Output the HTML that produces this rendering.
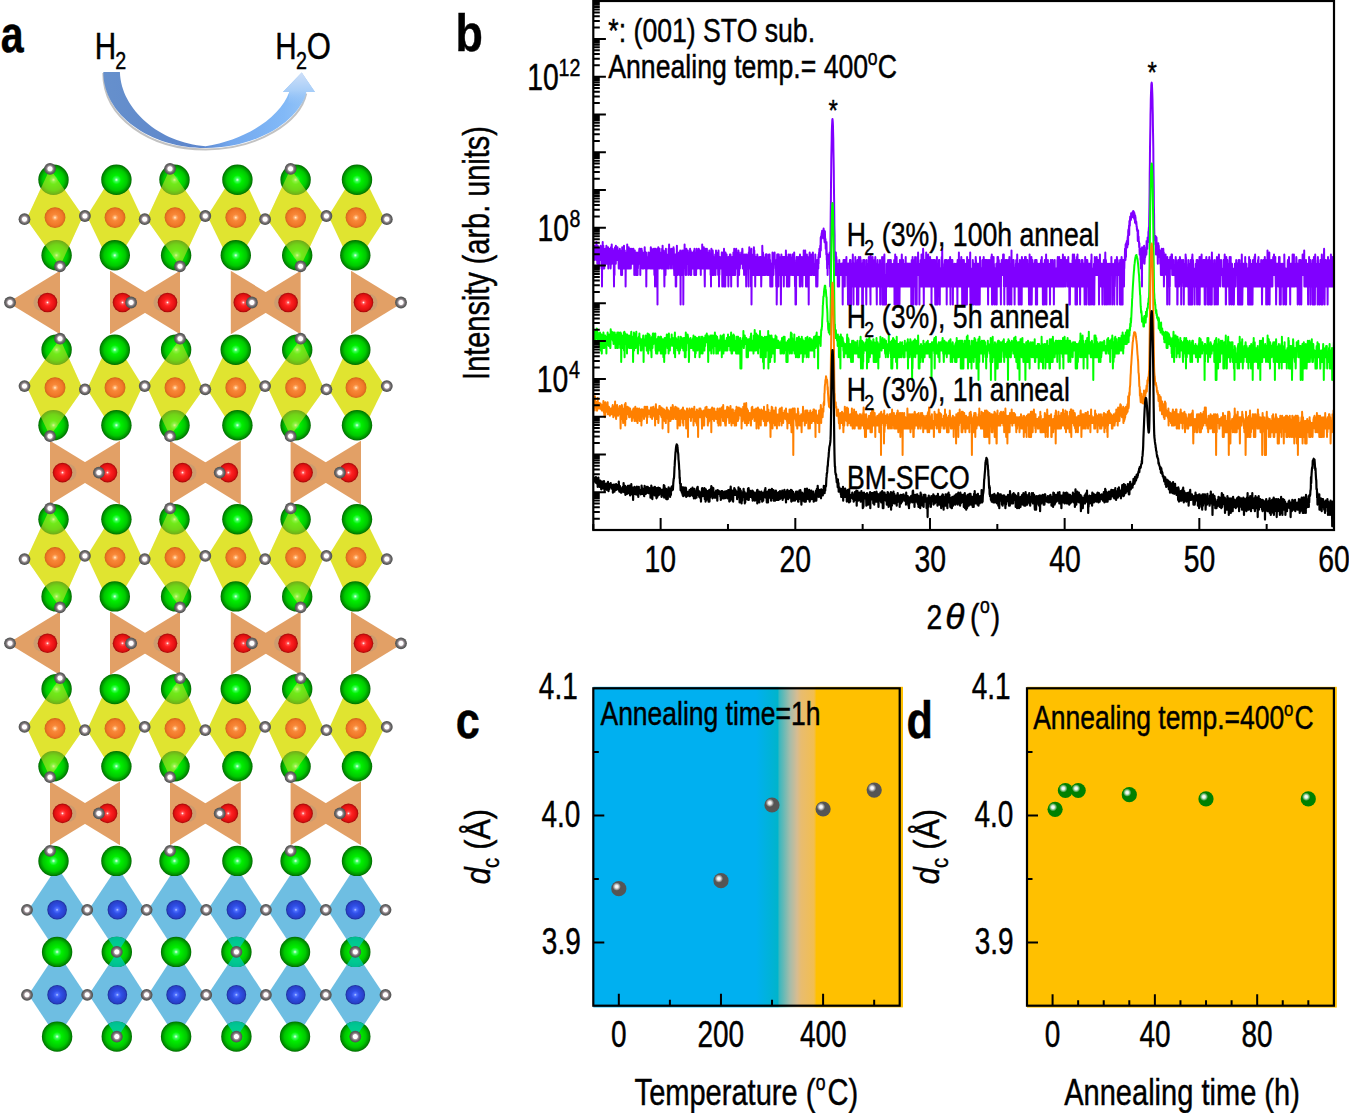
<!DOCTYPE html>
<html><head><meta charset="utf-8"><style>
html,body{margin:0;padding:0;background:#fff;}
svg{display:block;}
text{font-family:"Liberation Sans",sans-serif;stroke:#000;stroke-width:0.45px;}
</style></head><body>
<svg width="1349" height="1113" viewBox="0 0 1349 1113">
<defs>
<clipPath id="clipb"><rect x="593.3" y="1.0" width="740.7" height="529.0"/></clipPath>
<radialGradient id="hl"><stop offset="0" stop-color="#fff" stop-opacity="1"/><stop offset="0.35" stop-color="#fff" stop-opacity="0.9"/><stop offset="1" stop-color="#fff" stop-opacity="0"/></radialGradient>
<linearGradient id="cbg" gradientUnits="userSpaceOnUse" x1="593" y1="0" x2="903" y2="0">
<stop offset="0.5258" stop-color="#00b0f0"/><stop offset="0.5952" stop-color="#00b4cc"/><stop offset="0.6016" stop-color="#3cb8be"/>
<stop offset="0.6355" stop-color="#a6bcaa"/><stop offset="0.6581" stop-color="#d6bc92"/><stop offset="0.6710" stop-color="#e8bc70"/><stop offset="0.7129" stop-color="#f2be50"/><stop offset="0.7210" stop-color="#ffc000"/>
</linearGradient>
<radialGradient id="gG" cx="0.5" cy="0.5" r="0.5"><stop offset="0" stop-color="#e8fff0"/><stop offset="0.12" stop-color="#40ff60"/><stop offset="0.3" stop-color="#00f000"/><stop offset="0.7" stop-color="#00c800"/><stop offset="0.9" stop-color="#009000"/><stop offset="1" stop-color="#006a00"/></radialGradient>
<radialGradient id="gO" cx="0.5" cy="0.5" r="0.5"><stop offset="0" stop-color="#fff4d8"/><stop offset="0.14" stop-color="#ffb070"/><stop offset="0.32" stop-color="#f88838"/><stop offset="0.75" stop-color="#f07828"/><stop offset="0.92" stop-color="#e06a20"/><stop offset="1" stop-color="#c85a18"/></radialGradient>
<radialGradient id="gR" cx="0.5" cy="0.5" r="0.5"><stop offset="0" stop-color="#ffffff"/><stop offset="0.15" stop-color="#ff5050"/><stop offset="0.35" stop-color="#ff2020"/><stop offset="0.8" stop-color="#e01010"/><stop offset="1" stop-color="#a00808"/></radialGradient>
<radialGradient id="gB" cx="0.5" cy="0.5" r="0.5"><stop offset="0" stop-color="#c0d0ff"/><stop offset="0.15" stop-color="#5070ff"/><stop offset="0.4" stop-color="#3050e8"/><stop offset="0.85" stop-color="#2840c8"/><stop offset="1" stop-color="#1a2890"/></radialGradient>
<radialGradient id="gW" cx="0.5" cy="0.5" r="0.5"><stop offset="0" stop-color="#ffffff"/><stop offset="0.36" stop-color="#ffffff"/><stop offset="0.5" stop-color="#a898a0"/><stop offset="0.7" stop-color="#6c6c6c"/><stop offset="1" stop-color="#4c4c4c"/></radialGradient>
<clipPath id="tealclip"><circle cx="116.8" cy="951.9" r="15.2"/><circle cx="236.4" cy="951.9" r="15.2"/><circle cx="355.3" cy="951.9" r="15.2"/><circle cx="116.8" cy="1036.6" r="15.2"/><circle cx="236.4" cy="1036.6" r="15.2"/><circle cx="355.3" cy="1036.6" r="15.2"/></clipPath>
<linearGradient id="arr" gradientUnits="userSpaceOnUse" x1="103" y1="0" x2="316" y2="0"><stop offset="0" stop-color="#6690cc"/><stop offset="0.45" stop-color="#5d86cc"/><stop offset="0.6" stop-color="#73a8ee"/><stop offset="0.85" stop-color="#82b9f7"/><stop offset="1" stop-color="#9cc8f6"/></linearGradient>
<linearGradient id="arrh" gradientUnits="userSpaceOnUse" x1="0" y1="72" x2="0" y2="106"><stop offset="0" stop-color="#d0e0f8"/><stop offset="0.55" stop-color="#a8cef8"/><stop offset="1" stop-color="#8fc0f7" stop-opacity="0"/></linearGradient>
</defs>
<rect width="1349" height="1113" fill="#fff"/>
<g clip-path="url(#clipb)">
<polyline points="593.3,257.1 593.5,245.7 593.6,247.2 593.8,252.4 593.9,254.6 594.1,252.4 594.3,260.1 594.4,254.6 594.6,257.1 594.8,250.5 594.9,245.7 595.1,252.4 595.2,257.1 595.4,257.1 595.6,254.6 595.7,250.5 595.9,247.2 596.0,247.2 596.2,260.1 596.4,242.1 596.5,247.2 596.7,252.4 596.9,260.1 597.0,257.1 597.2,245.7 597.3,263.8 597.5,260.1 597.7,247.2 597.8,245.7 598.0,248.7 598.1,260.1 598.3,247.2 598.5,254.6 598.6,260.1 598.8,268.5 599.0,263.8 599.1,260.1 599.3,252.4 599.4,250.5 599.6,252.4 599.8,254.6 599.9,260.1 600.1,257.1 600.2,248.7 600.4,250.5 600.6,245.7 600.7,250.5 600.9,248.7 601.1,247.2 601.2,252.4 601.4,248.7 601.5,268.5 601.7,250.5 601.9,254.6 602.0,286.5 602.2,247.2 602.4,250.5 602.5,257.1 602.7,242.1 602.8,257.1 603.0,254.6 603.2,257.1 603.3,245.7 603.5,268.5 603.6,248.7 603.8,263.8 604.0,260.1 604.1,257.1 604.3,268.5 604.5,257.1 604.6,257.1 604.8,263.8 604.9,254.6 605.1,248.7 605.3,260.1 605.4,252.4 605.6,254.6 605.7,252.4 605.9,250.5 606.1,260.1 606.2,263.8 606.4,245.7 606.6,248.7 606.7,263.8 606.9,250.5 607.0,263.8 607.2,257.1 607.4,263.8 607.5,257.1 607.7,260.1 607.8,254.6 608.0,247.2 608.2,257.1 608.3,268.5 608.5,260.1 608.7,252.4 608.8,260.1 609.0,257.1 609.1,254.6 609.3,263.8 609.5,254.6 609.6,263.8 609.8,254.6 609.9,248.7 610.1,250.5 610.3,263.8 610.4,248.7 610.6,268.5 610.8,263.8 610.9,247.2 611.1,257.1 611.2,254.6 611.4,254.6 611.6,252.4 611.7,244.4 611.9,250.5 612.0,263.8 612.2,250.5 612.4,257.1 612.5,257.1 612.7,248.7 612.9,252.4 613.0,257.1 613.2,257.1 613.3,252.4 613.5,260.1 613.7,250.5 613.8,260.1 614.0,286.5 614.1,263.8 614.3,257.1 614.5,275.1 614.6,257.1 614.8,254.6 615.0,247.2 615.1,248.7 615.3,260.1 615.4,252.4 615.6,250.5 615.8,263.8 615.9,245.7 616.1,260.1 616.2,248.7 616.4,254.6 616.6,260.1 616.7,260.1 616.9,254.6 617.1,257.1 617.2,250.5 617.4,247.2 617.5,247.2 617.7,257.1 617.9,250.5 618.0,260.1 618.2,260.1 618.3,254.6 618.5,254.6 618.7,268.5 618.8,257.1 619.0,254.6 619.2,260.1 619.3,260.1 619.5,268.5 619.6,260.1 619.8,248.7 620.0,252.4 620.1,257.1 620.3,250.5 620.5,252.4 620.6,268.5 620.8,252.4 620.9,254.6 621.1,275.1 621.3,260.1 621.4,260.1 621.6,260.1 621.7,263.8 621.9,268.5 622.1,275.1 622.2,247.2 622.4,260.1 622.6,248.7 622.7,257.1 622.9,260.1 623.0,252.4 623.2,250.5 623.4,268.5 623.5,254.6 623.7,254.6 623.8,263.8 624.0,245.7 624.2,268.5 624.3,252.4 624.5,263.8 624.7,252.4 624.8,250.5 625.0,260.1 625.1,263.8 625.3,260.1 625.5,254.6 625.6,286.5 625.8,263.8 625.9,268.5 626.1,254.6 626.3,254.6 626.4,268.5 626.6,260.1 626.8,252.4 626.9,268.5 627.1,252.4 627.2,244.4 627.4,263.8 627.6,263.8 627.7,263.8 627.9,257.1 628.0,268.5 628.2,260.1 628.4,252.4 628.5,263.8 628.7,247.2 628.9,254.6 629.0,268.5 629.2,268.5 629.3,257.1 629.5,263.8 629.7,257.1 629.8,254.6 630.0,257.1 630.1,248.7 630.3,268.5 630.5,260.1 630.6,254.6 630.8,268.5 631.0,257.1 631.1,263.8 631.3,252.4 631.4,252.4 631.6,257.1 631.8,248.7 631.9,263.8 632.1,260.1 632.2,254.6 632.4,257.1 632.6,260.1 632.7,260.1 632.9,263.8 633.1,252.4 633.2,263.8 633.4,248.7 633.5,263.8 633.7,260.1 633.9,260.1 634.0,257.1 634.2,257.1 634.3,275.1 634.5,260.1 634.7,260.1 634.8,250.5 635.0,268.5 635.2,257.1 635.3,252.4 635.5,268.5 635.6,260.1 635.8,275.1 636.0,260.1 636.1,268.5 636.3,275.1 636.4,260.1 636.6,257.1 636.8,275.1 636.9,252.4 637.1,257.1 637.3,260.1 637.4,257.1 637.6,275.1 637.7,260.1 637.9,268.5 638.1,260.1 638.2,263.8 638.4,257.1 638.6,252.4 638.7,257.1 638.9,260.1 639.0,260.1 639.2,250.5 639.4,248.7 639.5,257.1 639.7,263.8 639.8,260.1 640.0,248.7 640.2,252.4 640.3,275.1 640.5,254.6 640.7,252.4 640.8,260.1 641.0,250.5 641.1,250.5 641.3,250.5 641.5,252.4 641.6,248.7 641.8,257.1 641.9,250.5 642.1,263.8 642.3,268.5 642.4,254.6 642.6,257.1 642.8,260.1 642.9,252.4 643.1,268.5 643.2,263.8 643.4,254.6 643.6,268.5 643.7,257.1 643.9,260.1 644.0,260.1 644.2,254.6 644.4,260.1 644.5,260.1 644.7,247.2 644.9,257.1 645.0,252.4 645.2,263.8 645.3,268.5 645.5,268.5 645.7,260.1 645.8,252.4 646.0,252.4 646.1,254.6 646.3,286.5 646.5,257.1 646.6,257.1 646.8,260.1 647.0,268.5 647.1,268.5 647.3,268.5 647.4,260.1 647.6,257.1 647.8,268.5 647.9,263.8 648.1,268.5 648.2,260.1 648.4,252.4 648.6,263.8 648.7,260.1 648.9,263.8 649.1,263.8 649.2,260.1 649.4,254.6 649.5,254.6 649.7,257.1 649.9,268.5 650.0,252.4 650.2,263.8 650.3,257.1 650.5,263.8 650.7,263.8 650.8,247.2 651.0,268.5 651.2,268.5 651.3,260.1 651.5,263.8 651.6,254.6 651.8,248.7 652.0,268.5 652.1,257.1 652.3,257.1 652.4,260.1 652.6,263.8 652.8,268.5 652.9,260.1 653.1,268.5 653.3,263.8 653.4,257.1 653.6,250.5 653.7,250.5 653.9,248.7 654.1,268.5 654.2,263.8 654.4,275.1 654.5,263.8 654.7,257.1 654.9,248.7 655.0,286.5 655.2,252.4 655.4,263.8 655.5,268.5 655.7,260.1 655.8,248.7 656.0,254.6 656.2,263.8 656.3,252.4 656.5,286.5 656.7,275.1 656.8,260.1 657.0,257.1 657.1,257.1 657.3,263.8 657.5,304.5 657.6,257.1 657.8,248.7 657.9,263.8 658.1,252.4 658.3,247.2 658.4,260.1 658.6,260.1 658.8,263.8 658.9,257.1 659.1,252.4 659.2,257.1 659.4,268.5 659.6,248.7 659.7,263.8 659.9,263.8 660.0,263.8 660.2,254.6 660.4,254.6 660.5,263.8 660.7,263.8 660.9,260.1 661.0,257.1 661.2,252.4 661.3,268.5 661.5,260.1 661.7,263.8 661.8,260.1 662.0,268.5 662.1,248.7 662.3,260.1 662.5,254.6 662.6,245.7 662.8,260.1 663.0,260.1 663.1,268.5 663.3,250.5 663.4,257.1 663.6,263.8 663.8,254.6 663.9,252.4 664.1,263.8 664.2,268.5 664.4,286.5 664.6,263.8 664.7,260.1 664.9,268.5 665.1,260.1 665.2,263.8 665.4,250.5 665.5,275.1 665.7,260.1 665.9,248.7 666.0,254.6 666.2,263.8 666.3,268.5 666.5,260.1 666.7,263.8 666.8,254.6 667.0,263.8 667.2,260.1 667.3,257.1 667.5,257.1 667.6,263.8 667.8,268.5 668.0,254.6 668.1,257.1 668.3,260.1 668.4,268.5 668.6,248.7 668.8,260.1 668.9,268.5 669.1,244.4 669.3,257.1 669.4,252.4 669.6,263.8 669.7,257.1 669.9,250.5 670.1,263.8 670.2,257.1 670.4,250.5 670.5,263.8 670.7,263.8 670.9,260.1 671.0,268.5 671.2,248.7 671.4,257.1 671.5,260.1 671.7,263.8 671.8,263.8 672.0,260.1 672.2,263.8 672.3,260.1 672.5,260.1 672.6,248.7 672.8,250.5 673.0,260.1 673.1,268.5 673.3,250.5 673.5,247.2 673.6,257.1 673.8,248.7 673.9,254.6 674.1,268.5 674.3,275.1 674.4,260.1 674.6,254.6 674.8,260.1 674.9,260.1 675.1,263.8 675.2,268.5 675.4,254.6 675.6,254.6 675.7,286.5 675.9,260.1 676.0,263.8 676.2,286.5 676.4,260.1 676.5,260.1 676.7,257.1 676.9,245.7 677.0,263.8 677.2,257.1 677.3,257.1 677.5,268.5 677.7,275.1 677.8,260.1 678.0,260.1 678.1,254.6 678.3,257.1 678.5,257.1 678.6,263.8 678.8,257.1 679.0,252.4 679.1,254.6 679.3,252.4 679.4,257.1 679.6,275.1 679.8,263.8 679.9,260.1 680.1,268.5 680.2,250.5 680.4,252.4 680.6,304.5 680.7,254.6 680.9,263.8 681.1,254.6 681.2,268.5 681.4,268.5 681.5,268.5 681.7,260.1 681.9,263.8 682.0,254.6 682.2,250.5 682.3,275.1 682.5,260.1 682.7,254.6 682.8,268.5 683.0,275.1 683.2,257.1 683.3,304.5 683.5,250.5 683.6,250.5 683.8,260.1 684.0,260.1 684.1,263.8 684.3,260.1 684.4,263.8 684.6,244.4 684.8,263.8 684.9,252.4 685.1,263.8 685.3,268.5 685.4,263.8 685.6,275.1 685.7,250.5 685.9,260.1 686.1,275.1 686.2,254.6 686.4,248.7 686.5,252.4 686.7,252.4 686.9,250.5 687.0,260.1 687.2,257.1 687.4,263.8 687.5,257.1 687.7,257.1 687.8,250.5 688.0,254.6 688.2,254.6 688.3,275.1 688.5,257.1 688.6,260.1 688.8,268.5 689.0,257.1 689.1,257.1 689.3,252.4 689.5,260.1 689.6,254.6 689.8,254.6 689.9,254.6 690.1,248.7 690.3,275.1 690.4,252.4 690.6,250.5 690.7,257.1 690.9,260.1 691.1,260.1 691.2,275.1 691.4,263.8 691.6,257.1 691.7,263.8 691.9,252.4 692.0,263.8 692.2,263.8 692.4,257.1 692.5,257.1 692.7,263.8 692.9,268.5 693.0,252.4 693.2,257.1 693.3,260.1 693.5,260.1 693.7,268.5 693.8,263.8 694.0,252.4 694.1,250.5 694.3,275.1 694.5,248.7 694.6,254.6 694.8,257.1 695.0,254.6 695.1,252.4 695.3,275.1 695.4,254.6 695.6,260.1 695.8,254.6 695.9,257.1 696.1,275.1 696.2,263.8 696.4,257.1 696.6,254.6 696.7,248.7 696.9,268.5 697.1,263.8 697.2,263.8 697.4,268.5 697.5,268.5 697.7,263.8 697.9,263.8 698.0,252.4 698.2,260.1 698.3,260.1 698.5,250.5 698.7,254.6 698.8,248.7 699.0,257.1 699.2,268.5 699.3,260.1 699.5,254.6 699.6,268.5 699.8,263.8 700.0,250.5 700.1,263.8 700.3,268.5 700.4,268.5 700.6,260.1 700.8,275.1 700.9,260.1 701.1,260.1 701.3,260.1 701.4,257.1 701.6,250.5 701.7,268.5 701.9,268.5 702.1,257.1 702.2,244.4 702.4,257.1 702.5,257.1 702.7,252.4 702.9,268.5 703.0,263.8 703.2,263.8 703.4,263.8 703.5,263.8 703.7,254.6 703.8,247.2 704.0,260.1 704.2,263.8 704.3,254.6 704.5,250.5 704.6,275.1 704.8,286.5 705.0,260.1 705.1,263.8 705.3,268.5 705.5,263.8 705.6,248.7 705.8,257.1 705.9,257.1 706.1,268.5 706.3,254.6 706.4,254.6 706.6,260.1 706.7,257.1 706.9,248.7 707.1,268.5 707.2,260.1 707.4,260.1 707.6,263.8 707.7,268.5 707.9,252.4 708.0,263.8 708.2,268.5 708.4,257.1 708.5,252.4 708.7,268.5 708.8,257.1 709.0,260.1 709.2,254.6 709.3,250.5 709.5,260.1 709.7,257.1 709.8,263.8 710.0,268.5 710.1,257.1 710.3,254.6 710.5,257.1 710.6,275.1 710.8,254.6 711.0,286.5 711.1,263.8 711.3,263.8 711.4,248.7 711.6,263.8 711.8,254.6 711.9,252.4 712.1,254.6 712.2,263.8 712.4,260.1 712.6,275.1 712.7,250.5 712.9,254.6 713.1,260.1 713.2,257.1 713.4,260.1 713.5,257.1 713.7,268.5 713.9,275.1 714.0,268.5 714.2,263.8 714.3,268.5 714.5,257.1 714.7,260.1 714.8,268.5 715.0,268.5 715.2,254.6 715.3,260.1 715.5,275.1 715.6,268.5 715.8,263.8 716.0,250.5 716.1,257.1 716.3,268.5 716.4,257.1 716.6,263.8 716.8,257.1 716.9,260.1 717.1,257.1 717.3,257.1 717.4,257.1 717.6,254.6 717.7,257.1 717.9,252.4 718.1,268.5 718.2,275.1 718.4,257.1 718.5,250.5 718.7,260.1 718.9,263.8 719.0,286.5 719.2,263.8 719.4,275.1 719.5,268.5 719.7,263.8 719.8,257.1 720.0,260.1 720.2,263.8 720.3,268.5 720.5,260.1 720.6,260.1 720.8,268.5 721.0,257.1 721.1,268.5 721.3,260.1 721.5,260.1 721.6,263.8 721.8,252.4 721.9,254.6 722.1,252.4 722.3,286.5 722.4,260.1 722.6,263.8 722.7,275.1 722.9,254.6 723.1,268.5 723.2,260.1 723.4,254.6 723.6,260.1 723.7,260.1 723.9,286.5 724.0,248.7 724.2,254.6 724.4,260.1 724.5,260.1 724.7,268.5 724.8,260.1 725.0,263.8 725.2,257.1 725.3,286.5 725.5,252.4 725.7,268.5 725.8,260.1 726.0,254.6 726.1,263.8 726.3,275.1 726.5,263.8 726.6,254.6 726.8,275.1 726.9,260.1 727.1,275.1 727.3,263.8 727.4,275.1 727.6,257.1 727.8,260.1 727.9,268.5 728.1,260.1 728.2,260.1 728.4,286.5 728.6,257.1 728.7,263.8 728.9,260.1 729.1,260.1 729.2,268.5 729.4,268.5 729.5,275.1 729.7,263.8 729.9,254.6 730.0,268.5 730.2,268.5 730.3,263.8 730.5,254.6 730.7,263.8 730.8,263.8 731.0,263.8 731.2,286.5 731.3,260.1 731.5,263.8 731.6,263.8 731.8,268.5 732.0,275.1 732.1,257.1 732.3,275.1 732.4,260.1 732.6,268.5 732.8,263.8 732.9,263.8 733.1,268.5 733.3,275.1 733.4,252.4 733.6,263.8 733.7,252.4 733.9,275.1 734.1,260.1 734.2,248.7 734.4,252.4 734.5,257.1 734.7,252.4 734.9,254.6 735.0,275.1 735.2,275.1 735.4,257.1 735.5,257.1 735.7,254.6 735.8,268.5 736.0,268.5 736.2,248.7 736.3,268.5 736.5,263.8 736.6,252.4 736.8,268.5 737.0,263.8 737.1,257.1 737.3,257.1 737.5,260.1 737.6,263.8 737.8,286.5 737.9,268.5 738.1,252.4 738.3,268.5 738.4,250.5 738.6,257.1 738.7,252.4 738.9,252.4 739.1,275.1 739.2,263.8 739.4,254.6 739.6,268.5 739.7,257.1 739.9,268.5 740.0,263.8 740.2,260.1 740.4,260.1 740.5,260.1 740.7,263.8 740.8,263.8 741.0,260.1 741.2,252.4 741.3,260.1 741.5,263.8 741.7,252.4 741.8,257.1 742.0,252.4 742.1,252.4 742.3,248.7 742.5,250.5 742.6,257.1 742.8,268.5 742.9,263.8 743.1,263.8 743.3,268.5 743.4,254.6 743.6,263.8 743.8,268.5 743.9,263.8 744.1,275.1 744.2,263.8 744.4,254.6 744.6,268.5 744.7,263.8 744.9,260.1 745.0,268.5 745.2,268.5 745.4,263.8 745.5,268.5 745.7,263.8 745.9,254.6 746.0,268.5 746.2,286.5 746.3,268.5 746.5,257.1 746.7,260.1 746.8,254.6 747.0,268.5 747.2,260.1 747.3,260.1 747.5,257.1 747.6,268.5 747.8,268.5 748.0,263.8 748.1,257.1 748.3,263.8 748.4,275.1 748.6,286.5 748.8,252.4 748.9,252.4 749.1,260.1 749.3,247.2 749.4,257.1 749.6,257.1 749.7,260.1 749.9,254.6 750.1,257.1 750.2,268.5 750.4,260.1 750.5,257.1 750.7,254.6 750.9,260.1 751.0,286.5 751.2,254.6 751.4,248.7 751.5,304.5 751.7,263.8 751.8,263.8 752.0,268.5 752.2,275.1 752.3,254.6 752.5,275.1 752.6,268.5 752.8,257.1 753.0,268.5 753.1,263.8 753.3,254.6 753.5,260.1 753.6,263.8 753.8,275.1 753.9,247.2 754.1,263.8 754.3,250.5 754.4,275.1 754.6,260.1 754.7,254.6 754.9,275.1 755.1,257.1 755.2,286.5 755.4,257.1 755.6,275.1 755.7,268.5 755.9,268.5 756.0,268.5 756.2,257.1 756.4,257.1 756.5,263.8 756.7,268.5 756.8,275.1 757.0,263.8 757.2,268.5 757.3,254.6 757.5,260.1 757.7,268.5 757.8,260.1 758.0,257.1 758.1,268.5 758.3,275.1 758.5,268.5 758.6,263.8 758.8,268.5 758.9,263.8 759.1,260.1 759.3,260.1 759.4,275.1 759.6,275.1 759.8,257.1 759.9,257.1 760.1,260.1 760.2,263.8 760.4,260.1 760.6,257.1 760.7,275.1 760.9,275.1 761.0,263.8 761.2,286.5 761.4,275.1 761.5,257.1 761.7,268.5 761.9,260.1 762.0,260.1 762.2,268.5 762.3,245.7 762.5,260.1 762.7,268.5 762.8,275.1 763.0,252.4 763.1,275.1 763.3,263.8 763.5,257.1 763.6,263.8 763.8,275.1 764.0,260.1 764.1,268.5 764.3,260.1 764.4,268.5 764.6,275.1 764.8,260.1 764.9,260.1 765.1,275.1 765.3,275.1 765.4,260.1 765.6,254.6 765.7,263.8 765.9,263.8 766.1,263.8 766.2,254.6 766.4,263.8 766.5,254.6 766.7,257.1 766.9,254.6 767.0,275.1 767.2,275.1 767.4,268.5 767.5,260.1 767.7,275.1 767.8,263.8 768.0,275.1 768.2,268.5 768.3,263.8 768.5,263.8 768.6,275.1 768.8,275.1 769.0,254.6 769.1,260.1 769.3,268.5 769.5,263.8 769.6,254.6 769.8,268.5 769.9,275.1 770.1,260.1 770.3,286.5 770.4,286.5 770.6,275.1 770.7,275.1 770.9,275.1 771.1,286.5 771.2,263.8 771.4,268.5 771.6,268.5 771.7,263.8 771.9,263.8 772.0,263.8 772.2,263.8 772.4,286.5 772.5,252.4 772.7,254.6 772.8,263.8 773.0,260.1 773.2,257.1 773.3,268.5 773.5,275.1 773.7,263.8 773.8,268.5 774.0,260.1 774.1,257.1 774.3,260.1 774.5,257.1 774.6,252.4 774.8,263.8 774.9,260.1 775.1,260.1 775.3,260.1 775.4,260.1 775.6,263.8 775.8,263.8 775.9,263.8 776.1,275.1 776.2,286.5 776.4,275.1 776.6,260.1 776.7,304.5 776.9,286.5 777.0,263.8 777.2,254.6 777.4,260.1 777.5,275.1 777.7,254.6 777.9,257.1 778.0,263.8 778.2,286.5 778.3,254.6 778.5,286.5 778.7,257.1 778.8,254.6 779.0,275.1 779.1,275.1 779.3,275.1 779.5,263.8 779.6,275.1 779.8,257.1 780.0,268.5 780.1,268.5 780.3,268.5 780.4,257.1 780.6,268.5 780.8,260.1 780.9,304.5 781.1,275.1 781.2,260.1 781.4,254.6 781.6,275.1 781.7,257.1 781.9,268.5 782.1,260.1 782.2,263.8 782.4,263.8 782.5,275.1 782.7,263.8 782.9,257.1 783.0,275.1 783.2,275.1 783.4,257.1 783.5,275.1 783.7,268.5 783.8,286.5 784.0,260.1 784.2,260.1 784.3,260.1 784.5,257.1 784.6,263.8 784.8,260.1 785.0,268.5 785.1,263.8 785.3,257.1 785.5,275.1 785.6,260.1 785.8,263.8 785.9,250.5 786.1,260.1 786.3,257.1 786.4,260.1 786.6,268.5 786.7,260.1 786.9,286.5 787.1,263.8 787.2,268.5 787.4,268.5 787.6,263.8 787.7,268.5 787.9,260.1 788.0,257.1 788.2,286.5 788.4,275.1 788.5,254.6 788.7,260.1 788.8,260.1 789.0,263.8 789.2,268.5 789.3,286.5 789.5,260.1 789.7,275.1 789.8,268.5 790.0,263.8 790.1,254.6 790.3,275.1 790.5,260.1 790.6,263.8 790.8,268.5 790.9,263.8 791.1,260.1 791.3,260.1 791.4,268.5 791.6,260.1 791.8,275.1 791.9,268.5 792.1,257.1 792.2,275.1 792.4,254.6 792.6,268.5 792.7,254.6 792.9,268.5 793.0,268.5 793.2,275.1 793.4,257.1 793.5,263.8 793.7,275.1 793.9,260.1 794.0,257.1 794.2,252.4 794.3,268.5 794.5,268.5 794.7,275.1 794.8,268.5 795.0,286.5 795.1,275.1 795.3,263.8 795.5,304.5 795.6,286.5 795.8,268.5 796.0,304.5 796.1,286.5 796.3,260.1 796.4,268.5 796.6,257.1 796.8,268.5 796.9,257.1 797.1,268.5 797.2,260.1 797.4,268.5 797.6,260.1 797.7,275.1 797.9,268.5 798.1,268.5 798.2,257.1 798.4,268.5 798.5,260.1 798.7,268.5 798.9,275.1 799.0,260.1 799.2,260.1 799.3,263.8 799.5,260.1 799.7,275.1 799.8,286.5 800.0,254.6 800.2,263.8 800.3,286.5 800.5,263.8 800.6,268.5 800.8,263.8 801.0,268.5 801.1,268.5 801.3,263.8 801.5,260.1 801.6,260.1 801.8,257.1 801.9,263.8 802.1,263.8 802.3,275.1 802.4,286.5 802.6,268.5 802.7,263.8 802.9,275.1 803.1,260.1 803.2,263.8 803.4,275.1 803.6,263.8 803.7,250.5 803.9,268.5 804.0,268.5 804.2,268.5 804.4,275.1 804.5,268.5 804.7,263.8 804.8,268.5 805.0,275.1 805.2,250.5 805.3,268.5 805.5,257.1 805.7,257.1 805.8,257.1 806.0,286.5 806.1,268.5 806.3,275.1 806.5,260.1 806.6,263.8 806.8,268.5 806.9,254.6 807.1,286.5 807.3,286.5 807.4,257.1 807.6,260.1 807.8,268.5 807.9,286.5 808.1,268.5 808.2,275.1 808.4,268.5 808.6,260.1 808.7,304.5 808.9,257.1 809.0,257.1 809.2,263.8 809.4,263.8 809.5,254.6 809.7,252.4 809.9,268.5 810.0,275.1 810.2,268.5 810.3,275.1 810.5,263.8 810.7,275.1 810.8,263.8 811.0,268.5 811.1,263.8 811.3,254.6 811.5,268.5 811.6,268.5 811.8,275.1 812.0,263.8 812.1,254.6 812.3,268.5 812.4,260.1 812.6,260.1 812.8,263.8 812.9,252.4 813.1,263.8 813.2,263.8 813.4,275.1 813.6,268.5 813.7,263.8 813.9,268.5 814.1,275.1 814.2,275.1 814.4,268.5 814.5,268.5 814.7,275.1 814.9,263.8 815.0,275.1 815.2,263.8 815.3,254.6 815.5,268.5 815.7,268.5 815.8,268.5 816.0,268.5 816.2,286.5 816.3,260.1 816.5,275.1 816.6,275.1 816.8,275.1 817.0,275.1 817.1,260.1 817.3,275.1 817.4,286.5 817.6,275.1 817.8,260.1 817.9,268.5 818.1,263.8 818.3,268.5 818.4,257.1 818.6,263.8 818.7,254.6 818.9,257.1 819.1,252.4 819.2,254.6 819.4,248.7 819.6,248.7 819.7,252.4 819.9,254.6 820.0,257.1 820.2,245.7 820.4,248.7 820.5,248.7 820.7,237.4 820.8,250.5 821.0,236.6 821.2,236.6 821.3,239.1 821.5,235.1 821.7,233.0 821.8,237.4 822.0,234.4 822.1,230.7 822.3,235.1 822.5,231.3 822.6,230.7 822.8,230.7 822.9,231.8 823.1,231.8 823.3,230.7 823.4,238.2 823.6,228.6 823.8,230.7 823.9,235.1 824.1,237.4 824.2,235.1 824.4,240.0 824.6,242.1 824.7,242.1 824.9,231.3 825.0,235.1 825.2,242.1 825.4,243.2 825.5,239.1 825.7,248.7 825.9,243.2 826.0,243.2 826.2,243.2 826.3,254.6 826.5,242.1 826.7,254.6 826.8,260.1 827.0,260.1 827.1,268.5 827.3,260.1 827.5,260.1 827.6,275.1 827.8,254.6 828.0,260.1 828.1,263.8 828.3,263.8 828.4,257.1 828.6,257.1 828.8,257.1 828.9,263.8 829.1,257.1 829.2,254.6 829.4,263.8 829.6,252.4 829.7,260.1 829.9,268.5 830.1,254.6 830.2,286.5 830.4,245.7 830.5,234.4 830.7,214.0 830.9,199.3 831.0,184.1 831.2,170.7 831.3,158.4 831.5,148.6 831.7,139.3 831.8,132.0 832.0,126.2 832.2,122.3 832.3,119.9 832.5,119.0 832.6,119.8 832.8,122.2 833.0,126.3 833.1,132.0 833.3,138.9 833.4,147.9 833.6,158.4 833.8,170.6 833.9,183.2 834.1,198.5 834.3,214.4 834.4,226.0 834.6,235.1 834.7,260.1 834.9,254.6 835.1,254.6 835.2,257.1 835.4,254.6 835.5,275.1 835.7,275.1 835.9,252.4 836.0,263.8 836.2,263.8 836.4,257.1 836.5,268.5 836.7,260.1 836.8,275.1 837.0,268.5 837.2,275.1 837.3,263.8 837.5,275.1 837.7,268.5 837.8,286.5 838.0,275.1 838.1,275.1 838.3,268.5 838.5,263.8 838.6,286.5 838.8,275.1 838.9,263.8 839.1,286.5 839.3,260.1 839.4,268.5 839.6,268.5 839.8,275.1 839.9,268.5 840.1,263.8 840.2,263.8 840.4,268.5 840.6,268.5 840.7,275.1 840.9,268.5 841.0,263.8 841.2,275.1 841.4,268.5 841.5,268.5 841.7,263.8 841.9,275.1 842.0,275.1 842.2,263.8 842.3,268.5 842.5,263.8 842.7,304.5 842.8,275.1 843.0,275.1 843.1,268.5 843.3,286.5 843.5,260.1 843.6,268.5 843.8,263.8 844.0,263.8 844.1,260.1 844.3,260.1 844.4,263.8 844.6,286.5 844.8,286.5 844.9,260.1 845.1,275.1 845.2,260.1 845.4,263.8 845.6,275.1 845.7,268.5 845.9,260.1 846.1,275.1 846.2,275.1 846.4,257.1 846.5,275.1 846.7,268.5 846.9,268.5 847.0,275.1 847.2,268.5 847.3,268.5 847.5,286.5 847.7,263.8 847.8,263.8 848.0,304.5 848.2,263.8 848.3,275.1 848.5,275.1 848.6,263.8 848.8,275.1 849.0,275.1 849.1,268.5 849.3,304.5 849.4,275.1 849.6,275.1 849.8,275.1 849.9,260.1 850.1,260.1 850.3,260.1 850.4,260.1 850.6,260.1 850.7,263.8 850.9,268.5 851.1,304.5 851.2,275.1 851.4,268.5 851.5,263.8 851.7,286.5 851.9,268.5 852.0,286.5 852.2,286.5 852.4,286.5 852.5,286.5 852.7,286.5 852.8,254.6 853.0,263.8 853.2,268.5 853.3,275.1 853.5,304.5 853.6,268.5 853.8,275.1 854.0,263.8 854.1,263.8 854.3,275.1 854.5,275.1 854.6,286.5 854.8,268.5 854.9,268.5 855.1,286.5 855.3,257.1 855.4,275.1 855.6,268.5 855.8,286.5 855.9,268.5 856.1,275.1 856.2,268.5 856.4,268.5 856.6,275.1 856.7,268.5 856.9,275.1 857.0,304.5 857.2,268.5 857.4,260.1 857.5,275.1 857.7,275.1 857.9,260.1 858.0,268.5 858.2,275.1 858.3,304.5 858.5,263.8 858.7,268.5 858.8,257.1 859.0,275.1 859.1,275.1 859.3,286.5 859.5,263.8 859.6,263.8 859.8,275.1 860.0,275.1 860.1,286.5 860.3,257.1 860.4,275.1 860.6,263.8 860.8,260.1 860.9,275.1 861.1,263.8 861.2,268.5 861.4,286.5 861.6,275.1 861.7,286.5 861.9,286.5 862.1,263.8 862.2,304.5 862.4,268.5 862.5,304.5 862.7,275.1 862.9,304.5 863.0,275.1 863.2,260.1 863.3,268.5 863.5,260.1 863.7,268.5 863.8,286.5 864.0,268.5 864.2,286.5 864.3,268.5 864.5,260.1 864.6,275.1 864.8,275.1 865.0,286.5 865.1,275.1 865.3,275.1 865.4,286.5 865.6,275.1 865.8,268.5 865.9,275.1 866.1,286.5 866.3,304.5 866.4,286.5 866.6,260.1 866.7,286.5 866.9,286.5 867.1,286.5 867.2,275.1 867.4,286.5 867.5,263.8 867.7,275.1 867.9,286.5 868.0,275.1 868.2,286.5 868.4,268.5 868.5,268.5 868.7,275.1 868.8,257.1 869.0,257.1 869.2,286.5 869.3,286.5 869.5,260.1 869.6,263.8 869.8,275.1 870.0,286.5 870.1,268.5 870.3,286.5 870.5,304.5 870.6,254.6 870.8,286.5 870.9,260.1 871.1,275.1 871.3,263.8 871.4,275.1 871.6,268.5 871.7,275.1 871.9,286.5 872.1,286.5 872.2,275.1 872.4,275.1 872.6,257.1 872.7,286.5 872.9,275.1 873.0,263.8 873.2,286.5 873.4,268.5 873.5,268.5 873.7,275.1 873.9,286.5 874.0,275.1 874.2,275.1 874.3,260.1 874.5,263.8 874.7,268.5 874.8,268.5 875.0,268.5 875.1,275.1 875.3,257.1 875.5,275.1 875.6,275.1 875.8,286.5 876.0,263.8 876.1,275.1 876.3,275.1 876.4,268.5 876.6,286.5 876.8,304.5 876.9,268.5 877.1,286.5 877.2,263.8 877.4,263.8 877.6,260.1 877.7,268.5 877.9,263.8 878.1,268.5 878.2,268.5 878.4,286.5 878.5,286.5 878.7,275.1 878.9,286.5 879.0,268.5 879.2,268.5 879.3,275.1 879.5,286.5 879.7,275.1 879.8,268.5 880.0,260.1 880.2,304.5 880.3,268.5 880.5,263.8 880.6,275.1 880.8,263.8 881.0,268.5 881.1,275.1 881.3,286.5 881.4,286.5 881.6,263.8 881.8,275.1 881.9,275.1 882.1,257.1 882.3,286.5 882.4,304.5 882.6,268.5 882.7,263.8 882.9,286.5 883.1,268.5 883.2,275.1 883.4,304.5 883.5,268.5 883.7,260.1 883.9,257.1 884.0,304.5 884.2,257.1 884.4,254.6 884.5,286.5 884.7,275.1 884.8,275.1 885.0,304.5 885.2,286.5 885.3,286.5 885.5,275.1 885.6,286.5 885.8,304.5 886.0,304.5 886.1,275.1 886.3,275.1 886.5,286.5 886.6,263.8 886.8,263.8 886.9,263.8 887.1,263.8 887.3,286.5 887.4,286.5 887.6,275.1 887.7,263.8 887.9,268.5 888.1,260.1 888.2,260.1 888.4,263.8 888.6,275.1 888.7,268.5 888.9,275.1 889.0,268.5 889.2,286.5 889.4,263.8 889.5,260.1 889.7,268.5 889.8,275.1 890.0,275.1 890.2,263.8 890.3,286.5 890.5,260.1 890.7,268.5 890.8,260.1 891.0,268.5 891.1,263.8 891.3,286.5 891.5,268.5 891.6,263.8 891.8,275.1 892.0,268.5 892.1,286.5 892.3,275.1 892.4,275.1 892.6,268.5 892.8,286.5 892.9,286.5 893.1,268.5 893.2,268.5 893.4,263.8 893.6,275.1 893.7,286.5 893.9,268.5 894.1,275.1 894.2,260.1 894.4,275.1 894.5,304.5 894.7,268.5 894.9,275.1 895.0,286.5 895.2,254.6 895.3,263.8 895.5,275.1 895.7,275.1 895.8,263.8 896.0,304.5 896.2,304.5 896.3,275.1 896.5,260.1 896.6,257.1 896.8,268.5 897.0,286.5 897.1,263.8 897.3,286.5 897.4,268.5 897.6,268.5 897.8,275.1 897.9,304.5 898.1,268.5 898.3,275.1 898.4,275.1 898.6,286.5 898.7,275.1 898.9,263.8 899.1,268.5 899.2,263.8 899.4,268.5 899.5,304.5 899.7,275.1 899.9,260.1 900.0,286.5 900.2,275.1 900.4,268.5 900.5,275.1 900.7,268.5 900.8,275.1 901.0,275.1 901.2,268.5 901.3,286.5 901.5,286.5 901.6,263.8 901.8,254.6 902.0,268.5 902.1,286.5 902.3,263.8 902.5,286.5 902.6,286.5 902.8,263.8 902.9,275.1 903.1,260.1 903.3,286.5 903.4,268.5 903.6,268.5 903.7,263.8 903.9,286.5 904.1,263.8 904.2,275.1 904.4,268.5 904.6,263.8 904.7,275.1 904.9,286.5 905.0,268.5 905.2,268.5 905.4,268.5 905.5,263.8 905.7,257.1 905.8,286.5 906.0,268.5 906.2,286.5 906.3,268.5 906.5,275.1 906.7,286.5 906.8,268.5 907.0,263.8 907.1,275.1 907.3,275.1 907.5,263.8 907.6,268.5 907.8,268.5 907.9,286.5 908.1,263.8 908.3,286.5 908.4,275.1 908.6,286.5 908.8,263.8 908.9,268.5 909.1,275.1 909.2,268.5 909.4,286.5 909.6,263.8 909.7,268.5 909.9,268.5 910.1,263.8 910.2,286.5 910.4,275.1 910.5,286.5 910.7,286.5 910.9,263.8 911.0,268.5 911.2,268.5 911.3,304.5 911.5,286.5 911.7,260.1 911.8,260.1 912.0,263.8 912.2,263.8 912.3,304.5 912.5,286.5 912.6,257.1 912.8,268.5 913.0,275.1 913.1,275.1 913.3,263.8 913.4,260.1 913.6,304.5 913.8,268.5 913.9,286.5 914.1,286.5 914.3,263.8 914.4,275.1 914.6,260.1 914.7,268.5 914.9,286.5 915.1,257.1 915.2,286.5 915.4,275.1 915.5,263.8 915.7,268.5 915.9,286.5 916.0,304.5 916.2,275.1 916.4,304.5 916.5,268.5 916.7,304.5 916.8,275.1 917.0,275.1 917.2,257.1 917.3,275.1 917.5,275.1 917.6,268.5 917.8,260.1 918.0,268.5 918.1,252.4 918.3,268.5 918.5,263.8 918.6,263.8 918.8,263.8 918.9,275.1 919.1,263.8 919.3,268.5 919.4,304.5 919.6,268.5 919.7,286.5 919.9,263.8 920.1,275.1 920.2,275.1 920.4,286.5 920.6,260.1 920.7,263.8 920.9,275.1 921.0,286.5 921.2,275.1 921.4,275.1 921.5,254.6 921.7,268.5 921.8,257.1 922.0,263.8 922.2,275.1 922.3,286.5 922.5,268.5 922.7,275.1 922.8,286.5 923.0,286.5 923.1,248.7 923.3,254.6 923.5,260.1 923.6,275.1 923.8,304.5 923.9,275.1 924.1,268.5 924.3,275.1 924.4,286.5 924.6,260.1 924.8,286.5 924.9,275.1 925.1,275.1 925.2,275.1 925.4,275.1 925.6,286.5 925.7,286.5 925.9,263.8 926.0,268.5 926.2,252.4 926.4,286.5 926.5,286.5 926.7,286.5 926.9,263.8 927.0,286.5 927.2,260.1 927.3,275.1 927.5,286.5 927.7,286.5 927.8,268.5 928.0,275.1 928.2,254.6 928.3,275.1 928.5,268.5 928.6,268.5 928.8,268.5 929.0,268.5 929.1,286.5 929.3,263.8 929.4,260.1 929.6,286.5 929.8,275.1 929.9,275.1 930.1,257.1 930.3,286.5 930.4,268.5 930.6,268.5 930.7,268.5 930.9,275.1 931.1,263.8 931.2,263.8 931.4,260.1 931.5,304.5 931.7,263.8 931.9,268.5 932.0,268.5 932.2,268.5 932.4,286.5 932.5,268.5 932.7,268.5 932.8,260.1 933.0,268.5 933.2,286.5 933.3,275.1 933.5,260.1 933.6,275.1 933.8,275.1 934.0,286.5 934.1,286.5 934.3,260.1 934.5,268.5 934.6,286.5 934.8,263.8 934.9,260.1 935.1,286.5 935.3,304.5 935.4,263.8 935.6,275.1 935.7,304.5 935.9,275.1 936.1,268.5 936.2,263.8 936.4,286.5 936.6,268.5 936.7,304.5 936.9,257.1 937.0,275.1 937.2,275.1 937.4,286.5 937.5,304.5 937.7,275.1 937.8,286.5 938.0,275.1 938.2,263.8 938.3,275.1 938.5,286.5 938.7,268.5 938.8,275.1 939.0,260.1 939.1,286.5 939.3,260.1 939.5,275.1 939.6,304.5 939.8,304.5 939.9,268.5 940.1,268.5 940.3,268.5 940.4,268.5 940.6,286.5 940.8,275.1 940.9,268.5 941.1,268.5 941.2,286.5 941.4,275.1 941.6,275.1 941.7,257.1 941.9,286.5 942.0,286.5 942.2,248.7 942.4,275.1 942.5,260.1 942.7,286.5 942.9,268.5 943.0,286.5 943.2,286.5 943.3,286.5 943.5,286.5 943.7,286.5 943.8,268.5 944.0,275.1 944.1,286.5 944.3,275.1 944.5,275.1 944.6,263.8 944.8,263.8 945.0,260.1 945.1,275.1 945.3,275.1 945.4,268.5 945.6,286.5 945.8,260.1 945.9,286.5 946.1,275.1 946.3,260.1 946.4,286.5 946.6,260.1 946.7,304.5 946.9,260.1 947.1,263.8 947.2,268.5 947.4,275.1 947.5,268.5 947.7,268.5 947.9,275.1 948.0,268.5 948.2,268.5 948.4,286.5 948.5,286.5 948.7,263.8 948.8,260.1 949.0,286.5 949.2,286.5 949.3,275.1 949.5,260.1 949.6,275.1 949.8,275.1 950.0,263.8 950.1,257.1 950.3,275.1 950.5,304.5 950.6,263.8 950.8,275.1 950.9,260.1 951.1,268.5 951.3,275.1 951.4,286.5 951.6,286.5 951.7,260.1 951.9,275.1 952.1,286.5 952.2,275.1 952.4,260.1 952.6,275.1 952.7,263.8 952.9,304.5 953.0,275.1 953.2,268.5 953.4,268.5 953.5,286.5 953.7,275.1 953.8,275.1 954.0,268.5 954.2,275.1 954.3,275.1 954.5,263.8 954.7,263.8 954.8,286.5 955.0,275.1 955.1,268.5 955.3,268.5 955.5,286.5 955.6,268.5 955.8,286.5 955.9,268.5 956.1,275.1 956.3,263.8 956.4,268.5 956.6,286.5 956.8,263.8 956.9,275.1 957.1,286.5 957.2,275.1 957.4,304.5 957.6,260.1 957.7,286.5 957.9,286.5 958.0,286.5 958.2,268.5 958.4,286.5 958.5,268.5 958.7,286.5 958.9,252.4 959.0,286.5 959.2,286.5 959.3,268.5 959.5,268.5 959.7,286.5 959.8,275.1 960.0,275.1 960.1,275.1 960.3,268.5 960.5,268.5 960.6,260.1 960.8,286.5 961.0,275.1 961.1,275.1 961.3,257.1 961.4,286.5 961.6,286.5 961.8,275.1 961.9,268.5 962.1,286.5 962.2,304.5 962.4,268.5 962.6,275.1 962.7,304.5 962.9,260.1 963.1,263.8 963.2,268.5 963.4,286.5 963.5,275.1 963.7,263.8 963.9,260.1 964.0,275.1 964.2,304.5 964.4,275.1 964.5,268.5 964.7,275.1 964.8,286.5 965.0,275.1 965.2,286.5 965.3,304.5 965.5,263.8 965.6,268.5 965.8,275.1 966.0,268.5 966.1,275.1 966.3,304.5 966.5,286.5 966.6,286.5 966.8,268.5 966.9,304.5 967.1,257.1 967.3,268.5 967.4,275.1 967.6,260.1 967.7,286.5 967.9,268.5 968.1,275.1 968.2,268.5 968.4,275.1 968.6,260.1 968.7,268.5 968.9,275.1 969.0,286.5 969.2,268.5 969.4,275.1 969.5,286.5 969.7,263.8 969.8,260.1 970.0,268.5 970.2,252.4 970.3,286.5 970.5,304.5 970.7,275.1 970.8,304.5 971.0,275.1 971.1,275.1 971.3,286.5 971.5,275.1 971.6,304.5 971.8,268.5 971.9,286.5 972.1,268.5 972.3,268.5 972.4,275.1 972.6,286.5 972.8,260.1 972.9,275.1 973.1,304.5 973.2,275.1 973.4,304.5 973.6,304.5 973.7,304.5 973.9,263.8 974.0,268.5 974.2,275.1 974.4,268.5 974.5,286.5 974.7,275.1 974.9,268.5 975.0,275.1 975.2,286.5 975.3,304.5 975.5,268.5 975.7,257.1 975.8,260.1 976.0,260.1 976.1,263.8 976.3,304.5 976.5,263.8 976.6,268.5 976.8,286.5 977.0,275.1 977.1,286.5 977.3,304.5 977.4,268.5 977.6,275.1 977.8,263.8 977.9,275.1 978.1,268.5 978.2,263.8 978.4,275.1 978.6,286.5 978.7,304.5 978.9,268.5 979.1,275.1 979.2,263.8 979.4,268.5 979.5,275.1 979.7,304.5 979.9,275.1 980.0,257.1 980.2,286.5 980.3,260.1 980.5,286.5 980.7,286.5 980.8,286.5 981.0,268.5 981.2,268.5 981.3,286.5 981.5,268.5 981.6,268.5 981.8,268.5 982.0,286.5 982.1,286.5 982.3,275.1 982.5,275.1 982.6,260.1 982.8,263.8 982.9,275.1 983.1,268.5 983.3,286.5 983.4,275.1 983.6,275.1 983.7,257.1 983.9,286.5 984.1,286.5 984.2,268.5 984.4,286.5 984.6,268.5 984.7,286.5 984.9,260.1 985.0,286.5 985.2,286.5 985.4,263.8 985.5,268.5 985.7,260.1 985.8,286.5 986.0,260.1 986.2,286.5 986.3,268.5 986.5,260.1 986.7,275.1 986.8,275.1 987.0,275.1 987.1,260.1 987.3,268.5 987.5,268.5 987.6,286.5 987.8,275.1 987.9,275.1 988.1,304.5 988.3,260.1 988.4,275.1 988.6,268.5 988.8,268.5 988.9,268.5 989.1,286.5 989.2,275.1 989.4,275.1 989.6,268.5 989.7,260.1 989.9,275.1 990.0,263.8 990.2,286.5 990.4,286.5 990.5,275.1 990.7,275.1 990.9,286.5 991.0,260.1 991.2,286.5 991.3,257.1 991.5,286.5 991.7,260.1 991.8,254.6 992.0,304.5 992.1,257.1 992.3,286.5 992.5,275.1 992.6,304.5 992.8,268.5 993.0,263.8 993.1,286.5 993.3,268.5 993.4,275.1 993.6,257.1 993.8,286.5 993.9,263.8 994.1,275.1 994.2,286.5 994.4,268.5 994.6,304.5 994.7,286.5 994.9,275.1 995.1,268.5 995.2,286.5 995.4,275.1 995.5,286.5 995.7,268.5 995.9,275.1 996.0,286.5 996.2,304.5 996.3,263.8 996.5,286.5 996.7,304.5 996.8,263.8 997.0,268.5 997.2,268.5 997.3,275.1 997.5,257.1 997.6,263.8 997.8,286.5 998.0,275.1 998.1,257.1 998.3,268.5 998.4,286.5 998.6,275.1 998.8,260.1 998.9,268.5 999.1,268.5 999.3,263.8 999.4,275.1 999.6,275.1 999.7,263.8 999.9,286.5 1000.1,268.5 1000.2,286.5 1000.4,268.5 1000.6,263.8 1000.7,286.5 1000.9,304.5 1001.0,275.1 1001.2,268.5 1001.4,275.1 1001.5,268.5 1001.7,260.1 1001.8,263.8 1002.0,268.5 1002.2,268.5 1002.3,268.5 1002.5,263.8 1002.7,275.1 1002.8,268.5 1003.0,268.5 1003.1,254.6 1003.3,275.1 1003.5,263.8 1003.6,268.5 1003.8,254.6 1003.9,286.5 1004.1,275.1 1004.3,304.5 1004.4,263.8 1004.6,268.5 1004.8,263.8 1004.9,275.1 1005.1,275.1 1005.2,286.5 1005.4,275.1 1005.6,268.5 1005.7,260.1 1005.9,263.8 1006.0,263.8 1006.2,268.5 1006.4,260.1 1006.5,268.5 1006.7,260.1 1006.9,286.5 1007.0,268.5 1007.2,268.5 1007.3,275.1 1007.5,304.5 1007.7,304.5 1007.8,286.5 1008.0,263.8 1008.1,260.1 1008.3,268.5 1008.5,268.5 1008.6,268.5 1008.8,275.1 1009.0,286.5 1009.1,268.5 1009.3,260.1 1009.4,257.1 1009.6,304.5 1009.8,286.5 1009.9,275.1 1010.1,286.5 1010.2,286.5 1010.4,275.1 1010.6,275.1 1010.7,275.1 1010.9,263.8 1011.1,263.8 1011.2,286.5 1011.4,304.5 1011.5,250.5 1011.7,286.5 1011.9,286.5 1012.0,268.5 1012.2,268.5 1012.3,286.5 1012.5,286.5 1012.7,268.5 1012.8,286.5 1013.0,268.5 1013.2,275.1 1013.3,260.1 1013.5,275.1 1013.6,260.1 1013.8,268.5 1014.0,275.1 1014.1,286.5 1014.3,268.5 1014.4,275.1 1014.6,304.5 1014.8,268.5 1014.9,286.5 1015.1,286.5 1015.3,268.5 1015.4,275.1 1015.6,286.5 1015.7,275.1 1015.9,263.8 1016.1,275.1 1016.2,260.1 1016.4,268.5 1016.5,268.5 1016.7,286.5 1016.9,275.1 1017.0,286.5 1017.2,254.6 1017.4,275.1 1017.5,263.8 1017.7,275.1 1017.8,275.1 1018.0,275.1 1018.2,263.8 1018.3,263.8 1018.5,268.5 1018.7,304.5 1018.8,268.5 1019.0,286.5 1019.1,268.5 1019.3,304.5 1019.5,286.5 1019.6,286.5 1019.8,260.1 1019.9,263.8 1020.1,286.5 1020.3,263.8 1020.4,275.1 1020.6,286.5 1020.8,263.8 1020.9,304.5 1021.1,304.5 1021.2,275.1 1021.4,260.1 1021.6,286.5 1021.7,304.5 1021.9,257.1 1022.0,275.1 1022.2,268.5 1022.4,275.1 1022.5,268.5 1022.7,275.1 1022.9,263.8 1023.0,275.1 1023.2,286.5 1023.3,260.1 1023.5,263.8 1023.7,263.8 1023.8,286.5 1024.0,275.1 1024.1,263.8 1024.3,260.1 1024.5,286.5 1024.6,268.5 1024.8,286.5 1025.0,257.1 1025.1,275.1 1025.3,263.8 1025.4,268.5 1025.6,286.5 1025.8,257.1 1025.9,286.5 1026.1,286.5 1026.2,286.5 1026.4,275.1 1026.6,268.5 1026.7,286.5 1026.9,260.1 1027.1,260.1 1027.2,263.8 1027.4,260.1 1027.5,268.5 1027.7,286.5 1027.9,263.8 1028.0,275.1 1028.2,275.1 1028.3,275.1 1028.5,286.5 1028.7,275.1 1028.8,275.1 1029.0,304.5 1029.2,286.5 1029.3,268.5 1029.5,268.5 1029.6,254.6 1029.8,286.5 1030.0,268.5 1030.1,263.8 1030.3,268.5 1030.4,304.5 1030.6,286.5 1030.8,286.5 1030.9,286.5 1031.1,268.5 1031.3,275.1 1031.4,257.1 1031.6,275.1 1031.7,304.5 1031.9,286.5 1032.1,275.1 1032.2,263.8 1032.4,260.1 1032.5,263.8 1032.7,286.5 1032.9,263.8 1033.0,286.5 1033.2,268.5 1033.4,286.5 1033.5,268.5 1033.7,275.1 1033.8,263.8 1034.0,286.5 1034.2,286.5 1034.3,268.5 1034.5,263.8 1034.6,275.1 1034.8,286.5 1035.0,263.8 1035.1,260.1 1035.3,268.5 1035.5,268.5 1035.6,263.8 1035.8,260.1 1035.9,304.5 1036.1,304.5 1036.3,275.1 1036.4,263.8 1036.6,260.1 1036.8,268.5 1036.9,263.8 1037.1,304.5 1037.2,268.5 1037.4,275.1 1037.6,275.1 1037.7,286.5 1037.9,263.8 1038.0,268.5 1038.2,275.1 1038.4,275.1 1038.5,286.5 1038.7,286.5 1038.9,286.5 1039.0,286.5 1039.2,268.5 1039.3,268.5 1039.5,263.8 1039.7,275.1 1039.8,286.5 1040.0,275.1 1040.1,268.5 1040.3,275.1 1040.5,286.5 1040.6,263.8 1040.8,268.5 1041.0,260.1 1041.1,263.8 1041.3,286.5 1041.4,268.5 1041.6,275.1 1041.8,257.1 1041.9,275.1 1042.1,275.1 1042.2,286.5 1042.4,268.5 1042.6,275.1 1042.7,275.1 1042.9,304.5 1043.1,275.1 1043.2,286.5 1043.4,275.1 1043.5,263.8 1043.7,286.5 1043.9,286.5 1044.0,263.8 1044.2,304.5 1044.3,275.1 1044.5,263.8 1044.7,275.1 1044.8,260.1 1045.0,275.1 1045.2,263.8 1045.3,268.5 1045.5,260.1 1045.6,286.5 1045.8,286.5 1046.0,304.5 1046.1,254.6 1046.3,286.5 1046.4,304.5 1046.6,263.8 1046.8,268.5 1046.9,268.5 1047.1,275.1 1047.3,286.5 1047.4,268.5 1047.6,268.5 1047.7,286.5 1047.9,260.1 1048.1,286.5 1048.2,275.1 1048.4,268.5 1048.5,263.8 1048.7,268.5 1048.9,275.1 1049.0,268.5 1049.2,268.5 1049.4,275.1 1049.5,275.1 1049.7,268.5 1049.8,263.8 1050.0,304.5 1050.2,275.1 1050.3,275.1 1050.5,275.1 1050.6,268.5 1050.8,260.1 1051.0,268.5 1051.1,286.5 1051.3,263.8 1051.5,268.5 1051.6,275.1 1051.8,286.5 1051.9,263.8 1052.1,260.1 1052.3,263.8 1052.4,260.1 1052.6,260.1 1052.7,286.5 1052.9,286.5 1053.1,263.8 1053.2,275.1 1053.4,286.5 1053.6,268.5 1053.7,268.5 1053.9,304.5 1054.0,268.5 1054.2,268.5 1054.4,268.5 1054.5,268.5 1054.7,260.1 1054.9,286.5 1055.0,268.5 1055.2,268.5 1055.3,275.1 1055.5,286.5 1055.7,286.5 1055.8,286.5 1056.0,275.1 1056.1,268.5 1056.3,286.5 1056.5,268.5 1056.6,275.1 1056.8,286.5 1057.0,275.1 1057.1,286.5 1057.3,286.5 1057.4,260.1 1057.6,263.8 1057.8,257.1 1057.9,263.8 1058.1,275.1 1058.2,275.1 1058.4,275.1 1058.6,268.5 1058.7,286.5 1058.9,263.8 1059.1,268.5 1059.2,257.1 1059.4,275.1 1059.5,275.1 1059.7,275.1 1059.9,286.5 1060.0,275.1 1060.2,268.5 1060.3,268.5 1060.5,268.5 1060.7,260.1 1060.8,286.5 1061.0,286.5 1061.2,263.8 1061.3,275.1 1061.5,260.1 1061.6,263.8 1061.8,275.1 1062.0,268.5 1062.1,286.5 1062.3,286.5 1062.4,268.5 1062.6,286.5 1062.8,268.5 1062.9,254.6 1063.1,275.1 1063.3,263.8 1063.4,263.8 1063.6,275.1 1063.7,275.1 1063.9,286.5 1064.1,263.8 1064.2,286.5 1064.4,275.1 1064.5,275.1 1064.7,268.5 1064.9,257.1 1065.0,263.8 1065.2,275.1 1065.4,275.1 1065.5,263.8 1065.7,286.5 1065.8,268.5 1066.0,260.1 1066.2,268.5 1066.3,275.1 1066.5,275.1 1066.6,268.5 1066.8,268.5 1067.0,275.1 1067.1,260.1 1067.3,260.1 1067.5,275.1 1067.6,268.5 1067.8,286.5 1067.9,286.5 1068.1,263.8 1068.3,257.1 1068.4,268.5 1068.6,268.5 1068.7,263.8 1068.9,268.5 1069.1,275.1 1069.2,263.8 1069.4,304.5 1069.6,263.8 1069.7,286.5 1069.9,304.5 1070.0,286.5 1070.2,263.8 1070.4,286.5 1070.5,286.5 1070.7,286.5 1070.8,286.5 1071.0,275.1 1071.2,275.1 1071.3,275.1 1071.5,263.8 1071.7,263.8 1071.8,268.5 1072.0,275.1 1072.1,268.5 1072.3,286.5 1072.5,260.1 1072.6,268.5 1072.8,254.6 1073.0,275.1 1073.1,263.8 1073.3,268.5 1073.4,268.5 1073.6,286.5 1073.8,263.8 1073.9,275.1 1074.1,254.6 1074.2,268.5 1074.4,263.8 1074.6,268.5 1074.7,286.5 1074.9,275.1 1075.1,268.5 1075.2,268.5 1075.4,275.1 1075.5,304.5 1075.7,260.1 1075.9,268.5 1076.0,275.1 1076.2,304.5 1076.3,268.5 1076.5,286.5 1076.7,257.1 1076.8,286.5 1077.0,304.5 1077.2,268.5 1077.3,275.1 1077.5,254.6 1077.6,275.1 1077.8,275.1 1078.0,268.5 1078.1,268.5 1078.3,286.5 1078.4,286.5 1078.6,260.1 1078.8,268.5 1078.9,275.1 1079.1,260.1 1079.3,286.5 1079.4,260.1 1079.6,286.5 1079.7,263.8 1079.9,275.1 1080.1,304.5 1080.2,286.5 1080.4,263.8 1080.5,268.5 1080.7,268.5 1080.9,275.1 1081.0,275.1 1081.2,263.8 1081.4,275.1 1081.5,286.5 1081.7,260.1 1081.8,268.5 1082.0,275.1 1082.2,263.8 1082.3,263.8 1082.5,260.1 1082.6,286.5 1082.8,268.5 1083.0,275.1 1083.1,275.1 1083.3,286.5 1083.5,268.5 1083.6,263.8 1083.8,268.5 1083.9,275.1 1084.1,286.5 1084.3,263.8 1084.4,275.1 1084.6,304.5 1084.7,304.5 1084.9,263.8 1085.1,263.8 1085.2,257.1 1085.4,286.5 1085.6,268.5 1085.7,268.5 1085.9,275.1 1086.0,260.1 1086.2,304.5 1086.4,304.5 1086.5,268.5 1086.7,260.1 1086.8,268.5 1087.0,268.5 1087.2,286.5 1087.3,260.1 1087.5,263.8 1087.7,263.8 1087.8,263.8 1088.0,275.1 1088.1,268.5 1088.3,286.5 1088.5,268.5 1088.6,286.5 1088.8,304.5 1088.9,263.8 1089.1,275.1 1089.3,275.1 1089.4,268.5 1089.6,263.8 1089.8,268.5 1089.9,286.5 1090.1,275.1 1090.2,304.5 1090.4,286.5 1090.6,275.1 1090.7,263.8 1090.9,268.5 1091.1,268.5 1091.2,260.1 1091.4,275.1 1091.5,254.6 1091.7,268.5 1091.9,304.5 1092.0,286.5 1092.2,275.1 1092.3,275.1 1092.5,268.5 1092.7,286.5 1092.8,275.1 1093.0,275.1 1093.2,275.1 1093.3,286.5 1093.5,275.1 1093.6,304.5 1093.8,275.1 1094.0,263.8 1094.1,275.1 1094.3,304.5 1094.4,286.5 1094.6,268.5 1094.8,257.1 1094.9,275.1 1095.1,268.5 1095.3,268.5 1095.4,275.1 1095.6,263.8 1095.7,275.1 1095.9,260.1 1096.1,263.8 1096.2,263.8 1096.4,268.5 1096.5,263.8 1096.7,257.1 1096.9,263.8 1097.0,275.1 1097.2,275.1 1097.4,263.8 1097.5,275.1 1097.7,268.5 1097.8,268.5 1098.0,268.5 1098.2,263.8 1098.3,260.1 1098.5,263.8 1098.6,263.8 1098.8,263.8 1099.0,304.5 1099.1,268.5 1099.3,286.5 1099.5,268.5 1099.6,275.1 1099.8,268.5 1099.9,254.6 1100.1,268.5 1100.3,275.1 1100.4,275.1 1100.6,263.8 1100.7,275.1 1100.9,286.5 1101.1,275.1 1101.2,268.5 1101.4,275.1 1101.6,263.8 1101.7,275.1 1101.9,275.1 1102.0,263.8 1102.2,275.1 1102.4,304.5 1102.5,268.5 1102.7,268.5 1102.8,275.1 1103.0,268.5 1103.2,268.5 1103.3,263.8 1103.5,286.5 1103.7,263.8 1103.8,260.1 1104.0,275.1 1104.1,268.5 1104.3,275.1 1104.5,275.1 1104.6,304.5 1104.8,275.1 1104.9,268.5 1105.1,263.8 1105.3,252.4 1105.4,275.1 1105.6,275.1 1105.8,268.5 1105.9,260.1 1106.1,263.8 1106.2,304.5 1106.4,268.5 1106.6,268.5 1106.7,275.1 1106.9,275.1 1107.0,286.5 1107.2,268.5 1107.4,268.5 1107.5,275.1 1107.7,275.1 1107.9,263.8 1108.0,304.5 1108.2,268.5 1108.3,268.5 1108.5,286.5 1108.7,286.5 1108.8,275.1 1109.0,275.1 1109.2,263.8 1109.3,275.1 1109.5,268.5 1109.6,268.5 1109.8,268.5 1110.0,304.5 1110.1,275.1 1110.3,275.1 1110.4,275.1 1110.6,275.1 1110.8,263.8 1110.9,268.5 1111.1,275.1 1111.3,275.1 1111.4,257.1 1111.6,268.5 1111.7,275.1 1111.9,263.8 1112.1,263.8 1112.2,304.5 1112.4,268.5 1112.5,268.5 1112.7,268.5 1112.9,286.5 1113.0,268.5 1113.2,275.1 1113.4,268.5 1113.5,286.5 1113.7,275.1 1113.8,275.1 1114.0,263.8 1114.2,275.1 1114.3,304.5 1114.5,268.5 1114.6,286.5 1114.8,286.5 1115.0,275.1 1115.1,260.1 1115.3,275.1 1115.5,268.5 1115.6,275.1 1115.8,268.5 1115.9,275.1 1116.1,263.8 1116.3,275.1 1116.4,263.8 1116.6,275.1 1116.7,275.1 1116.9,257.1 1117.1,263.8 1117.2,304.5 1117.4,275.1 1117.6,275.1 1117.7,260.1 1117.9,268.5 1118.0,263.8 1118.2,275.1 1118.4,268.5 1118.5,275.1 1118.7,263.8 1118.8,275.1 1119.0,263.8 1119.2,268.5 1119.3,275.1 1119.5,275.1 1119.7,268.5 1119.8,268.5 1120.0,304.5 1120.1,260.1 1120.3,268.5 1120.5,263.8 1120.6,268.5 1120.8,263.8 1120.9,260.1 1121.1,304.5 1121.3,268.5 1121.4,263.8 1121.6,257.1 1121.8,268.5 1121.9,260.1 1122.1,304.5 1122.2,268.5 1122.4,275.1 1122.6,304.5 1122.7,260.1 1122.9,286.5 1123.0,286.5 1123.2,286.5 1123.4,263.8 1123.5,275.1 1123.7,260.1 1123.9,268.5 1124.0,286.5 1124.2,260.1 1124.3,268.5 1124.5,260.1 1124.7,260.1 1124.8,260.1 1125.0,248.7 1125.1,260.1 1125.3,260.1 1125.5,260.1 1125.6,244.4 1125.8,247.2 1126.0,257.1 1126.1,243.2 1126.3,248.7 1126.4,247.2 1126.6,247.2 1126.8,241.0 1126.9,242.1 1127.1,242.1 1127.3,247.2 1127.4,244.4 1127.6,239.1 1127.7,237.4 1127.9,235.8 1128.1,244.4 1128.2,231.3 1128.4,229.6 1128.5,234.4 1128.7,231.8 1128.9,228.6 1129.0,225.6 1129.2,235.1 1129.4,221.1 1129.5,222.3 1129.7,224.4 1129.8,225.6 1130.0,219.9 1130.2,216.6 1130.3,220.2 1130.5,217.8 1130.6,217.3 1130.8,220.2 1131.0,218.8 1131.1,213.2 1131.3,216.6 1131.5,214.8 1131.6,215.0 1131.8,215.5 1131.9,217.0 1132.1,215.9 1132.3,215.2 1132.4,212.9 1132.6,212.1 1132.7,212.7 1132.9,212.7 1133.1,214.2 1133.2,211.1 1133.4,216.3 1133.6,217.8 1133.7,211.4 1133.9,213.8 1134.0,215.0 1134.2,217.3 1134.4,213.0 1134.5,219.6 1134.7,217.8 1134.8,215.0 1135.0,222.7 1135.2,215.5 1135.3,217.8 1135.5,217.3 1135.7,221.4 1135.8,220.5 1136.0,224.0 1136.1,222.3 1136.3,221.7 1136.5,224.4 1136.6,226.8 1136.8,226.4 1136.9,229.6 1137.1,228.2 1137.3,231.3 1137.4,231.3 1137.6,230.7 1137.8,241.0 1137.9,238.2 1138.1,230.2 1138.2,235.8 1138.4,237.4 1138.6,236.6 1138.7,241.0 1138.9,241.0 1139.0,242.1 1139.2,247.2 1139.4,243.2 1139.5,248.7 1139.7,254.6 1139.9,252.4 1140.0,248.7 1140.2,252.4 1140.3,248.7 1140.5,260.1 1140.7,248.7 1140.8,263.8 1141.0,268.5 1141.1,250.5 1141.3,260.1 1141.5,248.7 1141.6,268.5 1141.8,268.5 1142.0,286.5 1142.1,247.2 1142.3,260.1 1142.4,263.8 1142.6,257.1 1142.8,254.6 1142.9,252.4 1143.1,248.7 1143.2,250.5 1143.4,260.1 1143.6,250.5 1143.7,248.7 1143.9,248.7 1144.1,245.7 1144.2,257.1 1144.4,254.6 1144.5,263.8 1144.7,260.1 1144.9,254.6 1145.0,257.1 1145.2,257.1 1145.4,254.6 1145.5,254.6 1145.7,250.5 1145.8,252.4 1146.0,254.6 1146.2,247.2 1146.3,254.6 1146.5,252.4 1146.6,241.0 1146.8,247.2 1147.0,247.2 1147.1,247.2 1147.3,248.7 1147.5,243.2 1147.6,237.4 1147.8,241.0 1147.9,239.1 1148.1,242.1 1148.3,240.0 1148.4,231.8 1148.6,234.4 1148.7,230.7 1148.9,227.3 1149.1,227.7 1149.2,218.3 1149.4,206.9 1149.6,191.5 1149.7,175.2 1149.9,161.9 1150.0,148.0 1150.2,135.6 1150.4,124.6 1150.5,114.6 1150.7,106.0 1150.8,99.0 1151.0,93.1 1151.2,88.5 1151.3,85.2 1151.5,83.2 1151.7,82.6 1151.8,83.2 1152.0,85.2 1152.1,88.4 1152.3,93.1 1152.5,99.0 1152.6,106.2 1152.8,114.8 1152.9,124.4 1153.1,135.5 1153.3,147.8 1153.4,161.5 1153.6,176.1 1153.8,191.1 1153.9,205.4 1154.1,215.2 1154.2,227.7 1154.4,234.4 1154.6,236.6 1154.7,240.0 1154.9,236.6 1155.0,237.4 1155.2,235.8 1155.4,244.4 1155.5,239.1 1155.7,244.4 1155.9,236.6 1156.0,254.6 1156.2,244.4 1156.3,245.7 1156.5,237.4 1156.7,247.2 1156.8,244.4 1157.0,247.2 1157.1,250.5 1157.3,250.5 1157.5,252.4 1157.6,248.7 1157.8,263.8 1158.0,250.5 1158.1,248.7 1158.3,243.2 1158.4,257.1 1158.6,248.7 1158.8,245.7 1158.9,254.6 1159.1,257.1 1159.2,254.6 1159.4,257.1 1159.6,257.1 1159.7,254.6 1159.9,250.5 1160.1,250.5 1160.2,263.8 1160.4,254.6 1160.5,257.1 1160.7,260.1 1160.9,275.1 1161.0,263.8 1161.2,252.4 1161.3,252.4 1161.5,257.1 1161.7,248.7 1161.8,263.8 1162.0,268.5 1162.2,250.5 1162.3,275.1 1162.5,268.5 1162.6,268.5 1162.8,275.1 1163.0,263.8 1163.1,275.1 1163.3,248.7 1163.5,257.1 1163.6,260.1 1163.8,252.4 1163.9,286.5 1164.1,275.1 1164.3,268.5 1164.4,260.1 1164.6,275.1 1164.7,268.5 1164.9,263.8 1165.1,263.8 1165.2,263.8 1165.4,268.5 1165.6,254.6 1165.7,268.5 1165.9,263.8 1166.0,263.8 1166.2,268.5 1166.4,257.1 1166.5,275.1 1166.7,275.1 1166.8,275.1 1167.0,268.5 1167.2,304.5 1167.3,257.1 1167.5,268.5 1167.7,263.8 1167.8,286.5 1168.0,268.5 1168.1,286.5 1168.3,268.5 1168.5,260.1 1168.6,263.8 1168.8,268.5 1168.9,263.8 1169.1,260.1 1169.3,275.1 1169.4,304.5 1169.6,275.1 1169.8,286.5 1169.9,260.1 1170.1,263.8 1170.2,257.1 1170.4,268.5 1170.6,268.5 1170.7,260.1 1170.9,263.8 1171.0,268.5 1171.2,268.5 1171.4,268.5 1171.5,254.6 1171.7,263.8 1171.9,263.8 1172.0,254.6 1172.2,275.1 1172.3,260.1 1172.5,268.5 1172.7,275.1 1172.8,275.1 1173.0,275.1 1173.1,263.8 1173.3,268.5 1173.5,275.1 1173.6,260.1 1173.8,275.1 1174.0,275.1 1174.1,275.1 1174.3,275.1 1174.4,268.5 1174.6,275.1 1174.8,275.1 1174.9,268.5 1175.1,268.5 1175.2,275.1 1175.4,275.1 1175.6,286.5 1175.7,257.1 1175.9,275.1 1176.1,275.1 1176.2,260.1 1176.4,275.1 1176.5,286.5 1176.7,286.5 1176.9,275.1 1177.0,286.5 1177.2,275.1 1177.3,304.5 1177.5,304.5 1177.7,275.1 1177.8,263.8 1178.0,286.5 1178.2,263.8 1178.3,260.1 1178.5,263.8 1178.6,260.1 1178.8,286.5 1179.0,263.8 1179.1,286.5 1179.3,275.1 1179.4,268.5 1179.6,263.8 1179.8,268.5 1179.9,257.1 1180.1,260.1 1180.3,263.8 1180.4,268.5 1180.6,275.1 1180.7,268.5 1180.9,260.1 1181.1,268.5 1181.2,304.5 1181.4,275.1 1181.6,286.5 1181.7,275.1 1181.9,268.5 1182.0,260.1 1182.2,263.8 1182.4,263.8 1182.5,275.1 1182.7,275.1 1182.8,263.8 1183.0,275.1 1183.2,263.8 1183.3,260.1 1183.5,268.5 1183.7,286.5 1183.8,304.5 1184.0,268.5 1184.1,268.5 1184.3,275.1 1184.5,268.5 1184.6,286.5 1184.8,275.1 1184.9,263.8 1185.1,286.5 1185.3,275.1 1185.4,286.5 1185.6,254.6 1185.8,275.1 1185.9,257.1 1186.1,263.8 1186.2,263.8 1186.4,275.1 1186.6,275.1 1186.7,275.1 1186.9,268.5 1187.0,275.1 1187.2,286.5 1187.4,286.5 1187.5,286.5 1187.7,268.5 1187.9,286.5 1188.0,275.1 1188.2,286.5 1188.3,260.1 1188.5,268.5 1188.7,304.5 1188.8,268.5 1189.0,268.5 1189.1,275.1 1189.3,275.1 1189.5,304.5 1189.6,263.8 1189.8,263.8 1190.0,286.5 1190.1,268.5 1190.3,268.5 1190.4,304.5 1190.6,260.1 1190.8,275.1 1190.9,263.8 1191.1,260.1 1191.2,260.1 1191.4,304.5 1191.6,268.5 1191.7,268.5 1191.9,304.5 1192.1,257.1 1192.2,304.5 1192.4,254.6 1192.5,263.8 1192.7,268.5 1192.9,286.5 1193.0,260.1 1193.2,263.8 1193.3,275.1 1193.5,275.1 1193.7,275.1 1193.8,275.1 1194.0,286.5 1194.2,286.5 1194.3,286.5 1194.5,286.5 1194.6,304.5 1194.8,268.5 1195.0,275.1 1195.1,286.5 1195.3,275.1 1195.4,286.5 1195.6,275.1 1195.8,263.8 1195.9,286.5 1196.1,268.5 1196.3,275.1 1196.4,275.1 1196.6,260.1 1196.7,268.5 1196.9,268.5 1197.1,304.5 1197.2,286.5 1197.4,268.5 1197.5,260.1 1197.7,286.5 1197.9,263.8 1198.0,275.1 1198.2,268.5 1198.4,268.5 1198.5,275.1 1198.7,263.8 1198.8,268.5 1199.0,304.5 1199.2,268.5 1199.3,304.5 1199.5,257.1 1199.7,304.5 1199.8,286.5 1200.0,257.1 1200.1,260.1 1200.3,268.5 1200.5,263.8 1200.6,275.1 1200.8,260.1 1200.9,275.1 1201.1,263.8 1201.3,275.1 1201.4,286.5 1201.6,254.6 1201.8,275.1 1201.9,286.5 1202.1,275.1 1202.2,275.1 1202.4,275.1 1202.6,268.5 1202.7,263.8 1202.9,275.1 1203.0,286.5 1203.2,286.5 1203.4,260.1 1203.5,286.5 1203.7,268.5 1203.9,286.5 1204.0,260.1 1204.2,275.1 1204.3,275.1 1204.5,275.1 1204.7,304.5 1204.8,260.1 1205.0,268.5 1205.1,275.1 1205.3,304.5 1205.5,268.5 1205.6,304.5 1205.8,263.8 1206.0,286.5 1206.1,263.8 1206.3,257.1 1206.4,263.8 1206.6,286.5 1206.8,275.1 1206.9,268.5 1207.1,286.5 1207.2,263.8 1207.4,268.5 1207.6,275.1 1207.7,268.5 1207.9,304.5 1208.1,286.5 1208.2,260.1 1208.4,286.5 1208.5,263.8 1208.7,263.8 1208.9,286.5 1209.0,304.5 1209.2,275.1 1209.3,257.1 1209.5,275.1 1209.7,275.1 1209.8,268.5 1210.0,263.8 1210.2,286.5 1210.3,286.5 1210.5,304.5 1210.6,268.5 1210.8,286.5 1211.0,286.5 1211.1,268.5 1211.3,260.1 1211.4,260.1 1211.6,275.1 1211.8,304.5 1211.9,252.4 1212.1,263.8 1212.3,268.5 1212.4,275.1 1212.6,263.8 1212.7,260.1 1212.9,275.1 1213.1,275.1 1213.2,263.8 1213.4,286.5 1213.5,286.5 1213.7,286.5 1213.9,275.1 1214.0,268.5 1214.2,263.8 1214.4,275.1 1214.5,304.5 1214.7,275.1 1214.8,260.1 1215.0,268.5 1215.2,268.5 1215.3,275.1 1215.5,275.1 1215.6,275.1 1215.8,286.5 1216.0,263.8 1216.1,304.5 1216.3,268.5 1216.5,286.5 1216.6,263.8 1216.8,286.5 1216.9,257.1 1217.1,268.5 1217.3,286.5 1217.4,275.1 1217.6,286.5 1217.8,286.5 1217.9,304.5 1218.1,268.5 1218.2,286.5 1218.4,263.8 1218.6,260.1 1218.7,268.5 1218.9,254.6 1219.0,263.8 1219.2,263.8 1219.4,268.5 1219.5,263.8 1219.7,275.1 1219.9,260.1 1220.0,263.8 1220.2,286.5 1220.3,286.5 1220.5,275.1 1220.7,268.5 1220.8,275.1 1221.0,275.1 1221.1,260.1 1221.3,275.1 1221.5,275.1 1221.6,268.5 1221.8,275.1 1222.0,275.1 1222.1,275.1 1222.3,275.1 1222.4,275.1 1222.6,275.1 1222.8,275.1 1222.9,286.5 1223.1,275.1 1223.2,275.1 1223.4,275.1 1223.6,260.1 1223.7,275.1 1223.9,268.5 1224.1,268.5 1224.2,286.5 1224.4,275.1 1224.5,275.1 1224.7,254.6 1224.9,286.5 1225.0,275.1 1225.2,263.8 1225.3,263.8 1225.5,268.5 1225.7,263.8 1225.8,304.5 1226.0,304.5 1226.2,268.5 1226.3,257.1 1226.5,268.5 1226.6,268.5 1226.8,286.5 1227.0,275.1 1227.1,275.1 1227.3,263.8 1227.4,260.1 1227.6,286.5 1227.8,268.5 1227.9,268.5 1228.1,275.1 1228.3,263.8 1228.4,268.5 1228.6,275.1 1228.7,275.1 1228.9,268.5 1229.1,263.8 1229.2,286.5 1229.4,304.5 1229.5,268.5 1229.7,257.1 1229.9,268.5 1230.0,268.5 1230.2,275.1 1230.4,268.5 1230.5,268.5 1230.7,257.1 1230.8,275.1 1231.0,263.8 1231.2,286.5 1231.3,304.5 1231.5,286.5 1231.6,268.5 1231.8,268.5 1232.0,263.8 1232.1,275.1 1232.3,268.5 1232.5,286.5 1232.6,275.1 1232.8,268.5 1232.9,268.5 1233.1,304.5 1233.3,286.5 1233.4,286.5 1233.6,275.1 1233.7,275.1 1233.9,304.5 1234.1,286.5 1234.2,268.5 1234.4,268.5 1234.6,268.5 1234.7,275.1 1234.9,263.8 1235.0,275.1 1235.2,268.5 1235.4,275.1 1235.5,263.8 1235.7,286.5 1235.9,268.5 1236.0,275.1 1236.2,260.1 1236.3,268.5 1236.5,268.5 1236.7,275.1 1236.8,275.1 1237.0,275.1 1237.1,268.5 1237.3,263.8 1237.5,263.8 1237.6,275.1 1237.8,263.8 1238.0,304.5 1238.1,275.1 1238.3,275.1 1238.4,286.5 1238.6,260.1 1238.8,263.8 1238.9,268.5 1239.1,275.1 1239.2,268.5 1239.4,304.5 1239.6,260.1 1239.7,286.5 1239.9,304.5 1240.1,263.8 1240.2,263.8 1240.4,263.8 1240.5,263.8 1240.7,275.1 1240.9,275.1 1241.0,286.5 1241.2,268.5 1241.3,304.5 1241.5,263.8 1241.7,286.5 1241.8,254.6 1242.0,275.1 1242.2,268.5 1242.3,304.5 1242.5,286.5 1242.6,286.5 1242.8,286.5 1243.0,275.1 1243.1,275.1 1243.3,263.8 1243.4,263.8 1243.6,263.8 1243.8,275.1 1243.9,286.5 1244.1,286.5 1244.3,263.8 1244.4,268.5 1244.6,275.1 1244.7,263.8 1244.9,268.5 1245.1,275.1 1245.2,257.1 1245.4,275.1 1245.5,263.8 1245.7,286.5 1245.9,286.5 1246.0,268.5 1246.2,268.5 1246.4,268.5 1246.5,263.8 1246.7,286.5 1246.8,275.1 1247.0,275.1 1247.2,286.5 1247.3,275.1 1247.5,268.5 1247.6,275.1 1247.8,268.5 1248.0,275.1 1248.1,304.5 1248.3,275.1 1248.5,304.5 1248.6,304.5 1248.8,286.5 1248.9,304.5 1249.1,257.1 1249.3,275.1 1249.4,263.8 1249.6,268.5 1249.7,286.5 1249.9,304.5 1250.1,275.1 1250.2,260.1 1250.4,286.5 1250.6,268.5 1250.7,275.1 1250.9,286.5 1251.0,268.5 1251.2,304.5 1251.4,286.5 1251.5,268.5 1251.7,275.1 1251.8,275.1 1252.0,263.8 1252.2,275.1 1252.3,275.1 1252.5,304.5 1252.7,275.1 1252.8,268.5 1253.0,260.1 1253.1,275.1 1253.3,286.5 1253.5,268.5 1253.6,263.8 1253.8,286.5 1254.0,263.8 1254.1,268.5 1254.3,268.5 1254.4,257.1 1254.6,268.5 1254.8,286.5 1254.9,268.5 1255.1,254.6 1255.2,263.8 1255.4,286.5 1255.6,268.5 1255.7,263.8 1255.9,268.5 1256.1,268.5 1256.2,263.8 1256.4,263.8 1256.5,286.5 1256.7,275.1 1256.9,275.1 1257.0,286.5 1257.2,268.5 1257.3,263.8 1257.5,286.5 1257.7,263.8 1257.8,268.5 1258.0,260.1 1258.2,286.5 1258.3,263.8 1258.5,257.1 1258.6,275.1 1258.8,268.5 1259.0,286.5 1259.1,268.5 1259.3,275.1 1259.4,275.1 1259.6,275.1 1259.8,286.5 1259.9,268.5 1260.1,275.1 1260.3,286.5 1260.4,263.8 1260.6,268.5 1260.7,275.1 1260.9,275.1 1261.1,263.8 1261.2,260.1 1261.4,275.1 1261.5,275.1 1261.7,268.5 1261.9,286.5 1262.0,304.5 1262.2,286.5 1262.4,275.1 1262.5,275.1 1262.7,286.5 1262.8,268.5 1263.0,263.8 1263.2,260.1 1263.3,275.1 1263.5,286.5 1263.6,263.8 1263.8,286.5 1264.0,268.5 1264.1,286.5 1264.3,275.1 1264.5,268.5 1264.6,263.8 1264.8,257.1 1264.9,286.5 1265.1,275.1 1265.3,268.5 1265.4,268.5 1265.6,268.5 1265.7,275.1 1265.9,260.1 1266.1,268.5 1266.2,304.5 1266.4,263.8 1266.6,263.8 1266.7,263.8 1266.9,275.1 1267.0,275.1 1267.2,268.5 1267.4,275.1 1267.5,250.5 1267.7,275.1 1267.8,304.5 1268.0,275.1 1268.2,286.5 1268.3,268.5 1268.5,275.1 1268.7,263.8 1268.8,275.1 1269.0,286.5 1269.1,286.5 1269.3,252.4 1269.5,275.1 1269.6,304.5 1269.8,268.5 1269.9,286.5 1270.1,268.5 1270.3,286.5 1270.4,268.5 1270.6,286.5 1270.8,275.1 1270.9,268.5 1271.1,275.1 1271.2,260.1 1271.4,275.1 1271.6,286.5 1271.7,263.8 1271.9,268.5 1272.1,286.5 1272.2,286.5 1272.4,286.5 1272.5,260.1 1272.7,275.1 1272.9,263.8 1273.0,275.1 1273.2,257.1 1273.3,260.1 1273.5,275.1 1273.7,275.1 1273.8,268.5 1274.0,254.6 1274.2,275.1 1274.3,263.8 1274.5,275.1 1274.6,275.1 1274.8,275.1 1275.0,275.1 1275.1,263.8 1275.3,257.1 1275.4,268.5 1275.6,275.1 1275.8,286.5 1275.9,268.5 1276.1,304.5 1276.3,286.5 1276.4,286.5 1276.6,275.1 1276.7,263.8 1276.9,263.8 1277.1,268.5 1277.2,268.5 1277.4,275.1 1277.5,263.8 1277.7,263.8 1277.9,268.5 1278.0,263.8 1278.2,286.5 1278.4,275.1 1278.5,275.1 1278.7,275.1 1278.8,286.5 1279.0,257.1 1279.2,275.1 1279.3,268.5 1279.5,275.1 1279.6,257.1 1279.8,304.5 1280.0,263.8 1280.1,286.5 1280.3,286.5 1280.5,275.1 1280.6,275.1 1280.8,304.5 1280.9,275.1 1281.1,263.8 1281.3,286.5 1281.4,275.1 1281.6,268.5 1281.7,275.1 1281.9,268.5 1282.1,275.1 1282.2,275.1 1282.4,286.5 1282.6,263.8 1282.7,275.1 1282.9,268.5 1283.0,268.5 1283.2,275.1 1283.4,304.5 1283.5,268.5 1283.7,286.5 1283.8,275.1 1284.0,263.8 1284.2,275.1 1284.3,254.6 1284.5,263.8 1284.7,286.5 1284.8,286.5 1285.0,275.1 1285.1,275.1 1285.3,304.5 1285.5,275.1 1285.6,286.5 1285.8,268.5 1285.9,268.5 1286.1,304.5 1286.3,275.1 1286.4,286.5 1286.6,275.1 1286.8,286.5 1286.9,286.5 1287.1,275.1 1287.2,286.5 1287.4,286.5 1287.6,286.5 1287.7,263.8 1287.9,260.1 1288.0,275.1 1288.2,268.5 1288.4,268.5 1288.5,260.1 1288.7,263.8 1288.9,275.1 1289.0,257.1 1289.2,275.1 1289.3,286.5 1289.5,263.8 1289.7,275.1 1289.8,286.5 1290.0,275.1 1290.2,304.5 1290.3,275.1 1290.5,275.1 1290.6,275.1 1290.8,263.8 1291.0,275.1 1291.1,263.8 1291.3,268.5 1291.4,286.5 1291.6,263.8 1291.8,286.5 1291.9,286.5 1292.1,268.5 1292.3,286.5 1292.4,268.5 1292.6,254.6 1292.7,260.1 1292.9,263.8 1293.1,268.5 1293.2,268.5 1293.4,286.5 1293.5,268.5 1293.7,275.1 1293.9,254.6 1294.0,275.1 1294.2,286.5 1294.4,286.5 1294.5,286.5 1294.7,275.1 1294.8,286.5 1295.0,286.5 1295.2,275.1 1295.3,263.8 1295.5,263.8 1295.6,275.1 1295.8,263.8 1296.0,268.5 1296.1,268.5 1296.3,257.1 1296.5,260.1 1296.6,286.5 1296.8,275.1 1296.9,286.5 1297.1,275.1 1297.3,268.5 1297.4,286.5 1297.6,263.8 1297.7,304.5 1297.9,268.5 1298.1,268.5 1298.2,263.8 1298.4,275.1 1298.6,268.5 1298.7,275.1 1298.9,286.5 1299.0,268.5 1299.2,260.1 1299.4,260.1 1299.5,286.5 1299.7,304.5 1299.8,286.5 1300.0,286.5 1300.2,263.8 1300.3,286.5 1300.5,260.1 1300.7,275.1 1300.8,275.1 1301.0,268.5 1301.1,275.1 1301.3,304.5 1301.5,268.5 1301.6,263.8 1301.8,268.5 1301.9,275.1 1302.1,268.5 1302.3,260.1 1302.4,275.1 1302.6,254.6 1302.8,268.5 1302.9,263.8 1303.1,268.5 1303.2,263.8 1303.4,268.5 1303.6,275.1 1303.7,268.5 1303.9,268.5 1304.0,268.5 1304.2,250.5 1304.4,286.5 1304.5,286.5 1304.7,268.5 1304.9,263.8 1305.0,275.1 1305.2,268.5 1305.3,268.5 1305.5,286.5 1305.7,286.5 1305.8,268.5 1306.0,260.1 1306.1,275.1 1306.3,263.8 1306.5,275.1 1306.6,275.1 1306.8,275.1 1307.0,286.5 1307.1,275.1 1307.3,275.1 1307.4,263.8 1307.6,286.5 1307.8,268.5 1307.9,275.1 1308.1,304.5 1308.3,263.8 1308.4,263.8 1308.6,286.5 1308.7,275.1 1308.9,275.1 1309.1,257.1 1309.2,275.1 1309.4,275.1 1309.5,260.1 1309.7,286.5 1309.9,275.1 1310.0,260.1 1310.2,268.5 1310.4,304.5 1310.5,260.1 1310.7,263.8 1310.8,275.1 1311.0,268.5 1311.2,286.5 1311.3,286.5 1311.5,286.5 1311.6,275.1 1311.8,268.5 1312.0,275.1 1312.1,275.1 1312.3,263.8 1312.5,286.5 1312.6,304.5 1312.8,260.1 1312.9,260.1 1313.1,304.5 1313.3,260.1 1313.4,263.8 1313.6,286.5 1313.7,304.5 1313.9,257.1 1314.1,304.5 1314.2,268.5 1314.4,268.5 1314.6,275.1 1314.7,263.8 1314.9,304.5 1315.0,275.1 1315.2,254.6 1315.4,263.8 1315.5,260.1 1315.7,268.5 1315.8,286.5 1316.0,263.8 1316.2,275.1 1316.3,286.5 1316.5,268.5 1316.7,286.5 1316.8,268.5 1317.0,286.5 1317.1,275.1 1317.3,286.5 1317.5,268.5 1317.6,304.5 1317.8,286.5 1317.9,257.1 1318.1,268.5 1318.3,263.8 1318.4,286.5 1318.6,268.5 1318.8,275.1 1318.9,275.1 1319.1,286.5 1319.2,304.5 1319.4,263.8 1319.6,286.5 1319.7,304.5 1319.9,286.5 1320.0,275.1 1320.2,286.5 1320.4,260.1 1320.5,268.5 1320.7,286.5 1320.9,268.5 1321.0,263.8 1321.2,275.1 1321.3,275.1 1321.5,304.5 1321.7,268.5 1321.8,254.6 1322.0,275.1 1322.1,286.5 1322.3,286.5 1322.5,304.5 1322.6,268.5 1322.8,275.1 1323.0,286.5 1323.1,263.8 1323.3,286.5 1323.4,268.5 1323.6,260.1 1323.8,275.1 1323.9,257.1 1324.1,248.7 1324.2,260.1 1324.4,286.5 1324.6,304.5 1324.7,286.5 1324.9,260.1 1325.1,275.1 1325.2,275.1 1325.4,286.5 1325.5,260.1 1325.7,286.5 1325.9,275.1 1326.0,275.1 1326.2,275.1 1326.4,263.8 1326.5,268.5 1326.7,286.5 1326.8,275.1 1327.0,275.1 1327.2,263.8 1327.3,260.1 1327.5,286.5 1327.6,304.5 1327.8,268.5 1328.0,257.1 1328.1,263.8 1328.3,260.1 1328.5,286.5 1328.6,275.1 1328.8,263.8 1328.9,263.8 1329.1,286.5 1329.3,275.1 1329.4,275.1 1329.6,286.5 1329.7,263.8 1329.9,275.1 1330.1,260.1 1330.2,268.5 1330.4,260.1 1330.6,263.8 1330.7,263.8 1330.9,254.6 1331.0,286.5 1331.2,263.8 1331.4,260.1 1331.5,263.8 1331.7,286.5 1331.8,268.5 1332.0,260.1 1332.2,275.1 1332.3,275.1 1332.5,268.5 1332.7,257.1 1332.8,286.5 1333.0,275.1 1333.1,275.1 1333.3,268.5 1333.5,286.5 1333.6,275.1 1333.8,275.1 1333.9,275.1" fill="none" stroke="#8000ff" stroke-width="2.0" stroke-linejoin="round"/>
<polyline points="593.3,340.7 593.5,336.7 593.7,333.5 593.9,344.0 594.1,336.7 594.3,335.6 594.5,339.2 594.7,336.7 594.9,331.7 595.1,332.6 595.3,342.2 595.5,342.2 595.7,336.7 595.9,330.1 596.1,334.5 596.3,335.6 596.5,330.9 596.7,329.3 596.9,328.6 597.1,330.9 597.3,336.7 597.5,335.6 597.7,339.2 597.9,332.6 598.1,337.9 598.4,340.7 598.6,334.5 598.8,342.2 599.0,340.7 599.2,335.6 599.4,344.0 599.6,345.9 599.8,337.9 600.0,332.6 600.2,333.5 600.4,344.0 600.6,350.6 600.8,334.5 601.0,337.9 601.2,335.6 601.4,334.5 601.6,348.1 601.8,353.6 602.0,335.6 602.2,337.9 602.4,337.9 602.6,342.2 602.8,339.2 603.0,342.2 603.2,348.1 603.4,332.6 603.6,334.5 603.8,339.2 604.0,340.7 604.2,337.9 604.4,348.1 604.6,337.9 604.8,339.2 605.0,339.2 605.2,335.6 605.4,342.2 605.6,337.9 605.8,345.9 606.0,336.7 606.2,339.2 606.4,353.6 606.6,336.7 606.8,345.9 607.0,344.0 607.2,340.7 607.4,339.2 607.6,332.6 607.8,336.7 608.0,336.7 608.2,340.7 608.5,342.2 608.7,336.7 608.9,345.9 609.1,334.5 609.3,339.2 609.5,335.6 609.7,340.7 609.9,342.2 610.1,345.9 610.3,348.1 610.5,345.9 610.7,329.3 610.9,337.9 611.1,335.6 611.3,339.2 611.5,334.5 611.7,339.2 611.9,331.7 612.1,334.5 612.3,335.6 612.5,339.2 612.7,339.2 612.9,340.7 613.1,336.7 613.3,332.6 613.5,344.0 613.7,337.9 613.9,333.5 614.1,340.7 614.3,340.7 614.5,339.2 614.7,332.6 614.9,340.7 615.1,342.2 615.3,342.2 615.5,348.1 615.7,334.5 615.9,342.2 616.1,348.1 616.3,339.2 616.5,339.2 616.7,344.0 616.9,334.5 617.1,336.7 617.3,332.6 617.5,336.7 617.7,340.7 617.9,348.1 618.1,335.6 618.3,337.9 618.6,344.0 618.8,332.6 619.0,337.9 619.2,335.6 619.4,342.2 619.6,344.0 619.8,334.5 620.0,337.9 620.2,348.1 620.4,337.9 620.6,332.6 620.8,336.7 621.0,333.5 621.2,362.0 621.4,348.1 621.6,348.1 621.8,342.2 622.0,344.0 622.2,344.0 622.4,337.9 622.6,337.9 622.8,335.6 623.0,344.0 623.2,348.1 623.4,336.7 623.6,344.0 623.8,332.6 624.0,350.6 624.2,342.2 624.4,331.7 624.6,357.3 624.8,340.7 625.0,340.7 625.2,344.0 625.4,333.5 625.6,344.0 625.8,339.2 626.0,336.7 626.2,335.6 626.4,336.7 626.6,342.2 626.8,342.2 627.0,353.6 627.2,334.5 627.4,340.7 627.6,348.1 627.8,337.9 628.0,345.9 628.2,340.7 628.4,340.7 628.7,340.7 628.9,340.7 629.1,335.6 629.3,339.2 629.5,348.1 629.7,339.2 629.9,348.1 630.1,348.1 630.3,348.1 630.5,348.1 630.7,340.7 630.9,345.9 631.1,333.5 631.3,331.7 631.5,348.1 631.7,344.0 631.9,342.2 632.1,340.7 632.3,336.7 632.5,342.2 632.7,348.1 632.9,344.0 633.1,362.0 633.3,340.7 633.5,340.7 633.7,344.0 633.9,332.6 634.1,350.6 634.3,333.5 634.5,335.6 634.7,339.2 634.9,336.7 635.1,339.2 635.3,337.9 635.5,337.9 635.7,348.1 635.9,345.9 636.1,337.9 636.3,331.7 636.5,344.0 636.7,344.0 636.9,337.9 637.1,337.9 637.3,342.2 637.5,342.2 637.7,340.7 637.9,353.6 638.1,348.1 638.3,337.9 638.6,340.7 638.8,336.7 639.0,340.7 639.2,337.9 639.4,333.5 639.6,342.2 639.8,337.9 640.0,344.0 640.2,344.0 640.4,345.9 640.6,342.2 640.8,350.6 641.0,340.7 641.2,339.2 641.4,350.6 641.6,340.7 641.8,340.7 642.0,342.2 642.2,339.2 642.4,348.1 642.6,340.7 642.8,339.2 643.0,339.2 643.2,335.6 643.4,340.7 643.6,362.0 643.8,344.0 644.0,342.2 644.2,344.0 644.4,345.9 644.6,344.0 644.8,339.2 645.0,342.2 645.2,339.2 645.4,344.0 645.6,335.6 645.8,339.2 646.0,345.9 646.2,336.7 646.4,337.9 646.6,345.9 646.8,350.6 647.0,340.7 647.2,337.9 647.4,340.7 647.6,333.5 647.8,348.1 648.0,342.2 648.2,353.6 648.4,345.9 648.7,334.5 648.9,339.2 649.1,334.5 649.3,348.1 649.5,340.7 649.7,335.6 649.9,337.9 650.1,342.2 650.3,337.9 650.5,350.6 650.7,344.0 650.9,342.2 651.1,345.9 651.3,350.6 651.5,357.3 651.7,342.2 651.9,340.7 652.1,336.7 652.3,344.0 652.5,348.1 652.7,335.6 652.9,333.5 653.1,342.2 653.3,337.9 653.5,344.0 653.7,333.5 653.9,339.2 654.1,335.6 654.3,335.6 654.5,337.9 654.7,342.2 654.9,342.2 655.1,340.7 655.3,333.5 655.5,345.9 655.7,350.6 655.9,342.2 656.1,353.6 656.3,350.6 656.5,339.2 656.7,340.7 656.9,344.0 657.1,342.2 657.3,353.6 657.5,350.6 657.7,345.9 657.9,339.2 658.1,337.9 658.3,336.7 658.5,339.2 658.8,345.9 659.0,342.2 659.2,350.6 659.4,344.0 659.6,345.9 659.8,340.7 660.0,337.9 660.2,337.9 660.4,336.7 660.6,336.7 660.8,353.6 661.0,336.7 661.2,337.9 661.4,339.2 661.6,345.9 661.8,345.9 662.0,339.2 662.2,353.6 662.4,345.9 662.6,345.9 662.8,339.2 663.0,340.7 663.2,342.2 663.4,357.3 663.6,342.2 663.8,342.2 664.0,350.6 664.2,362.0 664.4,345.9 664.6,337.9 664.8,344.0 665.0,345.9 665.2,339.2 665.4,353.6 665.6,337.9 665.8,344.0 666.0,337.9 666.2,345.9 666.4,337.9 666.6,337.9 666.8,334.5 667.0,335.6 667.2,344.0 667.4,344.0 667.6,348.1 667.8,342.2 668.0,348.1 668.2,337.9 668.4,334.5 668.6,353.6 668.9,333.5 669.1,344.0 669.3,342.2 669.5,340.7 669.7,345.9 669.9,350.6 670.1,340.7 670.3,340.7 670.5,339.2 670.7,340.7 670.9,342.2 671.1,342.2 671.3,342.2 671.5,339.2 671.7,334.5 671.9,344.0 672.1,345.9 672.3,344.0 672.5,339.2 672.7,337.9 672.9,340.7 673.1,339.2 673.3,340.7 673.5,344.0 673.7,340.7 673.9,340.7 674.1,353.6 674.3,337.9 674.5,345.9 674.7,336.7 674.9,332.6 675.1,357.3 675.3,340.7 675.5,350.6 675.7,337.9 675.9,337.9 676.1,340.7 676.3,340.7 676.5,339.2 676.7,344.0 676.9,348.1 677.1,340.7 677.3,344.0 677.5,342.2 677.7,344.0 677.9,340.7 678.1,350.6 678.3,337.9 678.5,336.7 678.7,342.2 679.0,345.9 679.2,353.6 679.4,344.0 679.6,342.2 679.8,350.6 680.0,350.6 680.2,340.7 680.4,342.2 680.6,340.7 680.8,336.7 681.0,342.2 681.2,337.9 681.4,344.0 681.6,342.2 681.8,337.9 682.0,344.0 682.2,348.1 682.4,342.2 682.6,345.9 682.8,348.1 683.0,342.2 683.2,339.2 683.4,350.6 683.6,340.7 683.8,337.9 684.0,339.2 684.2,339.2 684.4,348.1 684.6,337.9 684.8,357.3 685.0,348.1 685.2,345.9 685.4,344.0 685.6,357.3 685.8,332.6 686.0,339.2 686.2,350.6 686.4,340.7 686.6,344.0 686.8,337.9 687.0,342.2 687.2,342.2 687.4,340.7 687.6,334.5 687.8,335.6 688.0,336.7 688.2,340.7 688.4,339.2 688.6,339.2 688.9,362.0 689.1,357.3 689.3,340.7 689.5,339.2 689.7,345.9 689.9,345.9 690.1,348.1 690.3,348.1 690.5,337.9 690.7,342.2 690.9,342.2 691.1,340.7 691.3,340.7 691.5,340.7 691.7,348.1 691.9,340.7 692.1,348.1 692.3,345.9 692.5,340.7 692.7,339.2 692.9,348.1 693.1,337.9 693.3,350.6 693.5,335.6 693.7,342.2 693.9,344.0 694.1,339.2 694.3,344.0 694.5,344.0 694.7,339.2 694.9,337.9 695.1,357.3 695.3,336.7 695.5,348.1 695.7,353.6 695.9,342.2 696.1,345.9 696.3,344.0 696.5,342.2 696.7,344.0 696.9,337.9 697.1,342.2 697.3,339.2 697.5,350.6 697.7,340.7 697.9,348.1 698.1,337.9 698.3,342.2 698.5,342.2 698.7,340.7 699.0,336.7 699.2,344.0 699.4,339.2 699.6,357.3 699.8,339.2 700.0,339.2 700.2,342.2 700.4,342.2 700.6,350.6 700.8,339.2 701.0,353.6 701.2,336.7 701.4,339.2 701.6,345.9 701.8,342.2 702.0,344.0 702.2,340.7 702.4,336.7 702.6,353.6 702.8,342.2 703.0,344.0 703.2,342.2 703.4,344.0 703.6,350.6 703.8,342.2 704.0,348.1 704.2,337.9 704.4,350.6 704.6,344.0 704.8,342.2 705.0,345.9 705.2,345.9 705.4,335.6 705.6,335.6 705.8,337.9 706.0,336.7 706.2,342.2 706.4,342.2 706.6,340.7 706.8,333.5 707.0,340.7 707.2,337.9 707.4,336.7 707.6,335.6 707.8,335.6 708.0,345.9 708.2,362.0 708.4,344.0 708.6,342.2 708.8,337.9 709.1,340.7 709.3,345.9 709.5,350.6 709.7,336.7 709.9,342.2 710.1,344.0 710.3,335.6 710.5,345.9 710.7,345.9 710.9,344.0 711.1,336.7 711.3,353.6 711.5,335.6 711.7,342.2 711.9,340.7 712.1,344.0 712.3,336.7 712.5,340.7 712.7,335.6 712.9,339.2 713.1,344.0 713.3,348.1 713.5,345.9 713.7,353.6 713.9,336.7 714.1,335.6 714.3,337.9 714.5,345.9 714.7,337.9 714.9,332.6 715.1,342.2 715.3,339.2 715.5,336.7 715.7,344.0 715.9,335.6 716.1,345.9 716.3,353.6 716.5,345.9 716.7,339.2 716.9,350.6 717.1,336.7 717.3,342.2 717.5,345.9 717.7,339.2 717.9,353.6 718.1,345.9 718.3,350.6 718.5,350.6 718.7,350.6 718.9,342.2 719.2,340.7 719.4,345.9 719.6,350.6 719.8,345.9 720.0,348.1 720.2,339.2 720.4,342.2 720.6,335.6 720.8,345.9 721.0,339.2 721.2,336.7 721.4,342.2 721.6,340.7 721.8,357.3 722.0,337.9 722.2,340.7 722.4,344.0 722.6,344.0 722.8,335.6 723.0,336.7 723.2,345.9 723.4,353.6 723.6,348.1 723.8,334.5 724.0,344.0 724.2,340.7 724.4,350.6 724.6,344.0 724.8,342.2 725.0,344.0 725.2,344.0 725.4,340.7 725.6,342.2 725.8,345.9 726.0,345.9 726.2,350.6 726.4,340.7 726.6,342.2 726.8,337.9 727.0,342.2 727.2,348.1 727.4,350.6 727.6,340.7 727.8,342.2 728.0,334.5 728.2,342.2 728.4,342.2 728.6,337.9 728.8,345.9 729.1,340.7 729.3,345.9 729.5,345.9 729.7,342.2 729.9,339.2 730.1,336.7 730.3,350.6 730.5,344.0 730.7,339.2 730.9,339.2 731.1,332.6 731.3,339.2 731.5,353.6 731.7,339.2 731.9,344.0 732.1,353.6 732.3,339.2 732.5,339.2 732.7,344.0 732.9,345.9 733.1,335.6 733.3,345.9 733.5,334.5 733.7,345.9 733.9,350.6 734.1,335.6 734.3,344.0 734.5,344.0 734.7,345.9 734.9,350.6 735.1,345.9 735.3,344.0 735.5,344.0 735.7,350.6 735.9,340.7 736.1,353.6 736.3,344.0 736.5,336.7 736.7,339.2 736.9,337.9 737.1,353.6 737.3,340.7 737.5,336.7 737.7,344.0 737.9,337.9 738.1,336.7 738.3,344.0 738.5,353.6 738.7,345.9 738.9,345.9 739.2,345.9 739.4,348.1 739.6,345.9 739.8,340.7 740.0,344.0 740.2,337.9 740.4,368.6 740.6,350.6 740.8,340.7 741.0,348.1 741.2,340.7 741.4,368.6 741.6,350.6 741.8,342.2 742.0,345.9 742.2,345.9 742.4,342.2 742.6,340.7 742.8,337.9 743.0,344.0 743.2,345.9 743.4,330.9 743.6,345.9 743.8,348.1 744.0,345.9 744.2,342.2 744.4,339.2 744.6,339.2 744.8,335.6 745.0,344.0 745.2,344.0 745.4,340.7 745.6,337.9 745.8,344.0 746.0,342.2 746.2,337.9 746.4,339.2 746.6,357.3 746.8,342.2 747.0,350.6 747.2,348.1 747.4,344.0 747.6,342.2 747.8,357.3 748.0,357.3 748.2,339.2 748.4,348.1 748.6,350.6 748.8,345.9 749.0,350.6 749.3,339.2 749.5,348.1 749.7,339.2 749.9,348.1 750.1,339.2 750.3,350.6 750.5,336.7 750.7,340.7 750.9,337.9 751.1,333.5 751.3,340.7 751.5,344.0 751.7,345.9 751.9,350.6 752.1,340.7 752.3,340.7 752.5,342.2 752.7,342.2 752.9,342.2 753.1,348.1 753.3,345.9 753.5,353.6 753.7,335.6 753.9,339.2 754.1,350.6 754.3,350.6 754.5,340.7 754.7,330.1 754.9,344.0 755.1,336.7 755.3,336.7 755.5,344.0 755.7,350.6 755.9,350.6 756.1,333.5 756.3,345.9 756.5,348.1 756.7,334.5 756.9,342.2 757.1,348.1 757.3,337.9 757.5,345.9 757.7,350.6 757.9,335.6 758.1,353.6 758.3,340.7 758.5,340.7 758.7,348.1 758.9,337.9 759.1,344.0 759.4,342.2 759.6,345.9 759.8,345.9 760.0,330.9 760.2,342.2 760.4,336.7 760.6,357.3 760.8,342.2 761.0,353.6 761.2,344.0 761.4,357.3 761.6,342.2 761.8,336.7 762.0,339.2 762.2,340.7 762.4,340.7 762.6,342.2 762.8,344.0 763.0,362.0 763.2,348.1 763.4,337.9 763.6,353.6 763.8,368.6 764.0,340.7 764.2,337.9 764.4,340.7 764.6,348.1 764.8,336.7 765.0,348.1 765.2,344.0 765.4,350.6 765.6,344.0 765.8,357.3 766.0,344.0 766.2,348.1 766.4,344.0 766.6,336.7 766.8,348.1 767.0,345.9 767.2,350.6 767.4,337.9 767.6,344.0 767.8,339.2 768.0,348.1 768.2,330.9 768.4,368.6 768.6,345.9 768.8,345.9 769.0,340.7 769.2,344.0 769.5,340.7 769.7,335.6 769.9,340.7 770.1,362.0 770.3,353.6 770.5,344.0 770.7,348.1 770.9,339.2 771.1,345.9 771.3,357.3 771.5,335.6 771.7,342.2 771.9,337.9 772.1,342.2 772.3,342.2 772.5,353.6 772.7,345.9 772.9,345.9 773.1,339.2 773.3,339.2 773.5,342.2 773.7,342.2 773.9,353.6 774.1,339.2 774.3,342.2 774.5,345.9 774.7,362.0 774.9,348.1 775.1,340.7 775.3,345.9 775.5,335.6 775.7,337.9 775.9,339.2 776.1,344.0 776.3,342.2 776.5,336.7 776.7,348.1 776.9,342.2 777.1,348.1 777.3,340.7 777.5,348.1 777.7,348.1 777.9,340.7 778.1,344.0 778.3,340.7 778.5,344.0 778.7,348.1 778.9,348.1 779.1,345.9 779.4,344.0 779.6,348.1 779.8,342.2 780.0,344.0 780.2,345.9 780.4,348.1 780.6,353.6 780.8,342.2 781.0,348.1 781.2,353.6 781.4,340.7 781.6,350.6 781.8,350.6 782.0,337.9 782.2,345.9 782.4,350.6 782.6,345.9 782.8,340.7 783.0,350.6 783.2,353.6 783.4,348.1 783.6,336.7 783.8,342.2 784.0,353.6 784.2,340.7 784.4,345.9 784.6,336.7 784.8,344.0 785.0,342.2 785.2,345.9 785.4,342.2 785.6,345.9 785.8,348.1 786.0,350.6 786.2,345.9 786.4,362.0 786.6,348.1 786.8,342.2 787.0,342.2 787.2,345.9 787.4,353.6 787.6,362.0 787.8,340.7 788.0,345.9 788.2,342.2 788.4,342.2 788.6,340.7 788.8,339.2 789.0,344.0 789.2,348.1 789.5,340.7 789.7,350.6 789.9,353.6 790.1,339.2 790.3,348.1 790.5,340.7 790.7,337.9 790.9,332.6 791.1,345.9 791.3,336.7 791.5,350.6 791.7,333.5 791.9,353.6 792.1,337.9 792.3,339.2 792.5,344.0 792.7,342.2 792.9,345.9 793.1,345.9 793.3,340.7 793.5,348.1 793.7,344.0 793.9,350.6 794.1,348.1 794.3,334.5 794.5,353.6 794.7,342.2 794.9,353.6 795.1,345.9 795.3,344.0 795.5,342.2 795.7,342.2 795.9,357.3 796.1,353.6 796.3,348.1 796.5,350.6 796.7,340.7 796.9,337.9 797.1,337.9 797.3,345.9 797.5,340.7 797.7,357.3 797.9,350.6 798.1,350.6 798.3,345.9 798.5,344.0 798.7,345.9 798.9,336.7 799.1,357.3 799.3,344.0 799.6,340.7 799.8,348.1 800.0,345.9 800.2,339.2 800.4,353.6 800.6,339.2 800.8,339.2 801.0,350.6 801.2,345.9 801.4,342.2 801.6,345.9 801.8,336.7 802.0,353.6 802.2,340.7 802.4,344.0 802.6,339.2 802.8,362.0 803.0,350.6 803.2,350.6 803.4,340.7 803.6,357.3 803.8,348.1 804.0,345.9 804.2,348.1 804.4,344.0 804.6,350.6 804.8,353.6 805.0,342.2 805.2,340.7 805.4,353.6 805.6,337.9 805.8,350.6 806.0,353.6 806.2,348.1 806.4,350.6 806.6,357.3 806.8,337.9 807.0,339.2 807.2,340.7 807.4,336.7 807.6,350.6 807.8,348.1 808.0,350.6 808.2,350.6 808.4,342.2 808.6,357.3 808.8,339.2 809.0,342.2 809.2,345.9 809.4,345.9 809.7,337.9 809.9,337.9 810.1,348.1 810.3,345.9 810.5,350.6 810.7,348.1 810.9,345.9 811.1,340.7 811.3,344.0 811.5,350.6 811.7,339.2 811.9,348.1 812.1,348.1 812.3,345.9 812.5,350.6 812.7,342.2 812.9,348.1 813.1,348.1 813.3,340.7 813.5,350.6 813.7,348.1 813.9,339.2 814.1,336.7 814.3,357.3 814.5,336.7 814.7,342.2 814.9,345.9 815.1,342.2 815.3,344.0 815.5,344.0 815.7,348.1 815.9,335.6 816.1,342.2 816.3,342.2 816.5,335.6 816.7,332.6 816.9,344.0 817.1,345.9 817.3,344.0 817.5,344.0 817.7,344.0 817.9,344.0 818.1,368.6 818.3,342.2 818.5,336.7 818.7,336.7 818.9,342.2 819.1,342.2 819.3,339.2 819.6,339.2 819.8,340.7 820.0,336.7 820.2,344.0 820.4,339.2 820.6,345.9 820.8,337.9 821.0,335.6 821.2,330.1 821.4,329.3 821.6,330.1 821.8,327.2 822.0,326.5 822.2,320.3 822.4,317.2 822.6,314.0 822.8,305.5 823.0,304.4 823.2,300.5 823.4,296.6 823.6,296.1 823.8,296.1 824.0,291.7 824.2,290.0 824.4,288.2 824.6,287.7 824.8,285.7 825.0,288.5 825.2,285.7 825.4,288.2 825.6,289.7 825.8,289.8 826.0,292.1 826.2,295.5 826.4,297.5 826.6,297.3 826.8,304.1 827.0,307.1 827.2,309.4 827.4,313.1 827.6,321.7 827.8,321.2 828.0,323.7 828.2,328.6 828.4,330.1 828.6,326.5 828.8,332.6 829.0,327.9 829.2,328.6 829.4,323.7 829.7,329.3 829.9,334.5 830.1,324.8 830.3,325.3 830.5,314.6 830.7,303.3 830.9,283.1 831.1,263.3 831.3,248.4 831.5,234.4 831.7,223.2 831.9,214.4 832.1,208.0 832.3,204.2 832.5,203.1 832.7,204.2 832.9,207.9 833.1,214.3 833.3,223.1 833.5,234.6 833.7,248.3 833.9,264.6 834.1,282.3 834.3,299.5 834.5,313.4 834.7,327.9 834.9,324.2 835.1,332.6 835.3,333.5 835.5,337.9 835.7,330.9 835.9,330.1 836.1,336.7 836.3,335.6 836.5,337.9 836.7,335.6 836.9,339.2 837.1,340.7 837.3,337.9 837.5,336.7 837.7,345.9 837.9,334.5 838.1,344.0 838.3,337.9 838.5,344.0 838.7,342.2 838.9,357.3 839.1,348.1 839.3,348.1 839.5,336.7 839.8,345.9 840.0,344.0 840.2,348.1 840.4,368.6 840.6,344.0 840.8,334.5 841.0,339.2 841.2,340.7 841.4,337.9 841.6,336.7 841.8,340.7 842.0,345.9 842.2,337.9 842.4,345.9 842.6,337.9 842.8,339.2 843.0,342.2 843.2,345.9 843.4,350.6 843.6,342.2 843.8,357.3 844.0,348.1 844.2,357.3 844.4,345.9 844.6,350.6 844.8,345.9 845.0,345.9 845.2,344.0 845.4,345.9 845.6,353.6 845.8,345.9 846.0,350.6 846.2,350.6 846.4,353.6 846.6,345.9 846.8,353.6 847.0,339.2 847.2,334.5 847.4,345.9 847.6,357.3 847.8,344.0 848.0,345.9 848.2,337.9 848.4,339.2 848.6,339.2 848.8,353.6 849.0,348.1 849.2,344.0 849.4,357.3 849.6,344.0 849.9,345.9 850.1,344.0 850.3,345.9 850.5,353.6 850.7,353.6 850.9,345.9 851.1,362.0 851.3,362.0 851.5,345.9 851.7,353.6 851.9,345.9 852.1,340.7 852.3,353.6 852.5,350.6 852.7,348.1 852.9,362.0 853.1,345.9 853.3,345.9 853.5,340.7 853.7,344.0 853.9,344.0 854.1,345.9 854.3,348.1 854.5,342.2 854.7,350.6 854.9,353.6 855.1,348.1 855.3,348.1 855.5,342.2 855.7,350.6 855.9,350.6 856.1,353.6 856.3,345.9 856.5,345.9 856.7,348.1 856.9,344.0 857.1,353.6 857.3,350.6 857.5,340.7 857.7,345.9 857.9,353.6 858.1,348.1 858.3,357.3 858.5,353.6 858.7,350.6 858.9,357.3 859.1,348.1 859.3,348.1 859.5,350.6 859.7,350.6 860.0,340.7 860.2,357.3 860.4,344.0 860.6,336.7 860.8,353.6 861.0,368.6 861.2,353.6 861.4,348.1 861.6,348.1 861.8,353.6 862.0,340.7 862.2,348.1 862.4,344.0 862.6,342.2 862.8,368.6 863.0,353.6 863.2,362.0 863.4,342.2 863.6,353.6 863.8,344.0 864.0,348.1 864.2,348.1 864.4,345.9 864.6,345.9 864.8,348.1 865.0,345.9 865.2,345.9 865.4,344.0 865.6,350.6 865.8,342.2 866.0,348.1 866.2,348.1 866.4,345.9 866.6,339.2 866.8,340.7 867.0,368.6 867.2,340.7 867.4,345.9 867.6,362.0 867.8,350.6 868.0,348.1 868.2,342.2 868.4,339.2 868.6,362.0 868.8,344.0 869.0,345.9 869.2,348.1 869.4,336.7 869.6,348.1 869.9,357.3 870.1,344.0 870.3,348.1 870.5,345.9 870.7,340.7 870.9,350.6 871.1,342.2 871.3,344.0 871.5,350.6 871.7,342.2 871.9,353.6 872.1,353.6 872.3,342.2 872.5,353.6 872.7,350.6 872.9,344.0 873.1,348.1 873.3,339.2 873.5,339.2 873.7,362.0 873.9,345.9 874.1,353.6 874.3,342.2 874.5,342.2 874.7,350.6 874.9,345.9 875.1,362.0 875.3,344.0 875.5,344.0 875.7,357.3 875.9,350.6 876.1,353.6 876.3,362.0 876.5,337.9 876.7,345.9 876.9,353.6 877.1,357.3 877.3,345.9 877.5,342.2 877.7,342.2 877.9,350.6 878.1,348.1 878.3,368.6 878.5,344.0 878.7,353.6 878.9,353.6 879.1,350.6 879.3,357.3 879.5,357.3 879.7,344.0 880.0,345.9 880.2,345.9 880.4,336.7 880.6,340.7 880.8,344.0 881.0,345.9 881.2,345.9 881.4,348.1 881.6,350.6 881.8,342.2 882.0,342.2 882.2,342.2 882.4,344.0 882.6,337.9 882.8,348.1 883.0,344.0 883.2,342.2 883.4,339.2 883.6,340.7 883.8,348.1 884.0,345.9 884.2,344.0 884.4,345.9 884.6,339.2 884.8,348.1 885.0,350.6 885.2,353.6 885.4,342.2 885.6,342.2 885.8,357.3 886.0,340.7 886.2,348.1 886.4,350.6 886.6,348.1 886.8,350.6 887.0,348.1 887.2,353.6 887.4,350.6 887.6,350.6 887.8,344.0 888.0,357.3 888.2,345.9 888.4,348.1 888.6,353.6 888.8,335.6 889.0,345.9 889.2,345.9 889.4,350.6 889.6,344.0 889.8,350.6 890.1,348.1 890.3,342.2 890.5,348.1 890.7,342.2 890.9,357.3 891.1,348.1 891.3,368.6 891.5,353.6 891.7,340.7 891.9,348.1 892.1,344.0 892.3,368.6 892.5,357.3 892.7,353.6 892.9,339.2 893.1,337.9 893.3,342.2 893.5,342.2 893.7,350.6 893.9,339.2 894.1,357.3 894.3,348.1 894.5,344.0 894.7,340.7 894.9,348.1 895.1,350.6 895.3,350.6 895.5,345.9 895.7,357.3 895.9,342.2 896.1,362.0 896.3,353.6 896.5,348.1 896.7,336.7 896.9,345.9 897.1,368.6 897.3,350.6 897.5,357.3 897.7,353.6 897.9,348.1 898.1,344.0 898.3,344.0 898.5,357.3 898.7,345.9 898.9,344.0 899.1,345.9 899.3,353.6 899.5,350.6 899.7,350.6 899.9,357.3 900.2,342.2 900.4,345.9 900.6,348.1 900.8,344.0 901.0,348.1 901.2,348.1 901.4,357.3 901.6,345.9 901.8,353.6 902.0,345.9 902.2,342.2 902.4,350.6 902.6,350.6 902.8,348.1 903.0,348.1 903.2,353.6 903.4,345.9 903.6,357.3 903.8,345.9 904.0,348.1 904.2,350.6 904.4,353.6 904.6,357.3 904.8,340.7 905.0,350.6 905.2,348.1 905.4,344.0 905.6,344.0 905.8,344.0 906.0,348.1 906.2,350.6 906.4,350.6 906.6,348.1 906.8,348.1 907.0,348.1 907.2,342.2 907.4,348.1 907.6,357.3 907.8,339.2 908.0,368.6 908.2,345.9 908.4,342.2 908.6,345.9 908.8,357.3 909.0,357.3 909.2,350.6 909.4,345.9 909.6,348.1 909.8,357.3 910.1,350.6 910.3,339.2 910.5,340.7 910.7,340.7 910.9,348.1 911.1,350.6 911.3,345.9 911.5,345.9 911.7,345.9 911.9,348.1 912.1,380.0 912.3,342.2 912.5,368.6 912.7,353.6 912.9,344.0 913.1,342.2 913.3,357.3 913.5,340.7 913.7,353.6 913.9,348.1 914.1,350.6 914.3,348.1 914.5,353.6 914.7,350.6 914.9,339.2 915.1,353.6 915.3,357.3 915.5,340.7 915.7,353.6 915.9,350.6 916.1,353.6 916.3,340.7 916.5,344.0 916.7,345.9 916.9,353.6 917.1,342.2 917.3,350.6 917.5,345.9 917.7,345.9 917.9,353.6 918.1,335.6 918.3,340.7 918.5,345.9 918.7,368.6 918.9,350.6 919.1,348.1 919.3,348.1 919.5,368.6 919.7,350.6 919.9,348.1 920.2,345.9 920.4,357.3 920.6,362.0 920.8,353.6 921.0,344.0 921.2,353.6 921.4,350.6 921.6,357.3 921.8,345.9 922.0,357.3 922.2,345.9 922.4,353.6 922.6,350.6 922.8,353.6 923.0,362.0 923.2,353.6 923.4,340.7 923.6,350.6 923.8,357.3 924.0,348.1 924.2,345.9 924.4,344.0 924.6,357.3 924.8,348.1 925.0,350.6 925.2,353.6 925.4,350.6 925.6,344.0 925.8,353.6 926.0,344.0 926.2,345.9 926.4,342.2 926.6,345.9 926.8,348.1 927.0,353.6 927.2,353.6 927.4,348.1 927.6,344.0 927.8,340.7 928.0,348.1 928.2,353.6 928.4,350.6 928.6,353.6 928.8,345.9 929.0,344.0 929.2,350.6 929.4,345.9 929.6,357.3 929.8,353.6 930.0,345.9 930.3,348.1 930.5,344.0 930.7,357.3 930.9,344.0 931.1,353.6 931.3,353.6 931.5,380.0 931.7,362.0 931.9,342.2 932.1,345.9 932.3,348.1 932.5,344.0 932.7,345.9 932.9,342.2 933.1,350.6 933.3,342.2 933.5,344.0 933.7,344.0 933.9,345.9 934.1,339.2 934.3,353.6 934.5,337.9 934.7,368.6 934.9,350.6 935.1,348.1 935.3,339.2 935.5,342.2 935.7,342.2 935.9,336.7 936.1,353.6 936.3,348.1 936.5,348.1 936.7,345.9 936.9,345.9 937.1,353.6 937.3,350.6 937.5,348.1 937.7,350.6 937.9,348.1 938.1,344.0 938.3,357.3 938.5,357.3 938.7,342.2 938.9,353.6 939.1,348.1 939.3,344.0 939.5,362.0 939.7,344.0 939.9,345.9 940.1,345.9 940.4,342.2 940.6,348.1 940.8,345.9 941.0,348.1 941.2,345.9 941.4,350.6 941.6,345.9 941.8,350.6 942.0,350.6 942.2,340.7 942.4,350.6 942.6,337.9 942.8,340.7 943.0,348.1 943.2,353.6 943.4,342.2 943.6,357.3 943.8,362.0 944.0,353.6 944.2,344.0 944.4,340.7 944.6,350.6 944.8,344.0 945.0,353.6 945.2,353.6 945.4,353.6 945.6,345.9 945.8,342.2 946.0,342.2 946.2,353.6 946.4,345.9 946.6,353.6 946.8,357.3 947.0,344.0 947.2,348.1 947.4,350.6 947.6,345.9 947.8,350.6 948.0,344.0 948.2,342.2 948.4,348.1 948.6,353.6 948.8,350.6 949.0,342.2 949.2,340.7 949.4,353.6 949.6,353.6 949.8,345.9 950.0,345.9 950.3,350.6 950.5,339.2 950.7,362.0 950.9,348.1 951.1,353.6 951.3,348.1 951.5,350.6 951.7,348.1 951.9,348.1 952.1,344.0 952.3,362.0 952.5,353.6 952.7,342.2 952.9,345.9 953.1,348.1 953.3,348.1 953.5,357.3 953.7,348.1 953.9,353.6 954.1,353.6 954.3,353.6 954.5,345.9 954.7,353.6 954.9,345.9 955.1,362.0 955.3,344.0 955.5,362.0 955.7,353.6 955.9,348.1 956.1,342.2 956.3,350.6 956.5,362.0 956.7,337.9 956.9,350.6 957.1,344.0 957.3,344.0 957.5,357.3 957.7,340.7 957.9,348.1 958.1,348.1 958.3,357.3 958.5,353.6 958.7,348.1 958.9,344.0 959.1,345.9 959.3,350.6 959.5,340.7 959.7,353.6 959.9,342.2 960.1,357.3 960.4,344.0 960.6,340.7 960.8,368.6 961.0,345.9 961.2,357.3 961.4,340.7 961.6,344.0 961.8,342.2 962.0,350.6 962.2,368.6 962.4,340.7 962.6,353.6 962.8,357.3 963.0,348.1 963.2,353.6 963.4,368.6 963.6,344.0 963.8,345.9 964.0,357.3 964.2,348.1 964.4,350.6 964.6,345.9 964.8,340.7 965.0,357.3 965.2,345.9 965.4,344.0 965.6,357.3 965.8,348.1 966.0,353.6 966.2,342.2 966.4,353.6 966.6,357.3 966.8,336.7 967.0,344.0 967.2,357.3 967.4,340.7 967.6,335.6 967.8,357.3 968.0,368.6 968.2,340.7 968.4,350.6 968.6,357.3 968.8,350.6 969.0,344.0 969.2,344.0 969.4,340.7 969.6,345.9 969.8,362.0 970.0,357.3 970.2,350.6 970.5,353.6 970.7,350.6 970.9,345.9 971.1,353.6 971.3,353.6 971.5,368.6 971.7,353.6 971.9,340.7 972.1,345.9 972.3,345.9 972.5,357.3 972.7,345.9 972.9,345.9 973.1,345.9 973.3,348.1 973.5,348.1 973.7,362.0 973.9,340.7 974.1,340.7 974.3,350.6 974.5,337.9 974.7,350.6 974.9,350.6 975.1,353.6 975.3,339.2 975.5,357.3 975.7,348.1 975.9,345.9 976.1,357.3 976.3,353.6 976.5,368.6 976.7,368.6 976.9,362.0 977.1,362.0 977.3,342.2 977.5,344.0 977.7,353.6 977.9,350.6 978.1,345.9 978.3,339.2 978.5,380.0 978.7,350.6 978.9,348.1 979.1,344.0 979.3,362.0 979.5,336.7 979.7,348.1 979.9,350.6 980.1,345.9 980.3,344.0 980.6,342.2 980.8,350.6 981.0,345.9 981.2,353.6 981.4,350.6 981.6,353.6 981.8,340.7 982.0,348.1 982.2,344.0 982.4,345.9 982.6,342.2 982.8,353.6 983.0,362.0 983.2,340.7 983.4,344.0 983.6,353.6 983.8,353.6 984.0,348.1 984.2,340.7 984.4,345.9 984.6,353.6 984.8,344.0 985.0,345.9 985.2,342.2 985.4,350.6 985.6,357.3 985.8,345.9 986.0,353.6 986.2,368.6 986.4,353.6 986.6,357.3 986.8,345.9 987.0,357.3 987.2,350.6 987.4,353.6 987.6,350.6 987.8,340.7 988.0,348.1 988.2,345.9 988.4,348.1 988.6,344.0 988.8,350.6 989.0,348.1 989.2,350.6 989.4,350.6 989.6,350.6 989.8,348.1 990.0,353.6 990.2,348.1 990.4,362.0 990.7,337.9 990.9,380.0 991.1,344.0 991.3,342.2 991.5,348.1 991.7,344.0 991.9,348.1 992.1,342.2 992.3,353.6 992.5,362.0 992.7,336.7 992.9,350.6 993.1,345.9 993.3,350.6 993.5,357.3 993.7,350.6 993.9,348.1 994.1,353.6 994.3,345.9 994.5,348.1 994.7,348.1 994.9,342.2 995.1,357.3 995.3,380.0 995.5,344.0 995.7,344.0 995.9,345.9 996.1,362.0 996.3,345.9 996.5,345.9 996.7,350.6 996.9,368.6 997.1,344.0 997.3,350.6 997.5,342.2 997.7,368.6 997.9,344.0 998.1,340.7 998.3,345.9 998.5,357.3 998.7,340.7 998.9,340.7 999.1,357.3 999.3,345.9 999.5,362.0 999.7,345.9 999.9,350.6 1000.1,348.1 1000.3,345.9 1000.6,342.2 1000.8,348.1 1001.0,362.0 1001.2,353.6 1001.4,350.6 1001.6,348.1 1001.8,348.1 1002.0,342.2 1002.2,350.6 1002.4,350.6 1002.6,344.0 1002.8,344.0 1003.0,350.6 1003.2,340.7 1003.4,344.0 1003.6,357.3 1003.8,339.2 1004.0,344.0 1004.2,362.0 1004.4,348.1 1004.6,348.1 1004.8,353.6 1005.0,348.1 1005.2,353.6 1005.4,344.0 1005.6,348.1 1005.8,344.0 1006.0,345.9 1006.2,350.6 1006.4,357.3 1006.6,345.9 1006.8,350.6 1007.0,344.0 1007.2,342.2 1007.4,357.3 1007.6,357.3 1007.8,353.6 1008.0,380.0 1008.2,350.6 1008.4,339.2 1008.6,348.1 1008.8,353.6 1009.0,350.6 1009.2,340.7 1009.4,353.6 1009.6,348.1 1009.8,348.1 1010.0,348.1 1010.2,357.3 1010.4,348.1 1010.7,344.0 1010.9,357.3 1011.1,342.2 1011.3,345.9 1011.5,344.0 1011.7,348.1 1011.9,340.7 1012.1,350.6 1012.3,350.6 1012.5,342.2 1012.7,350.6 1012.9,350.6 1013.1,345.9 1013.3,353.6 1013.5,353.6 1013.7,345.9 1013.9,350.6 1014.1,337.9 1014.3,345.9 1014.5,340.7 1014.7,350.6 1014.9,357.3 1015.1,344.0 1015.3,345.9 1015.5,336.7 1015.7,350.6 1015.9,357.3 1016.1,340.7 1016.3,362.0 1016.5,362.0 1016.7,344.0 1016.9,357.3 1017.1,342.2 1017.3,345.9 1017.5,348.1 1017.7,368.6 1017.9,357.3 1018.1,357.3 1018.3,348.1 1018.5,362.0 1018.7,342.2 1018.9,357.3 1019.1,342.2 1019.3,353.6 1019.5,380.0 1019.7,350.6 1019.9,345.9 1020.1,350.6 1020.3,350.6 1020.5,339.2 1020.8,345.9 1021.0,339.2 1021.2,350.6 1021.4,345.9 1021.6,357.3 1021.8,350.6 1022.0,345.9 1022.2,342.2 1022.4,337.9 1022.6,353.6 1022.8,353.6 1023.0,348.1 1023.2,353.6 1023.4,362.0 1023.6,345.9 1023.8,350.6 1024.0,344.0 1024.2,353.6 1024.4,353.6 1024.6,348.1 1024.8,350.6 1025.0,350.6 1025.2,353.6 1025.4,380.0 1025.6,353.6 1025.8,357.3 1026.0,345.9 1026.2,342.2 1026.4,350.6 1026.6,362.0 1026.8,342.2 1027.0,345.9 1027.2,353.6 1027.4,348.1 1027.6,362.0 1027.8,350.6 1028.0,340.7 1028.2,362.0 1028.4,350.6 1028.6,344.0 1028.8,344.0 1029.0,348.1 1029.2,344.0 1029.4,345.9 1029.6,368.6 1029.8,348.1 1030.0,357.3 1030.2,342.2 1030.4,353.6 1030.6,350.6 1030.9,353.6 1031.1,345.9 1031.3,345.9 1031.5,344.0 1031.7,350.6 1031.9,357.3 1032.1,342.2 1032.3,350.6 1032.5,345.9 1032.7,345.9 1032.9,344.0 1033.1,348.1 1033.3,345.9 1033.5,357.3 1033.7,348.1 1033.9,342.2 1034.1,348.1 1034.3,357.3 1034.5,357.3 1034.7,339.2 1034.9,362.0 1035.1,353.6 1035.3,362.0 1035.5,345.9 1035.7,357.3 1035.9,357.3 1036.1,353.6 1036.3,345.9 1036.5,345.9 1036.7,350.6 1036.9,350.6 1037.1,348.1 1037.3,357.3 1037.5,350.6 1037.7,344.0 1037.9,344.0 1038.1,357.3 1038.3,344.0 1038.5,348.1 1038.7,368.6 1038.9,348.1 1039.1,344.0 1039.3,345.9 1039.5,362.0 1039.7,345.9 1039.9,348.1 1040.1,350.6 1040.3,350.6 1040.5,345.9 1040.8,357.3 1041.0,357.3 1041.2,350.6 1041.4,362.0 1041.6,336.7 1041.8,348.1 1042.0,353.6 1042.2,344.0 1042.4,344.0 1042.6,345.9 1042.8,353.6 1043.0,368.6 1043.2,350.6 1043.4,345.9 1043.6,345.9 1043.8,348.1 1044.0,357.3 1044.2,357.3 1044.4,344.0 1044.6,350.6 1044.8,348.1 1045.0,353.6 1045.2,345.9 1045.4,368.6 1045.6,348.1 1045.8,350.6 1046.0,344.0 1046.2,344.0 1046.4,350.6 1046.6,345.9 1046.8,362.0 1047.0,345.9 1047.2,340.7 1047.4,345.9 1047.6,362.0 1047.8,350.6 1048.0,353.6 1048.2,350.6 1048.4,345.9 1048.6,345.9 1048.8,348.1 1049.0,353.6 1049.2,350.6 1049.4,368.6 1049.6,353.6 1049.8,339.2 1050.0,368.6 1050.2,348.1 1050.4,342.2 1050.6,348.1 1050.9,362.0 1051.1,348.1 1051.3,339.2 1051.5,350.6 1051.7,350.6 1051.9,353.6 1052.1,345.9 1052.3,362.0 1052.5,357.3 1052.7,362.0 1052.9,336.7 1053.1,348.1 1053.3,357.3 1053.5,348.1 1053.7,350.6 1053.9,348.1 1054.1,344.0 1054.3,353.6 1054.5,350.6 1054.7,357.3 1054.9,353.6 1055.1,342.2 1055.3,345.9 1055.5,344.0 1055.7,340.7 1055.9,353.6 1056.1,342.2 1056.3,345.9 1056.5,340.7 1056.7,340.7 1056.9,342.2 1057.1,350.6 1057.3,362.0 1057.5,348.1 1057.7,353.6 1057.9,350.6 1058.1,342.2 1058.3,340.7 1058.5,342.2 1058.7,353.6 1058.9,348.1 1059.1,348.1 1059.3,340.7 1059.5,345.9 1059.7,368.6 1059.9,342.2 1060.1,342.2 1060.3,342.2 1060.5,345.9 1060.7,340.7 1061.0,344.0 1061.2,350.6 1061.4,342.2 1061.6,348.1 1061.8,353.6 1062.0,340.7 1062.2,340.7 1062.4,345.9 1062.6,350.6 1062.8,357.3 1063.0,337.9 1063.2,353.6 1063.4,368.6 1063.6,342.2 1063.8,342.2 1064.0,345.9 1064.2,350.6 1064.4,344.0 1064.6,336.7 1064.8,350.6 1065.0,353.6 1065.2,348.1 1065.4,353.6 1065.6,345.9 1065.8,353.6 1066.0,344.0 1066.2,340.7 1066.4,350.6 1066.6,345.9 1066.8,345.9 1067.0,353.6 1067.2,350.6 1067.4,348.1 1067.6,337.9 1067.8,353.6 1068.0,345.9 1068.2,342.2 1068.4,362.0 1068.6,344.0 1068.8,353.6 1069.0,350.6 1069.2,340.7 1069.4,353.6 1069.6,353.6 1069.8,344.0 1070.0,340.7 1070.2,344.0 1070.4,362.0 1070.6,342.2 1070.8,357.3 1071.1,345.9 1071.3,350.6 1071.5,344.0 1071.7,353.6 1071.9,344.0 1072.1,353.6 1072.3,353.6 1072.5,350.6 1072.7,357.3 1072.9,344.0 1073.1,342.2 1073.3,348.1 1073.5,348.1 1073.7,345.9 1073.9,345.9 1074.1,342.2 1074.3,350.6 1074.5,350.6 1074.7,344.0 1074.9,348.1 1075.1,342.2 1075.3,350.6 1075.5,348.1 1075.7,368.6 1075.9,362.0 1076.1,353.6 1076.3,344.0 1076.5,344.0 1076.7,350.6 1076.9,344.0 1077.1,368.6 1077.3,348.1 1077.5,353.6 1077.7,357.3 1077.9,362.0 1078.1,344.0 1078.3,350.6 1078.5,348.1 1078.7,348.1 1078.9,350.6 1079.1,345.9 1079.3,342.2 1079.5,344.0 1079.7,345.9 1079.9,340.7 1080.1,357.3 1080.3,350.6 1080.5,333.5 1080.7,340.7 1080.9,348.1 1081.2,348.1 1081.4,345.9 1081.6,357.3 1081.8,350.6 1082.0,344.0 1082.2,353.6 1082.4,348.1 1082.6,335.6 1082.8,345.9 1083.0,350.6 1083.2,340.7 1083.4,345.9 1083.6,368.6 1083.8,344.0 1084.0,353.6 1084.2,357.3 1084.4,348.1 1084.6,348.1 1084.8,344.0 1085.0,345.9 1085.2,350.6 1085.4,348.1 1085.6,348.1 1085.8,340.7 1086.0,357.3 1086.2,342.2 1086.4,342.2 1086.6,350.6 1086.8,340.7 1087.0,348.1 1087.2,337.9 1087.4,368.6 1087.6,345.9 1087.8,350.6 1088.0,353.6 1088.2,350.6 1088.4,348.1 1088.6,353.6 1088.8,331.7 1089.0,345.9 1089.2,353.6 1089.4,353.6 1089.6,342.2 1089.8,344.0 1090.0,344.0 1090.2,345.9 1090.4,342.2 1090.6,353.6 1090.8,357.3 1091.1,348.1 1091.3,353.6 1091.5,350.6 1091.7,357.3 1091.9,340.7 1092.1,344.0 1092.3,345.9 1092.5,357.3 1092.7,348.1 1092.9,350.6 1093.1,348.1 1093.3,380.0 1093.5,344.0 1093.7,344.0 1093.9,348.1 1094.1,345.9 1094.3,353.6 1094.5,335.6 1094.7,353.6 1094.9,342.2 1095.1,357.3 1095.3,345.9 1095.5,335.6 1095.7,342.2 1095.9,344.0 1096.1,348.1 1096.3,337.9 1096.5,357.3 1096.7,353.6 1096.9,345.9 1097.1,353.6 1097.3,353.6 1097.5,342.2 1097.7,357.3 1097.9,348.1 1098.1,353.6 1098.3,344.0 1098.5,357.3 1098.7,344.0 1098.9,362.0 1099.1,357.3 1099.3,344.0 1099.5,350.6 1099.7,344.0 1099.9,350.6 1100.1,342.2 1100.3,345.9 1100.5,362.0 1100.7,344.0 1100.9,342.2 1101.2,357.3 1101.4,353.6 1101.6,353.6 1101.8,345.9 1102.0,345.9 1102.2,348.1 1102.4,348.1 1102.6,342.2 1102.8,344.0 1103.0,350.6 1103.2,344.0 1103.4,348.1 1103.6,345.9 1103.8,345.9 1104.0,344.0 1104.2,340.7 1104.4,342.2 1104.6,350.6 1104.8,350.6 1105.0,350.6 1105.2,348.1 1105.4,350.6 1105.6,350.6 1105.8,353.6 1106.0,345.9 1106.2,353.6 1106.4,348.1 1106.6,350.6 1106.8,345.9 1107.0,350.6 1107.2,339.2 1107.4,345.9 1107.6,348.1 1107.8,350.6 1108.0,339.2 1108.2,337.9 1108.4,350.6 1108.6,353.6 1108.8,345.9 1109.0,350.6 1109.2,350.6 1109.4,340.7 1109.6,344.0 1109.8,344.0 1110.0,348.1 1110.2,362.0 1110.4,344.0 1110.6,348.1 1110.8,348.1 1111.0,340.7 1111.3,339.2 1111.5,348.1 1111.7,348.1 1111.9,340.7 1112.1,345.9 1112.3,335.6 1112.5,348.1 1112.7,350.6 1112.9,368.6 1113.1,344.0 1113.3,342.2 1113.5,362.0 1113.7,353.6 1113.9,344.0 1114.1,345.9 1114.3,345.9 1114.5,357.3 1114.7,337.9 1114.9,342.2 1115.1,342.2 1115.3,336.7 1115.5,345.9 1115.7,353.6 1115.9,348.1 1116.1,348.1 1116.3,342.2 1116.5,339.2 1116.7,345.9 1116.9,348.1 1117.1,348.1 1117.3,353.6 1117.5,353.6 1117.7,344.0 1117.9,348.1 1118.1,345.9 1118.3,342.2 1118.5,353.6 1118.7,337.9 1118.9,353.6 1119.1,337.9 1119.3,340.7 1119.5,348.1 1119.7,340.7 1119.9,345.9 1120.1,350.6 1120.3,342.2 1120.5,350.6 1120.7,337.9 1120.9,350.6 1121.1,344.0 1121.4,345.9 1121.6,335.6 1121.8,339.2 1122.0,340.7 1122.2,345.9 1122.4,350.6 1122.6,332.6 1122.8,340.7 1123.0,336.7 1123.2,353.6 1123.4,344.0 1123.6,348.1 1123.8,340.7 1124.0,335.6 1124.2,344.0 1124.4,336.7 1124.6,342.2 1124.8,339.2 1125.0,340.7 1125.2,344.0 1125.4,340.7 1125.6,340.7 1125.8,332.6 1126.0,342.2 1126.2,340.7 1126.4,344.0 1126.6,342.2 1126.8,344.0 1127.0,330.9 1127.2,330.1 1127.4,339.2 1127.6,342.2 1127.8,335.6 1128.0,339.2 1128.2,332.6 1128.4,330.9 1128.6,342.2 1128.8,334.5 1129.0,330.1 1129.2,333.5 1129.4,335.6 1129.6,331.7 1129.8,327.9 1130.0,330.1 1130.2,323.7 1130.4,324.2 1130.6,326.5 1130.8,318.3 1131.0,322.6 1131.3,317.5 1131.5,313.4 1131.7,308.5 1131.9,305.6 1132.1,299.5 1132.3,297.9 1132.5,293.1 1132.7,289.5 1132.9,286.0 1133.1,283.0 1133.3,279.9 1133.5,276.3 1133.7,273.9 1133.9,271.3 1134.1,269.8 1134.3,266.1 1134.5,264.4 1134.7,263.2 1134.9,260.9 1135.1,259.5 1135.3,258.3 1135.5,256.8 1135.7,256.3 1135.9,255.4 1136.1,255.3 1136.3,255.6 1136.5,255.0 1136.7,255.9 1136.9,256.7 1137.1,257.5 1137.3,258.1 1137.5,259.3 1137.7,260.9 1137.9,262.6 1138.1,264.2 1138.3,266.3 1138.5,268.7 1138.7,272.0 1138.9,274.0 1139.1,275.8 1139.3,280.4 1139.5,282.8 1139.7,287.1 1139.9,291.1 1140.1,295.0 1140.3,295.3 1140.5,302.4 1140.7,306.2 1140.9,308.7 1141.1,312.6 1141.4,311.0 1141.6,313.4 1141.8,316.8 1142.0,321.7 1142.2,317.9 1142.4,321.7 1142.6,321.7 1142.8,320.8 1143.0,320.3 1143.2,322.6 1143.4,326.5 1143.6,325.3 1143.8,324.2 1144.0,326.5 1144.2,316.2 1144.4,320.8 1144.6,319.1 1144.8,320.8 1145.0,322.1 1145.2,315.8 1145.4,317.9 1145.6,322.6 1145.8,319.5 1146.0,311.8 1146.2,316.2 1146.4,312.6 1146.6,316.8 1146.8,315.2 1147.0,308.7 1147.2,310.3 1147.4,308.7 1147.6,307.5 1147.8,308.3 1148.0,303.3 1148.2,304.6 1148.4,303.2 1148.6,298.8 1148.8,298.1 1149.0,299.0 1149.2,291.6 1149.4,280.3 1149.6,263.3 1149.8,245.0 1150.0,228.3 1150.2,213.4 1150.4,200.2 1150.6,189.0 1150.8,179.9 1151.0,172.6 1151.2,167.6 1151.5,164.5 1151.7,163.5 1151.9,164.5 1152.1,167.6 1152.3,172.7 1152.5,179.9 1152.7,189.0 1152.9,200.3 1153.1,213.5 1153.3,228.8 1153.5,245.0 1153.7,262.4 1153.9,278.2 1154.1,292.1 1154.3,294.4 1154.5,300.4 1154.7,299.2 1154.9,302.7 1155.1,304.8 1155.3,304.4 1155.5,308.1 1155.7,310.3 1155.9,309.8 1156.1,313.1 1156.3,310.1 1156.5,313.1 1156.7,315.5 1156.9,314.3 1157.1,317.9 1157.3,317.2 1157.5,317.9 1157.7,319.1 1157.9,319.1 1158.1,320.3 1158.3,320.3 1158.5,317.5 1158.7,328.6 1158.9,318.7 1159.1,322.6 1159.3,325.3 1159.5,323.1 1159.7,327.2 1159.9,330.1 1160.1,326.5 1160.3,327.9 1160.5,330.9 1160.7,332.6 1160.9,324.2 1161.1,322.6 1161.3,330.1 1161.6,330.9 1161.8,332.6 1162.0,332.6 1162.2,328.6 1162.4,334.5 1162.6,330.9 1162.8,334.5 1163.0,332.6 1163.2,331.7 1163.4,334.5 1163.6,335.6 1163.8,334.5 1164.0,339.2 1164.2,333.5 1164.4,342.2 1164.6,337.9 1164.8,337.9 1165.0,342.2 1165.2,332.6 1165.4,340.7 1165.6,331.7 1165.8,336.7 1166.0,335.6 1166.2,339.2 1166.4,337.9 1166.6,348.1 1166.8,332.6 1167.0,332.6 1167.2,339.2 1167.4,332.6 1167.6,348.1 1167.8,336.7 1168.0,344.0 1168.2,337.9 1168.4,344.0 1168.6,333.5 1168.8,340.7 1169.0,334.5 1169.2,335.6 1169.4,344.0 1169.6,336.7 1169.8,342.2 1170.0,344.0 1170.2,342.2 1170.4,337.9 1170.6,345.9 1170.8,342.2 1171.0,342.2 1171.2,345.9 1171.5,344.0 1171.7,353.6 1171.9,344.0 1172.1,357.3 1172.3,342.2 1172.5,337.9 1172.7,340.7 1172.9,353.6 1173.1,353.6 1173.3,339.2 1173.5,331.7 1173.7,340.7 1173.9,345.9 1174.1,362.0 1174.3,345.9 1174.5,336.7 1174.7,340.7 1174.9,344.0 1175.1,335.6 1175.3,345.9 1175.5,336.7 1175.7,335.6 1175.9,336.7 1176.1,340.7 1176.3,337.9 1176.5,357.3 1176.7,348.1 1176.9,353.6 1177.1,353.6 1177.3,348.1 1177.5,336.7 1177.7,353.6 1177.9,344.0 1178.1,339.2 1178.3,348.1 1178.5,348.1 1178.7,348.1 1178.9,344.0 1179.1,344.0 1179.3,344.0 1179.5,357.3 1179.7,357.3 1179.9,344.0 1180.1,345.9 1180.3,337.9 1180.5,344.0 1180.7,348.1 1180.9,350.6 1181.1,340.7 1181.3,344.0 1181.6,350.6 1181.8,345.9 1182.0,344.0 1182.2,342.2 1182.4,350.6 1182.6,348.1 1182.8,357.3 1183.0,362.0 1183.2,348.1 1183.4,342.2 1183.6,353.6 1183.8,348.1 1184.0,340.7 1184.2,344.0 1184.4,337.9 1184.6,348.1 1184.8,348.1 1185.0,340.7 1185.2,348.1 1185.4,344.0 1185.6,357.3 1185.8,353.6 1186.0,368.6 1186.2,337.9 1186.4,357.3 1186.6,345.9 1186.8,357.3 1187.0,342.2 1187.2,340.7 1187.4,345.9 1187.6,342.2 1187.8,342.2 1188.0,345.9 1188.2,342.2 1188.4,345.9 1188.6,350.6 1188.8,353.6 1189.0,350.6 1189.2,344.0 1189.4,353.6 1189.6,340.7 1189.8,342.2 1190.0,353.6 1190.2,350.6 1190.4,362.0 1190.6,353.6 1190.8,350.6 1191.0,353.6 1191.2,357.3 1191.4,353.6 1191.7,350.6 1191.9,342.2 1192.1,362.0 1192.3,340.7 1192.5,350.6 1192.7,348.1 1192.9,340.7 1193.1,348.1 1193.3,350.6 1193.5,348.1 1193.7,350.6 1193.9,353.6 1194.1,345.9 1194.3,350.6 1194.5,348.1 1194.7,350.6 1194.9,353.6 1195.1,348.1 1195.3,348.1 1195.5,344.0 1195.7,348.1 1195.9,357.3 1196.1,345.9 1196.3,348.1 1196.5,357.3 1196.7,345.9 1196.9,350.6 1197.1,357.3 1197.3,348.1 1197.5,353.6 1197.7,348.1 1197.9,362.0 1198.1,357.3 1198.3,357.3 1198.5,357.3 1198.7,344.0 1198.9,348.1 1199.1,345.9 1199.3,339.2 1199.5,337.9 1199.7,345.9 1199.9,353.6 1200.1,348.1 1200.3,357.3 1200.5,342.2 1200.7,339.2 1200.9,348.1 1201.1,350.6 1201.3,348.1 1201.5,353.6 1201.8,348.1 1202.0,345.9 1202.2,353.6 1202.4,342.2 1202.6,350.6 1202.8,350.6 1203.0,350.6 1203.2,345.9 1203.4,345.9 1203.6,350.6 1203.8,345.9 1204.0,350.6 1204.2,345.9 1204.4,348.1 1204.6,380.0 1204.8,344.0 1205.0,362.0 1205.2,344.0 1205.4,345.9 1205.6,345.9 1205.8,350.6 1206.0,348.1 1206.2,353.6 1206.4,353.6 1206.6,348.1 1206.8,353.6 1207.0,350.6 1207.2,353.6 1207.4,337.9 1207.6,348.1 1207.8,350.6 1208.0,362.0 1208.2,348.1 1208.4,337.9 1208.6,353.6 1208.8,344.0 1209.0,350.6 1209.2,348.1 1209.4,350.6 1209.6,350.6 1209.8,350.6 1210.0,344.0 1210.2,357.3 1210.4,353.6 1210.6,342.2 1210.8,353.6 1211.0,350.6 1211.2,344.0 1211.4,350.6 1211.6,353.6 1211.9,348.1 1212.1,348.1 1212.3,350.6 1212.5,350.6 1212.7,348.1 1212.9,345.9 1213.1,345.9 1213.3,348.1 1213.5,350.6 1213.7,350.6 1213.9,348.1 1214.1,344.0 1214.3,362.0 1214.5,348.1 1214.7,342.2 1214.9,340.7 1215.1,357.3 1215.3,357.3 1215.5,348.1 1215.7,380.0 1215.9,339.2 1216.1,362.0 1216.3,337.9 1216.5,380.0 1216.7,362.0 1216.9,353.6 1217.1,348.1 1217.3,357.3 1217.5,357.3 1217.7,348.1 1217.9,344.0 1218.1,368.6 1218.3,353.6 1218.5,344.0 1218.7,339.2 1218.9,357.3 1219.1,342.2 1219.3,362.0 1219.5,344.0 1219.7,350.6 1219.9,345.9 1220.1,362.0 1220.3,350.6 1220.5,344.0 1220.7,345.9 1220.9,340.7 1221.1,342.2 1221.3,353.6 1221.5,353.6 1221.8,350.6 1222.0,345.9 1222.2,353.6 1222.4,340.7 1222.6,353.6 1222.8,345.9 1223.0,350.6 1223.2,344.0 1223.4,368.6 1223.6,357.3 1223.8,357.3 1224.0,368.6 1224.2,344.0 1224.4,342.2 1224.6,350.6 1224.8,344.0 1225.0,350.6 1225.2,353.6 1225.4,357.3 1225.6,342.2 1225.8,335.6 1226.0,350.6 1226.2,368.6 1226.4,350.6 1226.6,345.9 1226.8,368.6 1227.0,357.3 1227.2,357.3 1227.4,353.6 1227.6,353.6 1227.8,353.6 1228.0,340.7 1228.2,336.7 1228.4,353.6 1228.6,357.3 1228.8,350.6 1229.0,342.2 1229.2,344.0 1229.4,353.6 1229.6,342.2 1229.8,348.1 1230.0,353.6 1230.2,362.0 1230.4,353.6 1230.6,357.3 1230.8,353.6 1231.0,348.1 1231.2,357.3 1231.4,342.2 1231.6,350.6 1231.9,353.6 1232.1,357.3 1232.3,345.9 1232.5,342.2 1232.7,362.0 1232.9,362.0 1233.1,353.6 1233.3,353.6 1233.5,357.3 1233.7,350.6 1233.9,368.6 1234.1,362.0 1234.3,350.6 1234.5,380.0 1234.7,345.9 1234.9,350.6 1235.1,353.6 1235.3,353.6 1235.5,348.1 1235.7,357.3 1235.9,357.3 1236.1,362.0 1236.3,357.3 1236.5,353.6 1236.7,353.6 1236.9,353.6 1237.1,353.6 1237.3,357.3 1237.5,368.6 1237.7,357.3 1237.9,345.9 1238.1,357.3 1238.3,344.0 1238.5,350.6 1238.7,357.3 1238.9,350.6 1239.1,368.6 1239.3,344.0 1239.5,353.6 1239.7,336.7 1239.9,350.6 1240.1,345.9 1240.3,342.2 1240.5,345.9 1240.7,353.6 1240.9,362.0 1241.1,353.6 1241.3,350.6 1241.5,348.1 1241.7,342.2 1242.0,350.6 1242.2,339.2 1242.4,350.6 1242.6,357.3 1242.8,368.6 1243.0,350.6 1243.2,350.6 1243.4,357.3 1243.6,362.0 1243.8,353.6 1244.0,357.3 1244.2,357.3 1244.4,345.9 1244.6,353.6 1244.8,350.6 1245.0,350.6 1245.2,353.6 1245.4,345.9 1245.6,342.2 1245.8,345.9 1246.0,357.3 1246.2,350.6 1246.4,353.6 1246.6,345.9 1246.8,362.0 1247.0,357.3 1247.2,350.6 1247.4,350.6 1247.6,357.3 1247.8,350.6 1248.0,357.3 1248.2,357.3 1248.4,368.6 1248.6,348.1 1248.8,350.6 1249.0,362.0 1249.2,350.6 1249.4,353.6 1249.6,345.9 1249.8,353.6 1250.0,348.1 1250.2,353.6 1250.4,362.0 1250.6,348.1 1250.8,353.6 1251.0,368.6 1251.2,344.0 1251.4,368.6 1251.6,362.0 1251.8,353.6 1252.1,362.0 1252.3,353.6 1252.5,345.9 1252.7,380.0 1252.9,353.6 1253.1,353.6 1253.3,342.2 1253.5,362.0 1253.7,337.9 1253.9,357.3 1254.1,362.0 1254.3,345.9 1254.5,342.2 1254.7,342.2 1254.9,350.6 1255.1,353.6 1255.3,350.6 1255.5,350.6 1255.7,348.1 1255.9,357.3 1256.1,362.0 1256.3,357.3 1256.5,350.6 1256.7,353.6 1256.9,348.1 1257.1,350.6 1257.3,350.6 1257.5,350.6 1257.7,345.9 1257.9,353.6 1258.1,368.6 1258.3,362.0 1258.5,362.0 1258.7,350.6 1258.9,353.6 1259.1,362.0 1259.3,362.0 1259.5,357.3 1259.7,362.0 1259.9,340.7 1260.1,345.9 1260.3,380.0 1260.5,350.6 1260.7,350.6 1260.9,353.6 1261.1,353.6 1261.3,344.0 1261.5,340.7 1261.7,362.0 1262.0,362.0 1262.2,362.0 1262.4,348.1 1262.6,357.3 1262.8,350.6 1263.0,337.9 1263.2,357.3 1263.4,345.9 1263.6,353.6 1263.8,345.9 1264.0,350.6 1264.2,353.6 1264.4,353.6 1264.6,357.3 1264.8,350.6 1265.0,345.9 1265.2,344.0 1265.4,353.6 1265.6,353.6 1265.8,353.6 1266.0,362.0 1266.2,345.9 1266.4,345.9 1266.6,348.1 1266.8,357.3 1267.0,357.3 1267.2,353.6 1267.4,350.6 1267.6,335.6 1267.8,342.2 1268.0,362.0 1268.2,357.3 1268.4,339.2 1268.6,362.0 1268.8,339.2 1269.0,345.9 1269.2,350.6 1269.4,350.6 1269.6,357.3 1269.8,362.0 1270.0,368.6 1270.2,342.2 1270.4,357.3 1270.6,348.1 1270.8,348.1 1271.0,348.1 1271.2,348.1 1271.4,345.9 1271.6,357.3 1271.8,353.6 1272.1,348.1 1272.3,353.6 1272.5,353.6 1272.7,344.0 1272.9,344.0 1273.1,353.6 1273.3,342.2 1273.5,345.9 1273.7,362.0 1273.9,350.6 1274.1,348.1 1274.3,357.3 1274.5,342.2 1274.7,350.6 1274.9,380.0 1275.1,345.9 1275.3,362.0 1275.5,344.0 1275.7,362.0 1275.9,350.6 1276.1,339.2 1276.3,345.9 1276.5,348.1 1276.7,350.6 1276.9,357.3 1277.1,350.6 1277.3,357.3 1277.5,362.0 1277.7,350.6 1277.9,353.6 1278.1,353.6 1278.3,345.9 1278.5,357.3 1278.7,353.6 1278.9,344.0 1279.1,368.6 1279.3,357.3 1279.5,345.9 1279.7,348.1 1279.9,350.6 1280.1,357.3 1280.3,362.0 1280.5,362.0 1280.7,350.6 1280.9,353.6 1281.1,357.3 1281.3,344.0 1281.5,348.1 1281.7,368.6 1281.9,336.7 1282.2,353.6 1282.4,345.9 1282.6,353.6 1282.8,353.6 1283.0,353.6 1283.2,362.0 1283.4,353.6 1283.6,353.6 1283.8,362.0 1284.0,362.0 1284.2,345.9 1284.4,362.0 1284.6,342.2 1284.8,357.3 1285.0,362.0 1285.2,353.6 1285.4,353.6 1285.6,350.6 1285.8,353.6 1286.0,350.6 1286.2,353.6 1286.4,362.0 1286.6,353.6 1286.8,368.6 1287.0,353.6 1287.2,350.6 1287.4,348.1 1287.6,348.1 1287.8,357.3 1288.0,353.6 1288.2,362.0 1288.4,337.9 1288.6,348.1 1288.8,340.7 1289.0,368.6 1289.2,348.1 1289.4,362.0 1289.6,357.3 1289.8,350.6 1290.0,362.0 1290.2,353.6 1290.4,368.6 1290.6,345.9 1290.8,350.6 1291.0,357.3 1291.2,345.9 1291.4,353.6 1291.6,350.6 1291.8,350.6 1292.0,380.0 1292.3,362.0 1292.5,357.3 1292.7,348.1 1292.9,353.6 1293.1,339.2 1293.3,342.2 1293.5,348.1 1293.7,357.3 1293.9,353.6 1294.1,357.3 1294.3,353.6 1294.5,353.6 1294.7,357.3 1294.9,362.0 1295.1,348.1 1295.3,357.3 1295.5,353.6 1295.7,368.6 1295.9,357.3 1296.1,350.6 1296.3,357.3 1296.5,357.3 1296.7,342.2 1296.9,345.9 1297.1,350.6 1297.3,348.1 1297.5,348.1 1297.7,350.6 1297.9,348.1 1298.1,350.6 1298.3,340.7 1298.5,348.1 1298.7,357.3 1298.9,357.3 1299.1,348.1 1299.3,348.1 1299.5,348.1 1299.7,353.6 1299.9,345.9 1300.1,353.6 1300.3,350.6 1300.5,345.9 1300.7,380.0 1300.9,357.3 1301.1,357.3 1301.3,350.6 1301.5,350.6 1301.7,345.9 1301.9,353.6 1302.1,368.6 1302.4,344.0 1302.6,380.0 1302.8,350.6 1303.0,368.6 1303.2,348.1 1303.4,348.1 1303.6,353.6 1303.8,342.2 1304.0,348.1 1304.2,368.6 1304.4,357.3 1304.6,353.6 1304.8,353.6 1305.0,362.0 1305.2,350.6 1305.4,353.6 1305.6,348.1 1305.8,344.0 1306.0,368.6 1306.2,350.6 1306.4,348.1 1306.6,368.6 1306.8,362.0 1307.0,350.6 1307.2,345.9 1307.4,350.6 1307.6,353.6 1307.8,340.7 1308.0,350.6 1308.2,362.0 1308.4,342.2 1308.6,350.6 1308.8,342.2 1309.0,357.3 1309.2,353.6 1309.4,340.7 1309.6,342.2 1309.8,362.0 1310.0,357.3 1310.2,357.3 1310.4,357.3 1310.6,357.3 1310.8,350.6 1311.0,342.2 1311.2,348.1 1311.4,350.6 1311.6,344.0 1311.8,339.2 1312.0,357.3 1312.3,362.0 1312.5,350.6 1312.7,348.1 1312.9,362.0 1313.1,357.3 1313.3,344.0 1313.5,350.6 1313.7,353.6 1313.9,353.6 1314.1,353.6 1314.3,357.3 1314.5,350.6 1314.7,357.3 1314.9,357.3 1315.1,353.6 1315.3,362.0 1315.5,368.6 1315.7,353.6 1315.9,362.0 1316.1,362.0 1316.3,357.3 1316.5,348.1 1316.7,345.9 1316.9,368.6 1317.1,350.6 1317.3,353.6 1317.5,342.2 1317.7,353.6 1317.9,353.6 1318.1,353.6 1318.3,350.6 1318.5,357.3 1318.7,344.0 1318.9,344.0 1319.1,353.6 1319.3,353.6 1319.5,357.3 1319.7,357.3 1319.9,353.6 1320.1,362.0 1320.3,368.6 1320.5,362.0 1320.7,353.6 1320.9,350.6 1321.1,362.0 1321.3,353.6 1321.5,350.6 1321.7,357.3 1321.9,353.6 1322.1,357.3 1322.4,362.0 1322.6,357.3 1322.8,362.0 1323.0,350.6 1323.2,344.0 1323.4,357.3 1323.6,357.3 1323.8,380.0 1324.0,348.1 1324.2,357.3 1324.4,368.6 1324.6,350.6 1324.8,353.6 1325.0,357.3 1325.2,357.3 1325.4,353.6 1325.6,350.6 1325.8,357.3 1326.0,348.1 1326.2,345.9 1326.4,353.6 1326.6,353.6 1326.8,345.9 1327.0,357.3 1327.2,368.6 1327.4,353.6 1327.6,357.3 1327.8,357.3 1328.0,357.3 1328.2,353.6 1328.4,357.3 1328.6,362.0 1328.8,353.6 1329.0,348.1 1329.2,353.6 1329.4,362.0 1329.6,344.0 1329.8,368.6 1330.0,362.0 1330.2,357.3 1330.4,353.6 1330.6,350.6 1330.8,353.6 1331.0,362.0 1331.2,368.6 1331.4,353.6 1331.6,353.6 1331.8,368.6 1332.0,348.1 1332.2,380.0 1332.5,350.6 1332.7,357.3 1332.9,353.6 1333.1,353.6 1333.3,350.6 1333.5,353.6 1333.7,350.6 1333.9,342.2" fill="none" stroke="#00ff00" stroke-width="2.0" stroke-linejoin="round"/>
<polyline points="593.3,399.8 593.5,402.2 593.7,405.9 593.9,410.6 594.1,400.3 594.3,403.6 594.5,400.3 594.7,406.7 594.9,396.2 595.1,407.6 595.3,402.2 595.5,404.3 595.7,402.2 595.9,402.9 596.1,402.2 596.3,410.6 596.5,402.2 596.7,406.7 596.9,405.1 597.1,410.6 597.3,405.9 597.5,406.7 597.7,398.1 597.9,405.1 598.1,402.9 598.4,408.5 598.6,407.6 598.8,408.5 599.0,408.5 599.2,402.9 599.4,405.9 599.6,403.6 599.8,406.7 600.0,408.5 600.2,405.1 600.4,407.6 600.6,403.6 600.8,405.1 601.0,407.6 601.2,409.5 601.4,409.5 601.6,405.1 601.8,406.7 602.0,410.6 602.2,405.1 602.4,410.6 602.6,408.5 602.8,408.5 603.0,407.6 603.2,406.7 603.4,400.9 603.6,407.6 603.8,411.7 604.0,412.9 604.2,411.7 604.4,415.7 604.6,411.7 604.8,408.5 605.0,417.2 605.2,415.7 605.4,402.2 605.6,406.7 605.8,408.5 606.0,406.7 606.2,407.6 606.4,411.7 606.6,404.3 606.8,410.6 607.0,404.3 607.2,407.6 607.4,409.5 607.6,402.2 607.8,414.2 608.0,412.9 608.2,414.2 608.5,406.7 608.7,411.7 608.9,406.7 609.1,408.5 609.3,412.9 609.5,411.7 609.7,411.7 609.9,415.7 610.1,408.5 610.3,412.9 610.5,409.5 610.7,410.6 610.9,409.5 611.1,410.6 611.3,408.5 611.5,414.2 611.7,409.5 611.9,414.2 612.1,410.6 612.3,414.2 612.5,406.7 612.7,405.1 612.9,409.5 613.1,409.5 613.3,417.2 613.5,411.7 613.7,406.7 613.9,410.6 614.1,415.7 614.3,408.5 614.5,411.7 614.7,406.7 614.9,407.6 615.1,401.5 615.3,414.2 615.5,406.7 615.7,411.7 615.9,417.2 616.1,419.0 616.3,415.7 616.5,410.6 616.7,411.7 616.9,409.5 617.1,405.1 617.3,414.2 617.5,409.5 617.7,410.6 617.9,408.5 618.1,415.7 618.3,410.6 618.6,411.7 618.8,411.7 619.0,408.5 619.2,411.7 619.4,406.7 619.6,414.2 619.8,405.9 620.0,412.9 620.2,407.6 620.4,415.7 620.6,428.6 620.8,415.7 621.0,411.7 621.2,407.6 621.4,419.0 621.6,409.5 621.8,405.1 622.0,405.9 622.2,419.0 622.4,411.7 622.6,415.7 622.8,411.7 623.0,420.9 623.2,423.1 623.4,412.9 623.6,409.5 623.8,408.5 624.0,417.2 624.2,415.7 624.4,411.7 624.6,407.6 624.8,404.3 625.0,417.2 625.2,425.6 625.4,411.7 625.6,402.9 625.8,411.7 626.0,411.7 626.2,409.5 626.4,419.0 626.6,409.5 626.8,411.7 627.0,412.9 627.2,407.6 627.4,406.7 627.6,410.6 627.8,410.6 628.0,407.6 628.2,414.2 628.4,409.5 628.7,407.6 628.9,412.9 629.1,417.2 629.3,408.5 629.5,409.5 629.7,417.2 629.9,414.2 630.1,408.5 630.3,410.6 630.5,411.7 630.7,410.6 630.9,411.7 631.1,411.7 631.3,411.7 631.5,415.7 631.7,415.7 631.9,420.9 632.1,415.7 632.3,419.0 632.5,414.2 632.7,412.9 632.9,414.2 633.1,409.5 633.3,411.7 633.5,408.5 633.7,411.7 633.9,417.2 634.1,409.5 634.3,408.5 634.5,420.9 634.7,420.9 634.9,415.7 635.1,410.6 635.3,406.7 635.5,412.9 635.7,415.7 635.9,417.2 636.1,409.5 636.3,420.9 636.5,410.6 636.7,409.5 636.9,410.6 637.1,408.5 637.3,408.5 637.5,423.1 637.7,420.9 637.9,411.7 638.1,415.7 638.3,415.7 638.6,411.7 638.8,411.7 639.0,411.7 639.2,408.5 639.4,412.9 639.6,409.5 639.8,420.9 640.0,419.0 640.2,417.2 640.4,415.7 640.6,411.7 640.8,411.7 641.0,414.2 641.2,409.5 641.4,425.6 641.6,409.5 641.8,420.9 642.0,409.5 642.2,414.2 642.4,412.9 642.6,409.5 642.8,412.9 643.0,412.9 643.2,414.2 643.4,411.7 643.6,412.9 643.8,415.7 644.0,419.0 644.2,414.2 644.4,410.6 644.6,406.7 644.8,414.2 645.0,410.6 645.2,410.6 645.4,410.6 645.6,408.5 645.8,415.7 646.0,406.7 646.2,412.9 646.4,417.2 646.6,410.6 646.8,415.7 647.0,423.1 647.2,406.7 647.4,410.6 647.6,417.2 647.8,411.7 648.0,411.7 648.2,414.2 648.4,414.2 648.7,410.6 648.9,412.9 649.1,410.6 649.3,411.7 649.5,411.7 649.7,412.9 649.9,414.2 650.1,410.6 650.3,415.7 650.5,417.2 650.7,409.5 650.9,407.6 651.1,411.7 651.3,414.2 651.5,417.2 651.7,415.7 651.9,407.6 652.1,419.0 652.3,414.2 652.5,417.2 652.7,412.9 652.9,411.7 653.1,415.7 653.3,406.7 653.5,414.2 653.7,415.7 653.9,410.6 654.1,408.5 654.3,410.6 654.5,411.7 654.7,412.9 654.9,411.7 655.1,425.6 655.3,411.7 655.5,411.7 655.7,406.7 655.9,404.3 656.1,412.9 656.3,415.7 656.5,412.9 656.7,419.0 656.9,417.2 657.1,415.7 657.3,409.5 657.5,412.9 657.7,417.2 657.9,419.0 658.1,412.9 658.3,423.1 658.5,420.9 658.8,411.7 659.0,414.2 659.2,408.5 659.4,405.9 659.6,407.6 659.8,405.9 660.0,408.5 660.2,410.6 660.4,409.5 660.6,414.2 660.8,410.6 661.0,415.7 661.2,414.2 661.4,407.6 661.6,417.2 661.8,412.9 662.0,412.9 662.2,417.2 662.4,409.5 662.6,428.6 662.8,408.5 663.0,412.9 663.2,409.5 663.4,414.2 663.6,410.6 663.8,415.7 664.0,412.9 664.2,409.5 664.4,412.9 664.6,420.9 664.8,412.9 665.0,410.6 665.2,417.2 665.4,412.9 665.6,415.7 665.8,423.1 666.0,417.2 666.2,419.0 666.4,412.9 666.6,411.7 666.8,407.6 667.0,414.2 667.2,412.9 667.4,412.9 667.6,409.5 667.8,419.0 668.0,411.7 668.2,410.6 668.4,432.3 668.6,410.6 668.9,411.7 669.1,412.9 669.3,415.7 669.5,415.7 669.7,414.2 669.9,420.9 670.1,414.2 670.3,415.7 670.5,420.9 670.7,412.9 670.9,407.6 671.1,411.7 671.3,410.6 671.5,412.9 671.7,408.5 671.9,419.0 672.1,411.7 672.3,417.2 672.5,411.7 672.7,405.1 672.9,406.7 673.1,415.7 673.3,415.7 673.5,419.0 673.7,417.2 673.9,417.2 674.1,414.2 674.3,415.7 674.5,409.5 674.7,408.5 674.9,414.2 675.1,407.6 675.3,406.7 675.5,410.6 675.7,419.0 675.9,407.6 676.1,408.5 676.3,415.7 676.5,408.5 676.7,407.6 676.9,419.0 677.1,415.7 677.3,414.2 677.5,428.6 677.7,419.0 677.9,423.1 678.1,415.7 678.3,420.9 678.5,408.5 678.7,415.7 679.0,415.7 679.2,415.7 679.4,423.1 679.6,425.6 679.8,411.7 680.0,425.6 680.2,425.6 680.4,410.6 680.6,412.9 680.8,411.7 681.0,419.0 681.2,410.6 681.4,410.6 681.6,410.6 681.8,409.5 682.0,410.6 682.2,415.7 682.4,414.2 682.6,410.6 682.8,423.1 683.0,407.6 683.2,412.9 683.4,425.6 683.6,411.7 683.8,412.9 684.0,419.0 684.2,414.2 684.4,410.6 684.6,419.0 684.8,419.0 685.0,414.2 685.2,415.7 685.4,411.7 685.6,412.9 685.8,411.7 686.0,419.0 686.2,428.6 686.4,411.7 686.6,412.9 686.8,411.7 687.0,408.5 687.2,415.7 687.4,410.6 687.6,415.7 687.8,412.9 688.0,437.0 688.2,412.9 688.4,410.6 688.6,414.2 688.9,417.2 689.1,412.9 689.3,409.5 689.5,408.5 689.7,414.2 689.9,410.6 690.1,415.7 690.3,415.7 690.5,412.9 690.7,415.7 690.9,420.9 691.1,415.7 691.3,412.9 691.5,409.5 691.7,417.2 691.9,408.5 692.1,410.6 692.3,417.2 692.5,417.2 692.7,411.7 692.9,411.7 693.1,409.5 693.3,414.2 693.5,425.6 693.7,417.2 693.9,419.0 694.1,414.2 694.3,406.7 694.5,419.0 694.7,420.9 694.9,415.7 695.1,415.7 695.3,411.7 695.5,411.7 695.7,415.7 695.9,417.2 696.1,411.7 696.3,423.1 696.5,411.7 696.7,414.2 696.9,409.5 697.1,425.6 697.3,419.0 697.5,420.9 697.7,415.7 697.9,412.9 698.1,437.0 698.3,419.0 698.5,410.6 698.7,417.2 699.0,411.7 699.2,415.7 699.4,408.5 699.6,415.7 699.8,417.2 700.0,412.9 700.2,417.2 700.4,408.5 700.6,410.6 700.8,414.2 701.0,415.7 701.2,412.9 701.4,410.6 701.6,412.9 701.8,420.9 702.0,428.6 702.2,423.1 702.4,420.9 702.6,411.7 702.8,417.2 703.0,411.7 703.2,412.9 703.4,425.6 703.6,411.7 703.8,410.6 704.0,415.7 704.2,425.6 704.4,411.7 704.6,415.7 704.8,411.7 705.0,411.7 705.2,410.6 705.4,407.6 705.6,415.7 705.8,412.9 706.0,408.5 706.2,412.9 706.4,414.2 706.6,406.7 706.8,417.2 707.0,411.7 707.2,411.7 707.4,411.7 707.6,411.7 707.8,425.6 708.0,419.0 708.2,411.7 708.4,423.1 708.6,409.5 708.8,419.0 709.1,415.7 709.3,420.9 709.5,417.2 709.7,415.7 709.9,412.9 710.1,412.9 710.3,410.6 710.5,409.5 710.7,410.6 710.9,420.9 711.1,411.7 711.3,432.3 711.5,414.2 711.7,419.0 711.9,409.5 712.1,407.6 712.3,411.7 712.5,419.0 712.7,415.7 712.9,414.2 713.1,410.6 713.3,414.2 713.5,408.5 713.7,410.6 713.9,419.0 714.1,420.9 714.3,408.5 714.5,419.0 714.7,417.2 714.9,412.9 715.1,411.7 715.3,414.2 715.5,411.7 715.7,415.7 715.9,415.7 716.1,419.0 716.3,417.2 716.5,412.9 716.7,415.7 716.9,414.2 717.1,419.0 717.3,409.5 717.5,408.5 717.7,423.1 717.9,423.1 718.1,410.6 718.3,419.0 718.5,425.6 718.7,419.0 718.9,411.7 719.2,414.2 719.4,419.0 719.6,408.5 719.8,420.9 720.0,419.0 720.2,412.9 720.4,411.7 720.6,425.6 720.8,410.6 721.0,410.6 721.2,415.7 721.4,415.7 721.6,407.6 721.8,417.2 722.0,411.7 722.2,414.2 722.4,410.6 722.6,409.5 722.8,406.7 723.0,420.9 723.2,405.1 723.4,419.0 723.6,415.7 723.8,414.2 724.0,410.6 724.2,420.9 724.4,415.7 724.6,420.9 724.8,415.7 725.0,423.1 725.2,423.1 725.4,425.6 725.6,410.6 725.8,425.6 726.0,420.9 726.2,420.9 726.4,411.7 726.6,417.2 726.8,417.2 727.0,409.5 727.2,406.7 727.4,414.2 727.6,417.2 727.8,410.6 728.0,409.5 728.2,408.5 728.4,407.6 728.6,415.7 728.8,412.9 729.1,419.0 729.3,423.1 729.5,409.5 729.7,420.9 729.9,410.6 730.1,420.9 730.3,419.0 730.5,405.9 730.7,417.2 730.9,411.7 731.1,415.7 731.3,415.7 731.5,425.6 731.7,411.7 731.9,410.6 732.1,417.2 732.3,409.5 732.5,417.2 732.7,417.2 732.9,409.5 733.1,423.1 733.3,417.2 733.5,417.2 733.7,417.2 733.9,412.9 734.1,412.9 734.3,415.7 734.5,423.1 734.7,425.6 734.9,419.0 735.1,423.1 735.3,410.6 735.5,425.6 735.7,414.2 735.9,417.2 736.1,425.6 736.3,415.7 736.5,406.7 736.7,414.2 736.9,411.7 737.1,407.6 737.3,410.6 737.5,412.9 737.7,412.9 737.9,420.9 738.1,419.0 738.3,417.2 738.5,419.0 738.7,412.9 738.9,407.6 739.2,408.5 739.4,414.2 739.6,412.9 739.8,414.2 740.0,414.2 740.2,410.6 740.4,409.5 740.6,415.7 740.8,408.5 741.0,415.7 741.2,411.7 741.4,414.2 741.6,428.6 741.8,409.5 742.0,412.9 742.2,415.7 742.4,420.9 742.6,420.9 742.8,415.7 743.0,419.0 743.2,406.7 743.4,411.7 743.6,414.2 743.8,417.2 744.0,412.9 744.2,403.6 744.4,419.0 744.6,414.2 744.8,423.1 745.0,412.9 745.2,423.1 745.4,411.7 745.6,414.2 745.8,409.5 746.0,415.7 746.2,402.9 746.4,415.7 746.6,415.7 746.8,425.6 747.0,408.5 747.2,412.9 747.4,409.5 747.6,419.0 747.8,420.9 748.0,410.6 748.2,414.2 748.4,423.1 748.6,417.2 748.8,412.9 749.0,417.2 749.3,414.2 749.5,414.2 749.7,412.9 749.9,412.9 750.1,415.7 750.3,417.2 750.5,420.9 750.7,414.2 750.9,425.6 751.1,420.9 751.3,414.2 751.5,414.2 751.7,407.6 751.9,407.6 752.1,419.0 752.3,406.7 752.5,417.2 752.7,414.2 752.9,415.7 753.1,415.7 753.3,417.2 753.5,411.7 753.7,412.9 753.9,417.2 754.1,415.7 754.3,409.5 754.5,420.9 754.7,415.7 754.9,417.2 755.1,414.2 755.3,417.2 755.5,412.9 755.7,419.0 755.9,417.2 756.1,408.5 756.3,415.7 756.5,428.6 756.7,414.2 756.9,412.9 757.1,419.0 757.3,410.6 757.5,420.9 757.7,409.5 757.9,407.6 758.1,415.7 758.3,419.0 758.5,417.2 758.7,428.6 758.9,411.7 759.1,409.5 759.4,420.9 759.6,420.9 759.8,411.7 760.0,417.2 760.2,419.0 760.4,423.1 760.6,417.2 760.8,425.6 761.0,411.7 761.2,409.5 761.4,417.2 761.6,417.2 761.8,414.2 762.0,414.2 762.2,415.7 762.4,410.6 762.6,414.2 762.8,419.0 763.0,417.2 763.2,419.0 763.4,415.7 763.6,420.9 763.8,419.0 764.0,406.7 764.2,417.2 764.4,414.2 764.6,420.9 764.8,419.0 765.0,425.6 765.2,425.6 765.4,411.7 765.6,411.7 765.8,411.7 766.0,423.1 766.2,425.6 766.4,417.2 766.6,420.9 766.8,419.0 767.0,411.7 767.2,419.0 767.4,405.1 767.6,415.7 767.8,420.9 768.0,417.2 768.2,414.2 768.4,409.5 768.6,412.9 768.8,412.9 769.0,414.2 769.2,414.2 769.5,415.7 769.7,412.9 769.9,423.1 770.1,414.2 770.3,415.7 770.5,437.0 770.7,420.9 770.9,423.1 771.1,417.2 771.3,410.6 771.5,425.6 771.7,406.7 771.9,420.9 772.1,417.2 772.3,407.6 772.5,428.6 772.7,412.9 772.9,410.6 773.1,411.7 773.3,412.9 773.5,415.7 773.7,419.0 773.9,410.6 774.1,423.1 774.3,417.2 774.5,415.7 774.7,415.7 774.9,425.6 775.1,410.6 775.3,419.0 775.5,420.9 775.7,407.6 775.9,414.2 776.1,423.1 776.3,420.9 776.5,414.2 776.7,414.2 776.9,428.6 777.1,415.7 777.3,415.7 777.5,415.7 777.7,419.0 777.9,419.0 778.1,419.0 778.3,420.9 778.5,414.2 778.7,415.7 778.9,414.2 779.1,425.6 779.4,409.5 779.6,411.7 779.8,419.0 780.0,408.5 780.2,420.9 780.4,412.9 780.6,412.9 780.8,408.5 781.0,419.0 781.2,417.2 781.4,415.7 781.6,425.6 781.8,407.6 782.0,420.9 782.2,419.0 782.4,414.2 782.6,415.7 782.8,423.1 783.0,415.7 783.2,423.1 783.4,412.9 783.6,412.9 783.8,417.2 784.0,419.0 784.2,417.2 784.4,414.2 784.6,410.6 784.8,414.2 785.0,415.7 785.2,415.7 785.4,417.2 785.6,419.0 785.8,419.0 786.0,408.5 786.2,415.7 786.4,415.7 786.6,412.9 786.8,420.9 787.0,417.2 787.2,414.2 787.4,428.6 787.6,414.2 787.8,417.2 788.0,414.2 788.2,420.9 788.4,415.7 788.6,419.0 788.8,415.7 789.0,420.9 789.2,423.1 789.5,409.5 789.7,419.0 789.9,411.7 790.1,415.7 790.3,423.1 790.5,419.0 790.7,409.5 790.9,425.6 791.1,417.2 791.3,420.9 791.5,432.3 791.7,409.5 791.9,425.6 792.1,420.9 792.3,428.6 792.5,420.9 792.7,408.5 792.9,425.6 793.1,417.2 793.3,455.0 793.5,412.9 793.7,412.9 793.9,408.5 794.1,412.9 794.3,414.2 794.5,414.2 794.7,408.5 794.9,414.2 795.1,417.2 795.3,419.0 795.5,419.0 795.7,415.7 795.9,420.9 796.1,420.9 796.3,425.6 796.5,414.2 796.7,414.2 796.9,425.6 797.1,423.1 797.3,428.6 797.5,423.1 797.7,423.1 797.9,408.5 798.1,425.6 798.3,411.7 798.5,414.2 798.7,415.7 798.9,417.2 799.1,423.1 799.3,415.7 799.6,415.7 799.8,419.0 800.0,425.6 800.2,420.9 800.4,419.0 800.6,417.2 800.8,419.0 801.0,423.1 801.2,414.2 801.4,423.1 801.6,432.3 801.8,420.9 802.0,414.2 802.2,420.9 802.4,415.7 802.6,420.9 802.8,414.2 803.0,406.7 803.2,410.6 803.4,417.2 803.6,410.6 803.8,417.2 804.0,415.7 804.2,420.9 804.4,419.0 804.6,417.2 804.8,425.6 805.0,414.2 805.2,417.2 805.4,420.9 805.6,419.0 805.8,410.6 806.0,423.1 806.2,419.0 806.4,410.6 806.6,415.7 806.8,415.7 807.0,417.2 807.2,412.9 807.4,410.6 807.6,417.2 807.8,415.7 808.0,412.9 808.2,423.1 808.4,428.6 808.6,417.2 808.8,423.1 809.0,412.9 809.2,423.1 809.4,415.7 809.7,414.2 809.9,428.6 810.1,414.2 810.3,410.6 810.5,419.0 810.7,420.9 810.9,419.0 811.1,415.7 811.3,423.1 811.5,412.9 811.7,423.1 811.9,414.2 812.1,414.2 812.3,417.2 812.5,412.9 812.7,415.7 812.9,411.7 813.1,419.0 813.3,420.9 813.5,409.5 813.7,417.2 813.9,417.2 814.1,409.5 814.3,419.0 814.5,411.7 814.7,410.6 814.9,417.2 815.1,423.1 815.3,414.2 815.5,437.0 815.7,411.7 815.9,410.6 816.1,420.9 816.3,415.7 816.5,415.7 816.7,417.2 816.9,419.0 817.1,417.2 817.3,419.0 817.5,415.7 817.7,423.1 817.9,417.2 818.1,420.9 818.3,420.9 818.5,414.2 818.7,419.0 818.9,420.9 819.1,410.6 819.3,432.3 819.6,410.6 819.8,420.9 820.0,417.2 820.2,417.2 820.4,409.5 820.6,411.7 820.8,405.1 821.0,408.5 821.2,423.1 821.4,411.7 821.6,411.7 821.8,417.2 822.0,412.9 822.2,414.2 822.4,412.9 822.6,417.2 822.8,412.9 823.0,408.5 823.2,408.5 823.4,411.7 823.6,402.9 823.8,405.1 824.0,401.5 824.2,405.1 824.4,393.3 824.6,393.3 824.8,386.8 825.0,384.6 825.2,384.0 825.4,380.1 825.6,382.5 825.8,379.3 826.0,376.3 826.2,377.4 826.4,378.5 826.6,379.1 826.8,380.8 827.0,379.6 827.2,380.8 827.4,384.2 827.6,389.9 827.8,387.0 828.0,393.7 828.2,395.8 828.4,400.3 828.6,402.2 828.8,403.6 829.0,406.7 829.2,405.1 829.4,401.5 829.7,399.8 829.9,407.6 830.1,402.9 830.3,398.7 830.5,394.1 830.7,379.1 830.9,361.1 831.1,344.3 831.3,328.3 831.5,314.2 831.7,302.9 831.9,294.3 832.1,288.1 832.3,284.2 832.5,282.8 832.7,284.1 832.9,288.0 833.1,294.5 833.3,302.9 833.5,314.9 833.7,328.1 833.9,344.3 834.1,360.4 834.3,380.8 834.5,392.9 834.7,393.7 834.9,402.2 835.1,405.1 835.3,405.1 835.5,404.3 835.7,402.2 835.9,407.6 836.1,407.6 836.3,406.7 836.5,410.6 836.7,415.7 836.9,414.2 837.1,410.6 837.3,411.7 837.5,411.7 837.7,412.9 837.9,415.7 838.1,409.5 838.3,415.7 838.5,417.2 838.7,419.0 838.9,423.1 839.1,415.7 839.3,417.2 839.5,423.1 839.8,428.6 840.0,414.2 840.2,412.9 840.4,415.7 840.6,415.7 840.8,415.7 841.0,415.7 841.2,423.1 841.4,412.9 841.6,417.2 841.8,423.1 842.0,411.7 842.2,419.0 842.4,420.9 842.6,414.2 842.8,412.9 843.0,425.6 843.2,420.9 843.4,432.3 843.6,420.9 843.8,417.2 844.0,414.2 844.2,425.6 844.4,420.9 844.6,420.9 844.8,406.7 845.0,408.5 845.2,415.7 845.4,412.9 845.6,412.9 845.8,419.0 846.0,409.5 846.2,419.0 846.4,417.2 846.6,420.9 846.8,412.9 847.0,407.6 847.2,419.0 847.4,415.7 847.6,425.6 847.8,417.2 848.0,408.5 848.2,412.9 848.4,417.2 848.6,415.7 848.8,415.7 849.0,423.1 849.2,415.7 849.4,415.7 849.6,423.1 849.9,417.2 850.1,415.7 850.3,414.2 850.5,417.2 850.7,425.6 850.9,425.6 851.1,415.7 851.3,417.2 851.5,420.9 851.7,417.2 851.9,408.5 852.1,425.6 852.3,423.1 852.5,425.6 852.7,428.6 852.9,417.2 853.1,423.1 853.3,415.7 853.5,412.9 853.7,425.6 853.9,419.0 854.1,409.5 854.3,428.6 854.5,415.7 854.7,428.6 854.9,419.0 855.1,414.2 855.3,423.1 855.5,414.2 855.7,423.1 855.9,425.6 856.1,411.7 856.3,420.9 856.5,415.7 856.7,420.9 856.9,414.2 857.1,425.6 857.3,423.1 857.5,415.7 857.7,420.9 857.9,419.0 858.1,417.2 858.3,415.7 858.5,425.6 858.7,428.6 858.9,425.6 859.1,423.1 859.3,419.0 859.5,425.6 859.7,414.2 860.0,428.6 860.2,417.2 860.4,419.0 860.6,428.6 860.8,414.2 861.0,415.7 861.2,423.1 861.4,423.1 861.6,415.7 861.8,425.6 862.0,419.0 862.2,420.9 862.4,425.6 862.6,420.9 862.8,420.9 863.0,415.7 863.2,412.9 863.4,415.7 863.6,407.6 863.8,419.0 864.0,428.6 864.2,419.0 864.4,428.6 864.6,414.2 864.8,428.6 865.0,437.0 865.2,428.6 865.4,423.1 865.6,425.6 865.8,420.9 866.0,437.0 866.2,414.2 866.4,419.0 866.6,425.6 866.8,425.6 867.0,428.6 867.2,425.6 867.4,420.9 867.6,425.6 867.8,425.6 868.0,419.0 868.2,428.6 868.4,423.1 868.6,420.9 868.8,417.2 869.0,415.7 869.2,419.0 869.4,419.0 869.6,428.6 869.9,419.0 870.1,423.1 870.3,415.7 870.5,432.3 870.7,425.6 870.9,412.9 871.1,417.2 871.3,417.2 871.5,419.0 871.7,412.9 871.9,432.3 872.1,409.5 872.3,412.9 872.5,414.2 872.7,420.9 872.9,425.6 873.1,419.0 873.3,409.5 873.5,419.0 873.7,423.1 873.9,417.2 874.1,415.7 874.3,425.6 874.5,417.2 874.7,412.9 874.9,425.6 875.1,420.9 875.3,437.0 875.5,420.9 875.7,417.2 875.9,425.6 876.1,420.9 876.3,419.0 876.5,425.6 876.7,417.2 876.9,419.0 877.1,420.9 877.3,415.7 877.5,419.0 877.7,425.6 877.9,419.0 878.1,423.1 878.3,419.0 878.5,425.6 878.7,423.1 878.9,417.2 879.1,414.2 879.3,432.3 879.5,415.7 879.7,417.2 880.0,414.2 880.2,420.9 880.4,417.2 880.6,412.9 880.8,419.0 881.0,455.0 881.2,411.7 881.4,425.6 881.6,417.2 881.8,415.7 882.0,420.9 882.2,423.1 882.4,420.9 882.6,419.0 882.8,420.9 883.0,414.2 883.2,415.7 883.4,414.2 883.6,420.9 883.8,417.2 884.0,443.6 884.2,410.6 884.4,432.3 884.6,428.6 884.8,423.1 885.0,423.1 885.2,420.9 885.4,425.6 885.6,423.1 885.8,415.7 886.0,423.1 886.2,423.1 886.4,417.2 886.6,420.9 886.8,417.2 887.0,423.1 887.2,414.2 887.4,423.1 887.6,417.2 887.8,417.2 888.0,428.6 888.2,420.9 888.4,417.2 888.6,423.1 888.8,420.9 889.0,419.0 889.2,419.0 889.4,415.7 889.6,414.2 889.8,420.9 890.1,428.6 890.3,417.2 890.5,414.2 890.7,423.1 890.9,419.0 891.1,414.2 891.3,414.2 891.5,415.7 891.7,412.9 891.9,428.6 892.1,409.5 892.3,425.6 892.5,417.2 892.7,420.9 892.9,415.7 893.1,415.7 893.3,420.9 893.5,420.9 893.7,415.7 893.9,412.9 894.1,428.6 894.3,419.0 894.5,419.0 894.7,423.1 894.9,417.2 895.1,428.6 895.3,415.7 895.5,425.6 895.7,419.0 895.9,425.6 896.1,425.6 896.3,428.6 896.5,425.6 896.7,415.7 896.9,412.9 897.1,419.0 897.3,419.0 897.5,419.0 897.7,410.6 897.9,412.9 898.1,425.6 898.3,432.3 898.5,419.0 898.7,428.6 898.9,423.1 899.1,417.2 899.3,420.9 899.5,415.7 899.7,420.9 899.9,412.9 900.2,419.0 900.4,437.0 900.6,414.2 900.8,428.6 901.0,412.9 901.2,432.3 901.4,415.7 901.6,415.7 901.8,419.0 902.0,415.7 902.2,417.2 902.4,412.9 902.6,455.0 902.8,420.9 903.0,420.9 903.2,423.1 903.4,415.7 903.6,423.1 903.8,423.1 904.0,420.9 904.2,412.9 904.4,428.6 904.6,419.0 904.8,419.0 905.0,420.9 905.2,428.6 905.4,417.2 905.6,420.9 905.8,420.9 906.0,425.6 906.2,420.9 906.4,419.0 906.6,428.6 906.8,423.1 907.0,419.0 907.2,425.6 907.4,408.5 907.6,419.0 907.8,428.6 908.0,420.9 908.2,419.0 908.4,420.9 908.6,428.6 908.8,428.6 909.0,423.1 909.2,414.2 909.4,419.0 909.6,425.6 909.8,419.0 910.1,425.6 910.3,425.6 910.5,432.3 910.7,425.6 910.9,414.2 911.1,425.6 911.3,428.6 911.5,428.6 911.7,423.1 911.9,419.0 912.1,415.7 912.3,414.2 912.5,417.2 912.7,425.6 912.9,428.6 913.1,419.0 913.3,437.0 913.5,437.0 913.7,437.0 913.9,419.0 914.1,425.6 914.3,412.9 914.5,428.6 914.7,411.7 914.9,412.9 915.1,420.9 915.3,419.0 915.5,425.6 915.7,414.2 915.9,423.1 916.1,423.1 916.3,420.9 916.5,419.0 916.7,425.6 916.9,423.1 917.1,414.2 917.3,415.7 917.5,414.2 917.7,425.6 917.9,420.9 918.1,428.6 918.3,423.1 918.5,414.2 918.7,412.9 918.9,423.1 919.1,420.9 919.3,425.6 919.5,419.0 919.7,425.6 919.9,415.7 920.2,425.6 920.4,428.6 920.6,428.6 920.8,425.6 921.0,412.9 921.2,420.9 921.4,425.6 921.6,425.6 921.8,425.6 922.0,415.7 922.2,412.9 922.4,420.9 922.6,420.9 922.8,425.6 923.0,420.9 923.2,432.3 923.4,423.1 923.6,423.1 923.8,415.7 924.0,419.0 924.2,423.1 924.4,419.0 924.6,417.2 924.8,423.1 925.0,428.6 925.2,423.1 925.4,417.2 925.6,428.6 925.8,420.9 926.0,425.6 926.2,415.7 926.4,423.1 926.6,420.9 926.8,420.9 927.0,419.0 927.2,425.6 927.4,428.6 927.6,432.3 927.8,412.9 928.0,419.0 928.2,419.0 928.4,411.7 928.6,420.9 928.8,415.7 929.0,407.6 929.2,432.3 929.4,408.5 929.6,423.1 929.8,415.7 930.0,420.9 930.3,425.6 930.5,419.0 930.7,423.1 930.9,420.9 931.1,428.6 931.3,420.9 931.5,419.0 931.7,423.1 931.9,414.2 932.1,428.6 932.3,425.6 932.5,420.9 932.7,423.1 932.9,428.6 933.1,420.9 933.3,423.1 933.5,425.6 933.7,425.6 933.9,437.0 934.1,425.6 934.3,428.6 934.5,411.7 934.7,415.7 934.9,425.6 935.1,415.7 935.3,415.7 935.5,420.9 935.7,414.2 935.9,414.2 936.1,423.1 936.3,417.2 936.5,419.0 936.7,420.9 936.9,428.6 937.1,420.9 937.3,423.1 937.5,420.9 937.7,425.6 937.9,414.2 938.1,420.9 938.3,414.2 938.5,420.9 938.7,409.5 938.9,423.1 939.1,432.3 939.3,428.6 939.5,417.2 939.7,419.0 939.9,412.9 940.1,432.3 940.4,423.1 940.6,428.6 940.8,417.2 941.0,415.7 941.2,414.2 941.4,420.9 941.6,419.0 941.8,425.6 942.0,419.0 942.2,425.6 942.4,419.0 942.6,420.9 942.8,420.9 943.0,420.9 943.2,423.1 943.4,423.1 943.6,428.6 943.8,415.7 944.0,423.1 944.2,415.7 944.4,423.1 944.6,428.6 944.8,425.6 945.0,409.5 945.2,425.6 945.4,419.0 945.6,417.2 945.8,425.6 946.0,414.2 946.2,417.2 946.4,423.1 946.6,420.9 946.8,417.2 947.0,432.3 947.2,428.6 947.4,428.6 947.6,428.6 947.8,432.3 948.0,420.9 948.2,432.3 948.4,432.3 948.6,432.3 948.8,415.7 949.0,425.6 949.2,425.6 949.4,420.9 949.6,423.1 949.8,410.6 950.0,414.2 950.3,420.9 950.5,419.0 950.7,417.2 950.9,428.6 951.1,419.0 951.3,425.6 951.5,428.6 951.7,425.6 951.9,423.1 952.1,423.1 952.3,420.9 952.5,420.9 952.7,425.6 952.9,415.7 953.1,428.6 953.3,419.0 953.5,420.9 953.7,437.0 953.9,423.1 954.1,428.6 954.3,423.1 954.5,417.2 954.7,419.0 954.9,420.9 955.1,428.6 955.3,423.1 955.5,420.9 955.7,419.0 955.9,420.9 956.1,443.6 956.3,414.2 956.5,417.2 956.7,419.0 956.9,428.6 957.1,428.6 957.3,428.6 957.5,420.9 957.7,428.6 957.9,417.2 958.1,412.9 958.3,437.0 958.5,425.6 958.7,414.2 958.9,425.6 959.1,412.9 959.3,412.9 959.5,423.1 959.7,409.5 959.9,420.9 960.1,417.2 960.4,419.0 960.6,415.7 960.8,417.2 961.0,419.0 961.2,423.1 961.4,423.1 961.6,432.3 961.8,411.7 962.0,417.2 962.2,432.3 962.4,432.3 962.6,423.1 962.8,411.7 963.0,417.2 963.2,417.2 963.4,425.6 963.6,423.1 963.8,428.6 964.0,420.9 964.2,412.9 964.4,425.6 964.6,428.6 964.8,419.0 965.0,419.0 965.2,423.1 965.4,432.3 965.6,419.0 965.8,417.2 966.0,415.7 966.2,419.0 966.4,423.1 966.6,425.6 966.8,419.0 967.0,423.1 967.2,428.6 967.4,425.6 967.6,423.1 967.8,417.2 968.0,423.1 968.2,423.1 968.4,417.2 968.6,419.0 968.8,428.6 969.0,425.6 969.2,419.0 969.4,432.3 969.6,412.9 969.8,419.0 970.0,419.0 970.2,419.0 970.5,414.2 970.7,411.7 970.9,423.1 971.1,414.2 971.3,423.1 971.5,419.0 971.7,425.6 971.9,455.0 972.1,419.0 972.3,420.9 972.5,420.9 972.7,425.6 972.9,420.9 973.1,428.6 973.3,417.2 973.5,419.0 973.7,432.3 973.9,415.7 974.1,417.2 974.3,412.9 974.5,414.2 974.7,415.7 974.9,423.1 975.1,417.2 975.3,437.0 975.5,412.9 975.7,414.2 975.9,423.1 976.1,428.6 976.3,420.9 976.5,428.6 976.7,417.2 976.9,417.2 977.1,425.6 977.3,425.6 977.5,423.1 977.7,425.6 977.9,423.1 978.1,420.9 978.3,420.9 978.5,423.1 978.7,414.2 978.9,423.1 979.1,419.0 979.3,408.5 979.5,419.0 979.7,423.1 979.9,425.6 980.1,419.0 980.3,415.7 980.6,419.0 980.8,425.6 981.0,428.6 981.2,419.0 981.4,423.1 981.6,411.7 981.8,420.9 982.0,425.6 982.2,420.9 982.4,428.6 982.6,425.6 982.8,420.9 983.0,412.9 983.2,412.9 983.4,428.6 983.6,425.6 983.8,415.7 984.0,425.6 984.2,437.0 984.4,420.9 984.6,417.2 984.8,425.6 985.0,410.6 985.2,412.9 985.4,437.0 985.6,423.1 985.8,417.2 986.0,420.9 986.2,425.6 986.4,425.6 986.6,410.6 986.8,420.9 987.0,437.0 987.2,425.6 987.4,425.6 987.6,423.1 987.8,411.7 988.0,428.6 988.2,423.1 988.4,423.1 988.6,437.0 988.8,432.3 989.0,415.7 989.2,428.6 989.4,443.6 989.6,412.9 989.8,425.6 990.0,419.0 990.2,420.9 990.4,415.7 990.7,423.1 990.9,423.1 991.1,414.2 991.3,419.0 991.5,425.6 991.7,432.3 991.9,414.2 992.1,425.6 992.3,423.1 992.5,432.3 992.7,419.0 992.9,425.6 993.1,417.2 993.3,417.2 993.5,428.6 993.7,414.2 993.9,428.6 994.1,425.6 994.3,428.6 994.5,411.7 994.7,437.0 994.9,425.6 995.1,415.7 995.3,412.9 995.5,437.0 995.7,414.2 995.9,417.2 996.1,419.0 996.3,428.6 996.5,443.6 996.7,443.6 996.9,419.0 997.1,425.6 997.3,425.6 997.5,410.6 997.7,419.0 997.9,417.2 998.1,415.7 998.3,425.6 998.5,425.6 998.7,423.1 998.9,423.1 999.1,423.1 999.3,425.6 999.5,419.0 999.7,423.1 999.9,419.0 1000.1,412.9 1000.3,425.6 1000.6,415.7 1000.8,420.9 1001.0,411.7 1001.2,419.0 1001.4,412.9 1001.6,417.2 1001.8,417.2 1002.0,415.7 1002.2,423.1 1002.4,420.9 1002.6,415.7 1002.8,420.9 1003.0,420.9 1003.2,411.7 1003.4,425.6 1003.6,419.0 1003.8,414.2 1004.0,414.2 1004.2,432.3 1004.4,412.9 1004.6,415.7 1004.8,425.6 1005.0,420.9 1005.2,420.9 1005.4,408.5 1005.6,425.6 1005.8,417.2 1006.0,425.6 1006.2,437.0 1006.4,419.0 1006.6,415.7 1006.8,419.0 1007.0,420.9 1007.2,417.2 1007.4,443.6 1007.6,420.9 1007.8,423.1 1008.0,428.6 1008.2,423.1 1008.4,415.7 1008.6,432.3 1008.8,428.6 1009.0,419.0 1009.2,425.6 1009.4,425.6 1009.6,432.3 1009.8,423.1 1010.0,412.9 1010.2,423.1 1010.4,420.9 1010.7,423.1 1010.9,415.7 1011.1,420.9 1011.3,419.0 1011.5,417.2 1011.7,409.5 1011.9,420.9 1012.1,420.9 1012.3,425.6 1012.5,419.0 1012.7,423.1 1012.9,423.1 1013.1,412.9 1013.3,414.2 1013.5,417.2 1013.7,423.1 1013.9,419.0 1014.1,412.9 1014.3,417.2 1014.5,415.7 1014.7,420.9 1014.9,420.9 1015.1,414.2 1015.3,423.1 1015.5,419.0 1015.7,425.6 1015.9,417.2 1016.1,425.6 1016.3,432.3 1016.5,417.2 1016.7,428.6 1016.9,420.9 1017.1,428.6 1017.3,425.6 1017.5,425.6 1017.7,419.0 1017.9,417.2 1018.1,420.9 1018.3,419.0 1018.5,423.1 1018.7,423.1 1018.9,419.0 1019.1,423.1 1019.3,417.2 1019.5,432.3 1019.7,417.2 1019.9,425.6 1020.1,419.0 1020.3,428.6 1020.5,417.2 1020.8,425.6 1021.0,414.2 1021.2,417.2 1021.4,419.0 1021.6,415.7 1021.8,428.6 1022.0,428.6 1022.2,425.6 1022.4,423.1 1022.6,428.6 1022.8,419.0 1023.0,419.0 1023.2,420.9 1023.4,417.2 1023.6,417.2 1023.8,437.0 1024.0,415.7 1024.2,425.6 1024.4,420.9 1024.6,425.6 1024.8,432.3 1025.0,419.0 1025.2,417.2 1025.4,423.1 1025.6,419.0 1025.8,419.0 1026.0,425.6 1026.2,428.6 1026.4,419.0 1026.6,437.0 1026.8,415.7 1027.0,415.7 1027.2,425.6 1027.4,423.1 1027.6,423.1 1027.8,419.0 1028.0,415.7 1028.2,414.2 1028.4,425.6 1028.6,419.0 1028.8,415.7 1029.0,437.0 1029.2,417.2 1029.4,419.0 1029.6,423.1 1029.8,414.2 1030.0,437.0 1030.2,432.3 1030.4,432.3 1030.6,419.0 1030.9,411.7 1031.1,437.0 1031.3,425.6 1031.5,420.9 1031.7,411.7 1031.9,423.1 1032.1,419.0 1032.3,411.7 1032.5,419.0 1032.7,432.3 1032.9,417.2 1033.1,423.1 1033.3,415.7 1033.5,417.2 1033.7,417.2 1033.9,409.5 1034.1,415.7 1034.3,425.6 1034.5,425.6 1034.7,420.9 1034.9,414.2 1035.1,417.2 1035.3,428.6 1035.5,414.2 1035.7,432.3 1035.9,423.1 1036.1,419.0 1036.3,420.9 1036.5,420.9 1036.7,420.9 1036.9,419.0 1037.1,420.9 1037.3,420.9 1037.5,419.0 1037.7,420.9 1037.9,428.6 1038.1,419.0 1038.3,425.6 1038.5,428.6 1038.7,420.9 1038.9,417.2 1039.1,419.0 1039.3,425.6 1039.5,419.0 1039.7,417.2 1039.9,420.9 1040.1,425.6 1040.3,411.7 1040.5,432.3 1040.8,415.7 1041.0,425.6 1041.2,425.6 1041.4,423.1 1041.6,420.9 1041.8,432.3 1042.0,428.6 1042.2,428.6 1042.4,432.3 1042.6,425.6 1042.8,420.9 1043.0,419.0 1043.2,428.6 1043.4,425.6 1043.6,425.6 1043.8,419.0 1044.0,432.3 1044.2,423.1 1044.4,419.0 1044.6,423.1 1044.8,412.9 1045.0,419.0 1045.2,414.2 1045.4,423.1 1045.6,437.0 1045.8,420.9 1046.0,432.3 1046.2,419.0 1046.4,425.6 1046.6,420.9 1046.8,419.0 1047.0,423.1 1047.2,409.5 1047.4,415.7 1047.6,415.7 1047.8,437.0 1048.0,423.1 1048.2,423.1 1048.4,423.1 1048.6,419.0 1048.8,419.0 1049.0,419.0 1049.2,415.7 1049.4,420.9 1049.6,425.6 1049.8,419.0 1050.0,419.0 1050.2,415.7 1050.4,423.1 1050.6,417.2 1050.9,419.0 1051.1,414.2 1051.3,437.0 1051.5,425.6 1051.7,437.0 1051.9,419.0 1052.1,423.1 1052.3,420.9 1052.5,425.6 1052.7,423.1 1052.9,423.1 1053.1,432.3 1053.3,432.3 1053.5,419.0 1053.7,428.6 1053.9,428.6 1054.1,419.0 1054.3,423.1 1054.5,423.1 1054.7,415.7 1054.9,419.0 1055.1,420.9 1055.3,419.0 1055.5,412.9 1055.7,443.6 1055.9,410.6 1056.1,411.7 1056.3,423.1 1056.5,415.7 1056.7,419.0 1056.9,417.2 1057.1,420.9 1057.3,419.0 1057.5,428.6 1057.7,420.9 1057.9,423.1 1058.1,417.2 1058.3,428.6 1058.5,411.7 1058.7,428.6 1058.9,420.9 1059.1,417.2 1059.3,423.1 1059.5,420.9 1059.7,428.6 1059.9,415.7 1060.1,417.2 1060.3,425.6 1060.5,425.6 1060.7,428.6 1061.0,428.6 1061.2,412.9 1061.4,417.2 1061.6,417.2 1061.8,419.0 1062.0,425.6 1062.2,423.1 1062.4,423.1 1062.6,420.9 1062.8,420.9 1063.0,409.5 1063.2,415.7 1063.4,420.9 1063.6,423.1 1063.8,425.6 1064.0,417.2 1064.2,414.2 1064.4,423.1 1064.6,417.2 1064.8,425.6 1065.0,428.6 1065.2,419.0 1065.4,410.6 1065.6,425.6 1065.8,419.0 1066.0,432.3 1066.2,415.7 1066.4,428.6 1066.6,423.1 1066.8,411.7 1067.0,411.7 1067.2,425.6 1067.4,423.1 1067.6,420.9 1067.8,417.2 1068.0,423.1 1068.2,428.6 1068.4,423.1 1068.6,423.1 1068.8,420.9 1069.0,423.1 1069.2,415.7 1069.4,415.7 1069.6,432.3 1069.8,411.7 1070.0,420.9 1070.2,419.0 1070.4,412.9 1070.6,425.6 1070.8,409.5 1071.1,428.6 1071.3,437.0 1071.5,409.5 1071.7,414.2 1071.9,417.2 1072.1,415.7 1072.3,417.2 1072.5,423.1 1072.7,414.2 1072.9,423.1 1073.1,423.1 1073.3,410.6 1073.5,420.9 1073.7,419.0 1073.9,420.9 1074.1,425.6 1074.3,420.9 1074.5,423.1 1074.7,412.9 1074.9,414.2 1075.1,428.6 1075.3,419.0 1075.5,423.1 1075.7,419.0 1075.9,432.3 1076.1,423.1 1076.3,425.6 1076.5,423.1 1076.7,417.2 1076.9,417.2 1077.1,428.6 1077.3,423.1 1077.5,420.9 1077.7,428.6 1077.9,432.3 1078.1,419.0 1078.3,415.7 1078.5,419.0 1078.7,423.1 1078.9,419.0 1079.1,425.6 1079.3,425.6 1079.5,419.0 1079.7,420.9 1079.9,415.7 1080.1,415.7 1080.3,419.0 1080.5,411.7 1080.7,410.6 1080.9,417.2 1081.2,417.2 1081.4,437.0 1081.6,425.6 1081.8,417.2 1082.0,417.2 1082.2,423.1 1082.4,414.2 1082.6,417.2 1082.8,415.7 1083.0,423.1 1083.2,428.6 1083.4,414.2 1083.6,415.7 1083.8,420.9 1084.0,420.9 1084.2,419.0 1084.4,415.7 1084.6,419.0 1084.8,428.6 1085.0,425.6 1085.2,417.2 1085.4,412.9 1085.6,423.1 1085.8,428.6 1086.0,412.9 1086.2,425.6 1086.4,420.9 1086.6,423.1 1086.8,420.9 1087.0,423.1 1087.2,415.7 1087.4,420.9 1087.6,425.6 1087.8,411.7 1088.0,428.6 1088.2,423.1 1088.4,415.7 1088.6,415.7 1088.8,419.0 1089.0,419.0 1089.2,425.6 1089.4,415.7 1089.6,419.0 1089.8,419.0 1090.0,419.0 1090.2,419.0 1090.4,432.3 1090.6,420.9 1090.8,419.0 1091.1,409.5 1091.3,420.9 1091.5,417.2 1091.7,415.7 1091.9,423.1 1092.1,420.9 1092.3,420.9 1092.5,420.9 1092.7,423.1 1092.9,420.9 1093.1,420.9 1093.3,417.2 1093.5,417.2 1093.7,420.9 1093.9,419.0 1094.1,420.9 1094.3,428.6 1094.5,428.6 1094.7,420.9 1094.9,423.1 1095.1,410.6 1095.3,428.6 1095.5,414.2 1095.7,414.2 1095.9,417.2 1096.1,415.7 1096.3,414.2 1096.5,417.2 1096.7,415.7 1096.9,415.7 1097.1,423.1 1097.3,417.2 1097.5,432.3 1097.7,425.6 1097.9,415.7 1098.1,417.2 1098.3,425.6 1098.5,417.2 1098.7,419.0 1098.9,414.2 1099.1,420.9 1099.3,420.9 1099.5,420.9 1099.7,415.7 1099.9,420.9 1100.1,428.6 1100.3,419.0 1100.5,417.2 1100.7,420.9 1100.9,414.2 1101.2,420.9 1101.4,428.6 1101.6,417.2 1101.8,417.2 1102.0,425.6 1102.2,423.1 1102.4,420.9 1102.6,425.6 1102.8,417.2 1103.0,419.0 1103.2,420.9 1103.4,414.2 1103.6,425.6 1103.8,417.2 1104.0,412.9 1104.2,419.0 1104.4,432.3 1104.6,419.0 1104.8,428.6 1105.0,428.6 1105.2,414.2 1105.4,425.6 1105.6,415.7 1105.8,414.2 1106.0,414.2 1106.2,417.2 1106.4,423.1 1106.6,420.9 1106.8,420.9 1107.0,419.0 1107.2,432.3 1107.4,428.6 1107.6,437.0 1107.8,411.7 1108.0,425.6 1108.2,423.1 1108.4,420.9 1108.6,423.1 1108.8,423.1 1109.0,410.6 1109.2,414.2 1109.4,414.2 1109.6,414.2 1109.8,423.1 1110.0,412.9 1110.2,423.1 1110.4,423.1 1110.6,419.0 1110.8,415.7 1111.0,414.2 1111.3,419.0 1111.5,420.9 1111.7,420.9 1111.9,428.6 1112.1,415.7 1112.3,415.7 1112.5,428.6 1112.7,419.0 1112.9,420.9 1113.1,415.7 1113.3,419.0 1113.5,425.6 1113.7,414.2 1113.9,423.1 1114.1,415.7 1114.3,417.2 1114.5,425.6 1114.7,423.1 1114.9,423.1 1115.1,414.2 1115.3,415.7 1115.5,412.9 1115.7,417.2 1115.9,415.7 1116.1,420.9 1116.3,409.5 1116.5,419.0 1116.7,414.2 1116.9,414.2 1117.1,410.6 1117.3,415.7 1117.5,414.2 1117.7,425.6 1117.9,419.0 1118.1,407.6 1118.3,409.5 1118.5,412.9 1118.7,414.2 1118.9,415.7 1119.1,414.2 1119.3,420.9 1119.5,420.9 1119.7,412.9 1119.9,409.5 1120.1,406.7 1120.3,404.3 1120.5,415.7 1120.7,411.7 1120.9,405.1 1121.1,414.2 1121.4,408.5 1121.6,411.7 1121.8,409.5 1122.0,417.2 1122.2,411.7 1122.4,412.9 1122.6,414.2 1122.8,415.7 1123.0,408.5 1123.2,406.7 1123.4,423.1 1123.6,417.2 1123.8,407.6 1124.0,417.2 1124.2,420.9 1124.4,417.2 1124.6,410.6 1124.8,419.0 1125.0,412.9 1125.2,417.2 1125.4,408.5 1125.6,409.5 1125.8,409.5 1126.0,406.7 1126.2,414.2 1126.4,412.9 1126.6,409.5 1126.8,412.9 1127.0,410.6 1127.2,410.6 1127.4,404.3 1127.6,411.7 1127.8,406.7 1128.0,408.5 1128.2,396.2 1128.4,408.5 1128.6,407.6 1128.8,405.9 1129.0,398.1 1129.2,393.7 1129.4,392.2 1129.6,394.9 1129.8,388.1 1130.0,386.5 1130.2,384.8 1130.4,379.4 1130.6,375.0 1130.8,372.8 1131.0,366.9 1131.3,363.6 1131.5,360.2 1131.7,356.5 1131.9,354.1 1132.1,350.6 1132.3,348.4 1132.5,345.1 1132.7,342.1 1132.9,341.6 1133.1,339.9 1133.3,337.7 1133.5,336.3 1133.7,334.8 1133.9,334.2 1134.1,332.3 1134.3,332.2 1134.5,332.8 1134.7,332.4 1134.9,332.2 1135.1,332.5 1135.3,332.9 1135.5,333.6 1135.7,335.1 1135.9,337.0 1136.1,338.0 1136.3,339.9 1136.5,341.2 1136.7,343.3 1136.9,344.9 1137.1,348.2 1137.3,351.4 1137.5,354.5 1137.7,356.1 1137.9,359.2 1138.1,361.2 1138.3,366.0 1138.5,372.7 1138.7,373.1 1138.9,375.4 1139.1,379.9 1139.3,386.0 1139.5,386.8 1139.7,387.0 1139.9,395.8 1140.1,389.9 1140.3,396.7 1140.5,399.2 1140.7,402.2 1140.9,402.2 1141.1,396.2 1141.4,396.2 1141.6,393.7 1141.8,398.7 1142.0,396.2 1142.2,400.9 1142.4,402.9 1142.6,398.1 1142.8,402.2 1143.0,399.8 1143.2,398.7 1143.4,403.6 1143.6,396.7 1143.8,400.3 1144.0,390.5 1144.2,400.9 1144.4,394.5 1144.6,400.3 1144.8,391.5 1145.0,396.2 1145.2,394.1 1145.4,395.8 1145.6,391.5 1145.8,393.3 1146.0,390.5 1146.2,389.0 1146.4,388.7 1146.6,385.5 1146.8,391.5 1147.0,386.3 1147.2,386.5 1147.4,380.3 1147.6,383.3 1147.8,381.2 1148.0,380.8 1148.2,377.2 1148.4,378.0 1148.6,379.3 1148.8,375.0 1149.0,371.7 1149.2,368.3 1149.4,356.0 1149.6,342.1 1149.8,324.8 1150.0,308.3 1150.2,293.7 1150.4,280.3 1150.6,269.1 1150.8,259.9 1151.0,252.8 1151.2,247.7 1151.5,244.6 1151.7,243.6 1151.9,244.6 1152.1,247.7 1152.3,252.8 1152.5,260.0 1152.7,269.1 1152.9,280.4 1153.1,293.4 1153.3,308.2 1153.5,325.0 1153.7,341.9 1153.9,356.3 1154.1,366.7 1154.3,372.0 1154.5,374.8 1154.7,377.0 1154.9,378.0 1155.1,381.7 1155.3,384.6 1155.5,382.7 1155.7,383.5 1155.9,382.9 1156.1,385.1 1156.3,385.3 1156.5,387.0 1156.7,387.3 1156.9,391.2 1157.1,391.8 1157.3,392.9 1157.5,390.8 1157.7,394.5 1157.9,392.5 1158.1,394.5 1158.3,396.2 1158.5,400.9 1158.7,396.7 1158.9,397.1 1159.1,398.7 1159.3,394.9 1159.5,395.3 1159.7,406.7 1159.9,402.9 1160.1,410.6 1160.3,406.7 1160.5,402.9 1160.7,397.1 1160.9,400.3 1161.1,408.5 1161.3,403.6 1161.6,405.9 1161.8,406.7 1162.0,414.2 1162.2,401.5 1162.4,408.5 1162.6,407.6 1162.8,408.5 1163.0,406.7 1163.2,410.6 1163.4,404.3 1163.6,409.5 1163.8,417.2 1164.0,411.7 1164.2,408.5 1164.4,419.0 1164.6,419.0 1164.8,408.5 1165.0,401.5 1165.2,404.3 1165.4,409.5 1165.6,402.9 1165.8,409.5 1166.0,409.5 1166.2,415.7 1166.4,410.6 1166.6,411.7 1166.8,414.2 1167.0,412.9 1167.2,415.7 1167.4,414.2 1167.6,411.7 1167.8,417.2 1168.0,410.6 1168.2,419.0 1168.4,408.5 1168.6,425.6 1168.8,411.7 1169.0,414.2 1169.2,415.7 1169.4,420.9 1169.6,414.2 1169.8,414.2 1170.0,420.9 1170.2,412.9 1170.4,419.0 1170.6,414.2 1170.8,417.2 1171.0,423.1 1171.2,414.2 1171.5,419.0 1171.7,420.9 1171.9,425.6 1172.1,414.2 1172.3,412.9 1172.5,411.7 1172.7,411.7 1172.9,409.5 1173.1,423.1 1173.3,425.6 1173.5,412.9 1173.7,419.0 1173.9,411.7 1174.1,425.6 1174.3,415.7 1174.5,415.7 1174.7,417.2 1174.9,414.2 1175.1,423.1 1175.3,419.0 1175.5,415.7 1175.7,417.2 1175.9,409.5 1176.1,425.6 1176.3,412.9 1176.5,409.5 1176.7,428.6 1176.9,428.6 1177.1,425.6 1177.3,419.0 1177.5,420.9 1177.7,414.2 1177.9,419.0 1178.1,425.6 1178.3,415.7 1178.5,414.2 1178.7,428.6 1178.9,419.0 1179.1,428.6 1179.3,423.1 1179.5,417.2 1179.7,414.2 1179.9,420.9 1180.1,420.9 1180.3,411.7 1180.5,415.7 1180.7,409.5 1180.9,414.2 1181.1,423.1 1181.3,420.9 1181.6,417.2 1181.8,412.9 1182.0,419.0 1182.2,415.7 1182.4,415.7 1182.6,428.6 1182.8,414.2 1183.0,420.9 1183.2,415.7 1183.4,423.1 1183.6,412.9 1183.8,423.1 1184.0,417.2 1184.2,419.0 1184.4,411.7 1184.6,414.2 1184.8,423.1 1185.0,432.3 1185.2,417.2 1185.4,417.2 1185.6,417.2 1185.8,414.2 1186.0,419.0 1186.2,417.2 1186.4,417.2 1186.6,425.6 1186.8,420.9 1187.0,420.9 1187.2,428.6 1187.4,419.0 1187.6,428.6 1187.8,420.9 1188.0,419.0 1188.2,428.6 1188.4,425.6 1188.6,417.2 1188.8,414.2 1189.0,414.2 1189.2,415.7 1189.4,425.6 1189.6,419.0 1189.8,415.7 1190.0,425.6 1190.2,425.6 1190.4,419.0 1190.6,425.6 1190.8,414.2 1191.0,423.1 1191.2,420.9 1191.4,419.0 1191.7,420.9 1191.9,419.0 1192.1,412.9 1192.3,420.9 1192.5,425.6 1192.7,410.6 1192.9,414.2 1193.1,432.3 1193.3,443.6 1193.5,428.6 1193.7,419.0 1193.9,423.1 1194.1,432.3 1194.3,420.9 1194.5,420.9 1194.7,423.1 1194.9,419.0 1195.1,423.1 1195.3,425.6 1195.5,428.6 1195.7,420.9 1195.9,423.1 1196.1,425.6 1196.3,432.3 1196.5,419.0 1196.7,420.9 1196.9,415.7 1197.1,414.2 1197.3,432.3 1197.5,428.6 1197.7,420.9 1197.9,417.2 1198.1,423.1 1198.3,419.0 1198.5,419.0 1198.7,414.2 1198.9,419.0 1199.1,420.9 1199.3,420.9 1199.5,425.6 1199.7,432.3 1199.9,420.9 1200.1,414.2 1200.3,423.1 1200.5,425.6 1200.7,412.9 1200.9,432.3 1201.1,423.1 1201.3,428.6 1201.5,423.1 1201.8,417.2 1202.0,428.6 1202.2,425.6 1202.4,414.2 1202.6,417.2 1202.8,414.2 1203.0,420.9 1203.2,420.9 1203.4,425.6 1203.6,411.7 1203.8,420.9 1204.0,411.7 1204.2,417.2 1204.4,423.1 1204.6,414.2 1204.8,407.6 1205.0,423.1 1205.2,419.0 1205.4,420.9 1205.6,423.1 1205.8,407.6 1206.0,414.2 1206.2,419.0 1206.4,425.6 1206.6,420.9 1206.8,419.0 1207.0,419.0 1207.2,420.9 1207.4,423.1 1207.6,428.6 1207.8,420.9 1208.0,420.9 1208.2,432.3 1208.4,423.1 1208.6,415.7 1208.8,425.6 1209.0,428.6 1209.2,428.6 1209.4,417.2 1209.6,420.9 1209.8,420.9 1210.0,425.6 1210.2,425.6 1210.4,428.6 1210.6,414.2 1210.8,425.6 1211.0,428.6 1211.2,417.2 1211.4,417.2 1211.6,415.7 1211.9,417.2 1212.1,420.9 1212.3,417.2 1212.5,420.9 1212.7,415.7 1212.9,432.3 1213.1,420.9 1213.3,432.3 1213.5,428.6 1213.7,423.1 1213.9,414.2 1214.1,432.3 1214.3,419.0 1214.5,420.9 1214.7,425.6 1214.9,415.7 1215.1,419.0 1215.3,414.2 1215.5,428.6 1215.7,419.0 1215.9,415.7 1216.1,455.0 1216.3,428.6 1216.5,420.9 1216.7,432.3 1216.9,417.2 1217.1,419.0 1217.3,414.2 1217.5,420.9 1217.7,415.7 1217.9,423.1 1218.1,420.9 1218.3,423.1 1218.5,419.0 1218.7,423.1 1218.9,420.9 1219.1,423.1 1219.3,428.6 1219.5,420.9 1219.7,419.0 1219.9,419.0 1220.1,419.0 1220.3,419.0 1220.5,423.1 1220.7,425.6 1220.9,425.6 1221.1,419.0 1221.3,417.2 1221.5,423.1 1221.8,419.0 1222.0,419.0 1222.2,423.1 1222.4,423.1 1222.6,423.1 1222.8,437.0 1223.0,412.9 1223.2,423.1 1223.4,432.3 1223.6,432.3 1223.8,437.0 1224.0,423.1 1224.2,419.0 1224.4,415.7 1224.6,425.6 1224.8,423.1 1225.0,432.3 1225.2,415.7 1225.4,425.6 1225.6,428.6 1225.8,420.9 1226.0,425.6 1226.2,432.3 1226.4,423.1 1226.6,420.9 1226.8,425.6 1227.0,425.6 1227.2,423.1 1227.4,432.3 1227.6,432.3 1227.8,419.0 1228.0,415.7 1228.2,411.7 1228.4,420.9 1228.6,420.9 1228.8,455.0 1229.0,420.9 1229.2,411.7 1229.4,432.3 1229.6,412.9 1229.8,420.9 1230.0,420.9 1230.2,425.6 1230.4,443.6 1230.6,423.1 1230.8,425.6 1231.0,425.6 1231.2,428.6 1231.4,420.9 1231.6,425.6 1231.9,428.6 1232.1,419.0 1232.3,419.0 1232.5,420.9 1232.7,432.3 1232.9,420.9 1233.1,428.6 1233.3,419.0 1233.5,428.6 1233.7,425.6 1233.9,417.2 1234.1,423.1 1234.3,415.7 1234.5,432.3 1234.7,408.5 1234.9,415.7 1235.1,432.3 1235.3,432.3 1235.5,414.2 1235.7,415.7 1235.9,420.9 1236.1,417.2 1236.3,415.7 1236.5,420.9 1236.7,432.3 1236.9,420.9 1237.1,415.7 1237.3,420.9 1237.5,420.9 1237.7,411.7 1237.9,428.6 1238.1,420.9 1238.3,423.1 1238.5,417.2 1238.7,420.9 1238.9,425.6 1239.1,423.1 1239.3,419.0 1239.5,417.2 1239.7,432.3 1239.9,443.6 1240.1,425.6 1240.3,425.6 1240.5,420.9 1240.7,417.2 1240.9,420.9 1241.1,423.1 1241.3,423.1 1241.5,425.6 1241.7,423.1 1242.0,420.9 1242.2,411.7 1242.4,420.9 1242.6,414.2 1242.8,417.2 1243.0,419.0 1243.2,419.0 1243.4,419.0 1243.6,420.9 1243.8,419.0 1244.0,428.6 1244.2,423.1 1244.4,432.3 1244.6,420.9 1244.8,420.9 1245.0,425.6 1245.2,423.1 1245.4,425.6 1245.6,455.0 1245.8,437.0 1246.0,411.7 1246.2,419.0 1246.4,428.6 1246.6,423.1 1246.8,437.0 1247.0,419.0 1247.2,423.1 1247.4,437.0 1247.6,423.1 1247.8,432.3 1248.0,417.2 1248.2,420.9 1248.4,425.6 1248.6,425.6 1248.8,425.6 1249.0,415.7 1249.2,437.0 1249.4,420.9 1249.6,437.0 1249.8,417.2 1250.0,410.6 1250.2,432.3 1250.4,437.0 1250.6,420.9 1250.8,425.6 1251.0,432.3 1251.2,419.0 1251.4,428.6 1251.6,423.1 1251.8,420.9 1252.1,419.0 1252.3,417.2 1252.5,420.9 1252.7,414.2 1252.9,428.6 1253.1,420.9 1253.3,423.1 1253.5,425.6 1253.7,423.1 1253.9,437.0 1254.1,414.2 1254.3,420.9 1254.5,419.0 1254.7,423.1 1254.9,425.6 1255.1,419.0 1255.3,437.0 1255.5,419.0 1255.7,414.2 1255.9,417.2 1256.1,420.9 1256.3,425.6 1256.5,420.9 1256.7,417.2 1256.9,423.1 1257.1,420.9 1257.3,423.1 1257.5,428.6 1257.7,423.1 1257.9,409.5 1258.1,423.1 1258.3,425.6 1258.5,414.2 1258.7,428.6 1258.9,417.2 1259.1,425.6 1259.3,417.2 1259.5,423.1 1259.7,425.6 1259.9,417.2 1260.1,417.2 1260.3,420.9 1260.5,432.3 1260.7,432.3 1260.9,420.9 1261.1,428.6 1261.3,419.0 1261.5,423.1 1261.7,432.3 1262.0,417.2 1262.2,455.0 1262.4,425.6 1262.6,412.9 1262.8,417.2 1263.0,425.6 1263.2,428.6 1263.4,419.0 1263.6,419.0 1263.8,425.6 1264.0,417.2 1264.2,420.9 1264.4,432.3 1264.6,425.6 1264.8,455.0 1265.0,428.6 1265.2,423.1 1265.4,425.6 1265.6,420.9 1265.8,423.1 1266.0,455.0 1266.2,417.2 1266.4,428.6 1266.6,419.0 1266.8,411.7 1267.0,425.6 1267.2,417.2 1267.4,423.1 1267.6,417.2 1267.8,428.6 1268.0,425.6 1268.2,420.9 1268.4,420.9 1268.6,419.0 1268.8,437.0 1269.0,420.9 1269.2,428.6 1269.4,420.9 1269.6,425.6 1269.8,419.0 1270.0,423.1 1270.2,425.6 1270.4,437.0 1270.6,423.1 1270.8,425.6 1271.0,420.9 1271.2,425.6 1271.4,420.9 1271.6,432.3 1271.8,432.3 1272.1,432.3 1272.3,415.7 1272.5,417.2 1272.7,417.2 1272.9,419.0 1273.1,414.2 1273.3,425.6 1273.5,428.6 1273.7,437.0 1273.9,428.6 1274.1,419.0 1274.3,437.0 1274.5,428.6 1274.7,419.0 1274.9,428.6 1275.1,432.3 1275.3,425.6 1275.5,417.2 1275.7,420.9 1275.9,414.2 1276.1,423.1 1276.3,432.3 1276.5,425.6 1276.7,417.2 1276.9,420.9 1277.1,432.3 1277.3,419.0 1277.5,423.1 1277.7,443.6 1277.9,437.0 1278.1,423.1 1278.3,419.0 1278.5,420.9 1278.7,420.9 1278.9,443.6 1279.1,423.1 1279.3,423.1 1279.5,420.9 1279.7,420.9 1279.9,428.6 1280.1,419.0 1280.3,415.7 1280.5,432.3 1280.7,420.9 1280.9,428.6 1281.1,425.6 1281.3,417.2 1281.5,437.0 1281.7,423.1 1281.9,419.0 1282.2,415.7 1282.4,420.9 1282.6,417.2 1282.8,417.2 1283.0,428.6 1283.2,423.1 1283.4,425.6 1283.6,420.9 1283.8,443.6 1284.0,423.1 1284.2,428.6 1284.4,432.3 1284.6,417.2 1284.8,417.2 1285.0,425.6 1285.2,428.6 1285.4,417.2 1285.6,420.9 1285.8,417.2 1286.0,415.7 1286.2,419.0 1286.4,437.0 1286.6,419.0 1286.8,417.2 1287.0,415.7 1287.2,423.1 1287.4,417.2 1287.6,437.0 1287.8,432.3 1288.0,417.2 1288.2,419.0 1288.4,417.2 1288.6,417.2 1288.8,423.1 1289.0,420.9 1289.2,420.9 1289.4,428.6 1289.6,437.0 1289.8,415.7 1290.0,425.6 1290.2,419.0 1290.4,423.1 1290.6,423.1 1290.8,423.1 1291.0,432.3 1291.2,420.9 1291.4,437.0 1291.6,428.6 1291.8,423.1 1292.0,428.6 1292.3,415.7 1292.5,415.7 1292.7,423.1 1292.9,437.0 1293.1,428.6 1293.3,432.3 1293.5,428.6 1293.7,425.6 1293.9,419.0 1294.1,417.2 1294.3,443.6 1294.5,432.3 1294.7,428.6 1294.9,423.1 1295.1,420.9 1295.3,417.2 1295.5,415.7 1295.7,428.6 1295.9,419.0 1296.1,415.7 1296.3,437.0 1296.5,417.2 1296.7,425.6 1296.9,443.6 1297.1,423.1 1297.3,423.1 1297.5,417.2 1297.7,415.7 1297.9,455.0 1298.1,428.6 1298.3,423.1 1298.5,417.2 1298.7,425.6 1298.9,432.3 1299.1,432.3 1299.3,428.6 1299.5,437.0 1299.7,437.0 1299.9,432.3 1300.1,423.1 1300.3,425.6 1300.5,425.6 1300.7,432.3 1300.9,437.0 1301.1,420.9 1301.3,420.9 1301.5,417.2 1301.7,417.2 1301.9,432.3 1302.1,411.7 1302.4,419.0 1302.6,443.6 1302.8,425.6 1303.0,417.2 1303.2,420.9 1303.4,428.6 1303.6,423.1 1303.8,425.6 1304.0,432.3 1304.2,437.0 1304.4,432.3 1304.6,428.6 1304.8,428.6 1305.0,420.9 1305.2,443.6 1305.4,420.9 1305.6,437.0 1305.8,443.6 1306.0,423.1 1306.2,437.0 1306.4,423.1 1306.6,443.6 1306.8,425.6 1307.0,428.6 1307.2,419.0 1307.4,428.6 1307.6,432.3 1307.8,432.3 1308.0,428.6 1308.2,425.6 1308.4,420.9 1308.6,428.6 1308.8,428.6 1309.0,423.1 1309.2,437.0 1309.4,425.6 1309.6,417.2 1309.8,425.6 1310.0,420.9 1310.2,423.1 1310.4,432.3 1310.6,437.0 1310.8,432.3 1311.0,428.6 1311.2,428.6 1311.4,423.1 1311.6,423.1 1311.8,423.1 1312.0,423.1 1312.3,423.1 1312.5,437.0 1312.7,432.3 1312.9,425.6 1313.1,425.6 1313.3,423.1 1313.5,419.0 1313.7,419.0 1313.9,417.2 1314.1,423.1 1314.3,423.1 1314.5,415.7 1314.7,428.6 1314.9,420.9 1315.1,420.9 1315.3,417.2 1315.5,432.3 1315.7,420.9 1315.9,423.1 1316.1,423.1 1316.3,428.6 1316.5,428.6 1316.7,423.1 1316.9,412.9 1317.1,432.3 1317.3,425.6 1317.5,415.7 1317.7,428.6 1317.9,420.9 1318.1,432.3 1318.3,423.1 1318.5,415.7 1318.7,417.2 1318.9,420.9 1319.1,419.0 1319.3,437.0 1319.5,428.6 1319.7,419.0 1319.9,420.9 1320.1,415.7 1320.3,423.1 1320.5,432.3 1320.7,437.0 1320.9,417.2 1321.1,417.2 1321.3,419.0 1321.5,437.0 1321.7,425.6 1321.9,432.3 1322.1,437.0 1322.4,423.1 1322.6,420.9 1322.8,432.3 1323.0,417.2 1323.2,419.0 1323.4,420.9 1323.6,420.9 1323.8,437.0 1324.0,420.9 1324.2,417.2 1324.4,428.6 1324.6,420.9 1324.8,428.6 1325.0,423.1 1325.2,412.9 1325.4,428.6 1325.6,419.0 1325.8,423.1 1326.0,425.6 1326.2,423.1 1326.4,423.1 1326.6,423.1 1326.8,428.6 1327.0,437.0 1327.2,419.0 1327.4,432.3 1327.6,417.2 1327.8,417.2 1328.0,423.1 1328.2,420.9 1328.4,425.6 1328.6,425.6 1328.8,428.6 1329.0,414.2 1329.2,423.1 1329.4,414.2 1329.6,415.7 1329.8,419.0 1330.0,428.6 1330.2,417.2 1330.4,425.6 1330.6,443.6 1330.8,432.3 1331.0,425.6 1331.2,432.3 1331.4,428.6 1331.6,420.9 1331.8,425.6 1332.0,432.3 1332.2,425.6 1332.5,414.2 1332.7,425.6 1332.9,428.6 1333.1,425.6 1333.3,420.9 1333.5,410.6 1333.7,420.9 1333.9,414.2" fill="none" stroke="#ff8000" stroke-width="2.0" stroke-linejoin="round"/>
<polyline points="593.3,476.9 593.5,478.0 593.7,478.4 593.9,477.7 594.1,479.5 594.3,478.2 594.5,478.8 594.7,480.3 594.9,481.6 595.1,480.3 595.3,479.8 595.5,479.1 595.7,482.7 595.9,477.1 596.1,477.3 596.3,479.1 596.5,478.6 596.7,483.0 596.9,483.3 597.1,480.0 597.3,480.3 597.5,478.8 597.7,486.9 597.9,485.5 598.1,479.5 598.4,477.5 598.6,481.8 598.8,483.9 599.0,480.8 599.2,481.6 599.4,481.8 599.6,486.9 599.8,483.6 600.0,483.3 600.2,480.5 600.4,483.0 600.6,480.8 600.8,484.5 601.0,482.1 601.2,489.3 601.4,487.7 601.6,485.2 601.8,486.9 602.0,484.2 602.2,484.2 602.4,483.9 602.6,481.6 602.8,488.5 603.0,485.2 603.2,482.4 603.4,487.3 603.6,488.5 603.8,485.5 604.0,481.0 604.2,482.7 604.4,483.9 604.6,491.1 604.8,485.5 605.0,486.5 605.2,484.8 605.4,484.5 605.6,488.1 605.8,487.7 606.0,488.9 606.2,483.6 606.4,487.3 606.6,484.2 606.8,489.8 607.0,484.5 607.2,488.5 607.4,485.2 607.6,483.3 607.8,486.5 608.0,481.8 608.2,488.1 608.5,491.1 608.7,487.7 608.9,488.5 609.1,484.2 609.3,489.3 609.5,484.2 609.7,487.3 609.9,485.2 610.1,485.2 610.3,484.2 610.5,484.5 610.7,483.0 610.9,487.3 611.1,486.2 611.3,486.2 611.5,486.9 611.7,487.3 611.9,486.9 612.1,488.9 612.3,485.5 612.5,489.3 612.7,484.8 612.9,492.7 613.1,486.2 613.3,487.7 613.5,489.8 613.7,488.5 613.9,484.5 614.1,485.2 614.3,485.5 614.5,491.6 614.7,484.8 614.9,487.3 615.1,488.1 615.3,488.1 615.5,486.2 615.7,489.8 615.9,486.2 616.1,484.2 616.3,489.8 616.5,486.2 616.7,484.8 616.9,486.9 617.1,487.7 617.3,486.2 617.5,486.5 617.7,485.5 617.9,487.3 618.1,489.3 618.3,486.9 618.6,488.5 618.8,481.6 619.0,488.1 619.2,490.7 619.4,491.6 619.6,488.5 619.8,486.2 620.0,486.2 620.2,490.2 620.4,490.2 620.6,489.8 620.8,488.1 621.0,492.7 621.2,491.6 621.4,492.7 621.6,489.8 621.8,488.1 622.0,490.2 622.2,489.3 622.4,490.7 622.6,488.5 622.8,486.9 623.0,491.6 623.2,488.9 623.4,489.3 623.6,483.0 623.8,492.1 624.0,486.5 624.2,489.3 624.4,487.3 624.6,490.7 624.8,487.7 625.0,485.8 625.2,491.1 625.4,494.9 625.6,486.9 625.8,491.1 626.0,490.2 626.2,488.9 626.4,489.8 626.6,487.7 626.8,493.8 627.0,490.7 627.2,493.8 627.4,490.7 627.6,489.8 627.8,485.8 628.0,490.7 628.2,488.5 628.4,487.7 628.7,493.2 628.9,490.2 629.1,491.1 629.3,485.5 629.5,489.8 629.7,493.2 629.9,491.6 630.1,495.5 630.3,487.3 630.5,488.1 630.7,488.1 630.9,486.5 631.1,488.9 631.3,484.2 631.5,490.2 631.7,493.8 631.9,494.3 632.1,487.3 632.3,493.8 632.5,490.2 632.7,493.2 632.9,492.1 633.1,499.9 633.3,490.7 633.5,493.2 633.7,487.7 633.9,488.5 634.1,488.9 634.3,493.8 634.5,486.9 634.7,488.5 634.9,492.1 635.1,493.2 635.3,489.3 635.5,494.3 635.7,488.9 635.9,488.1 636.1,487.3 636.3,490.7 636.5,487.7 636.7,491.6 636.9,486.5 637.1,488.9 637.3,494.9 637.5,488.9 637.7,488.1 637.9,487.3 638.1,487.7 638.3,496.9 638.6,488.5 638.8,486.9 639.0,492.1 639.2,490.7 639.4,490.7 639.6,491.6 639.8,491.6 640.0,493.2 640.2,490.2 640.4,489.8 640.6,492.7 640.8,494.3 641.0,490.2 641.2,489.3 641.4,492.7 641.6,485.5 641.8,489.3 642.0,488.1 642.2,491.6 642.4,493.8 642.6,491.1 642.8,489.3 643.0,493.2 643.2,490.7 643.4,488.9 643.6,492.7 643.8,491.6 644.0,495.5 644.2,496.2 644.4,492.7 644.6,485.8 644.8,489.8 645.0,487.7 645.2,490.2 645.4,491.6 645.6,489.3 645.8,493.8 646.0,491.1 646.2,487.3 646.4,488.5 646.6,489.8 646.8,486.9 647.0,491.1 647.2,488.9 647.4,490.2 647.6,492.7 647.8,486.9 648.0,489.3 648.2,490.2 648.4,493.2 648.7,492.7 648.9,492.1 649.1,492.1 649.3,488.1 649.5,493.2 649.7,490.2 649.9,491.6 650.1,489.8 650.3,488.9 650.5,497.6 650.7,491.1 650.9,488.1 651.1,491.6 651.3,485.5 651.5,487.7 651.7,489.3 651.9,493.2 652.1,488.1 652.3,499.1 652.5,495.5 652.7,489.3 652.9,488.1 653.1,493.2 653.3,487.7 653.5,493.8 653.7,488.5 653.9,489.8 654.1,491.6 654.3,492.7 654.5,489.8 654.7,495.5 654.9,486.9 655.1,491.1 655.3,487.7 655.5,489.3 655.7,493.8 655.9,493.8 656.1,490.7 656.3,494.9 656.5,498.3 656.7,491.1 656.9,488.1 657.1,490.7 657.3,496.9 657.5,490.2 657.7,493.2 657.9,493.2 658.1,495.5 658.3,487.7 658.5,490.7 658.8,489.3 659.0,494.9 659.2,493.8 659.4,489.3 659.6,488.1 659.8,493.2 660.0,490.7 660.2,488.5 660.4,493.2 660.6,493.2 660.8,490.2 661.0,493.8 661.2,491.6 661.4,494.9 661.6,496.9 661.8,490.7 662.0,492.7 662.2,489.8 662.4,492.1 662.6,490.7 662.8,493.8 663.0,495.5 663.2,492.1 663.4,489.3 663.6,493.2 663.8,485.2 664.0,492.7 664.2,497.6 664.4,485.8 664.6,495.5 664.8,491.1 665.0,491.6 665.2,492.1 665.4,493.8 665.6,488.5 665.8,489.8 666.0,489.8 666.2,499.1 666.4,490.7 666.6,496.9 666.8,489.3 667.0,495.5 667.2,495.5 667.4,489.8 667.6,491.1 667.8,499.1 668.0,490.2 668.2,494.9 668.4,490.2 668.6,487.3 668.9,490.2 669.1,491.1 669.3,494.3 669.5,494.3 669.7,490.2 669.9,489.3 670.1,496.9 670.3,488.5 670.5,489.8 670.7,491.1 670.9,494.9 671.1,490.2 671.3,491.1 671.5,488.9 671.7,486.5 671.9,490.2 672.1,490.2 672.3,488.1 672.5,488.5 672.7,486.2 672.9,489.8 673.1,486.5 673.3,482.7 673.5,480.8 673.7,478.6 673.9,478.6 674.1,476.7 674.3,472.3 674.5,467.4 674.7,465.4 674.9,460.8 675.1,459.2 675.3,455.3 675.5,452.2 675.7,451.1 675.9,448.6 676.1,446.9 676.3,445.7 676.5,445.4 676.7,444.3 676.9,444.6 677.1,445.0 677.3,445.2 677.5,448.1 677.7,449.0 677.9,452.1 678.1,452.8 678.3,454.5 678.5,459.3 678.7,461.2 679.0,465.2 679.2,469.5 679.4,470.3 679.6,478.2 679.8,477.5 680.0,483.3 680.2,483.6 680.4,484.2 680.6,490.2 680.8,483.9 681.0,490.7 681.2,489.3 681.4,491.1 681.6,487.7 681.8,492.7 682.0,487.3 682.2,487.3 682.4,488.5 682.6,494.9 682.8,490.2 683.0,487.3 683.2,496.2 683.4,494.9 683.6,494.3 683.8,490.7 684.0,494.9 684.2,487.7 684.4,495.5 684.6,490.7 684.8,492.7 685.0,494.9 685.2,488.5 685.4,492.1 685.6,494.3 685.8,487.7 686.0,488.1 686.2,496.9 686.4,493.8 686.6,495.5 686.8,491.6 687.0,496.2 687.2,495.5 687.4,493.2 687.6,494.3 687.8,492.7 688.0,494.9 688.2,493.2 688.4,492.1 688.6,491.6 688.9,493.8 689.1,494.9 689.3,496.2 689.5,490.2 689.7,490.7 689.9,496.2 690.1,491.1 690.3,491.1 690.5,492.7 690.7,493.2 690.9,488.9 691.1,492.7 691.3,489.3 691.5,494.3 691.7,492.7 691.9,489.3 692.1,495.5 692.3,493.2 692.5,487.7 692.7,495.5 692.9,494.9 693.1,496.2 693.3,492.7 693.5,494.9 693.7,495.5 693.9,498.3 694.1,491.1 694.3,488.9 694.5,490.2 694.7,492.1 694.9,491.1 695.1,498.3 695.3,496.2 695.5,494.3 695.7,496.2 695.9,493.8 696.1,494.9 696.3,493.8 696.5,497.6 696.7,493.8 696.9,488.5 697.1,491.6 697.3,487.3 697.5,494.9 697.7,486.9 697.9,491.6 698.1,492.1 698.3,490.7 698.5,490.7 698.7,492.1 699.0,493.8 699.2,496.9 699.4,495.5 699.6,491.6 699.8,493.8 700.0,497.6 700.2,496.9 700.4,496.2 700.6,498.3 700.8,498.3 701.0,501.6 701.2,492.7 701.4,494.3 701.6,494.9 701.8,494.9 702.0,488.5 702.2,488.1 702.4,494.3 702.6,495.5 702.8,496.2 703.0,493.8 703.2,493.8 703.4,489.3 703.6,492.1 703.8,493.2 704.0,493.2 704.2,491.6 704.4,488.1 704.6,491.6 704.8,499.1 705.0,492.1 705.2,496.9 705.4,494.9 705.6,501.6 705.8,489.3 706.0,491.6 706.2,491.1 706.4,499.9 706.6,493.2 706.8,495.5 707.0,491.6 707.2,491.1 707.4,491.6 707.6,498.3 707.8,499.1 708.0,494.3 708.2,493.2 708.4,496.2 708.6,501.6 708.8,493.8 709.1,490.2 709.3,490.2 709.5,501.6 709.7,491.1 709.9,492.7 710.1,497.6 710.3,496.2 710.5,494.3 710.7,488.9 710.9,491.1 711.1,493.8 711.3,486.2 711.5,493.2 711.7,492.7 711.9,496.2 712.1,490.2 712.3,487.3 712.5,498.3 712.7,492.1 712.9,494.3 713.1,495.5 713.3,488.1 713.5,492.7 713.7,493.2 713.9,496.2 714.1,496.9 714.3,494.3 714.5,497.6 714.7,492.7 714.9,496.2 715.1,493.8 715.3,493.8 715.5,492.1 715.7,494.3 715.9,497.6 716.1,490.7 716.3,491.6 716.5,491.6 716.7,496.9 716.9,495.5 717.1,491.6 717.3,500.7 717.5,494.9 717.7,490.2 717.9,492.7 718.1,493.2 718.3,493.2 718.5,491.6 718.7,490.7 718.9,491.6 719.2,493.8 719.4,492.1 719.6,491.6 719.8,492.7 720.0,491.6 720.2,494.9 720.4,496.9 720.6,492.1 720.8,499.9 721.0,493.8 721.2,492.7 721.4,492.1 721.6,491.1 721.8,495.5 722.0,498.3 722.2,491.1 722.4,493.2 722.6,493.2 722.8,494.3 723.0,493.2 723.2,496.2 723.4,498.3 723.6,495.5 723.8,498.3 724.0,492.7 724.2,494.3 724.4,491.6 724.6,491.6 724.8,497.6 725.0,498.3 725.2,492.1 725.4,493.2 725.6,494.9 725.8,497.6 726.0,492.1 726.2,491.1 726.4,492.1 726.6,492.7 726.8,492.7 727.0,493.8 727.2,493.2 727.4,495.5 727.6,498.3 727.8,493.2 728.0,492.7 728.2,490.2 728.4,491.6 728.6,493.2 728.8,491.1 729.1,492.1 729.3,501.6 729.5,489.8 729.7,490.7 729.9,496.2 730.1,494.3 730.3,493.8 730.5,500.7 730.7,486.5 730.9,491.6 731.1,495.5 731.3,496.9 731.5,492.7 731.7,494.9 731.9,499.1 732.1,497.6 732.3,490.7 732.5,496.9 732.7,495.5 732.9,492.7 733.1,501.6 733.3,494.3 733.5,492.7 733.7,492.7 733.9,494.3 734.1,491.1 734.3,488.1 734.5,491.1 734.7,494.9 734.9,493.2 735.1,489.3 735.3,489.8 735.5,494.9 735.7,490.7 735.9,492.1 736.1,492.7 736.3,492.1 736.5,491.6 736.7,494.3 736.9,494.3 737.1,499.1 737.3,496.2 737.5,494.9 737.7,495.5 737.9,496.9 738.1,494.3 738.3,496.9 738.5,487.3 738.7,493.2 738.9,494.3 739.2,494.3 739.4,491.6 739.6,502.5 739.8,498.3 740.0,488.9 740.2,491.6 740.4,494.9 740.6,492.7 740.8,490.7 741.0,495.5 741.2,496.2 741.4,492.7 741.6,503.5 741.8,493.8 742.0,495.5 742.2,500.7 742.4,494.3 742.6,494.3 742.8,494.9 743.0,496.2 743.2,491.6 743.4,493.2 743.6,488.9 743.8,496.9 744.0,493.2 744.2,492.7 744.4,491.6 744.6,494.9 744.8,503.5 745.0,493.2 745.2,502.5 745.4,494.9 745.6,494.3 745.8,497.6 746.0,499.1 746.2,493.8 746.4,494.3 746.6,496.2 746.8,499.1 747.0,497.6 747.2,496.2 747.4,492.7 747.6,494.9 747.8,493.8 748.0,488.5 748.2,499.9 748.4,494.9 748.6,488.1 748.8,499.9 749.0,492.1 749.3,496.2 749.5,492.1 749.7,490.7 749.9,496.9 750.1,494.9 750.3,496.9 750.5,495.5 750.7,491.1 750.9,491.6 751.1,491.6 751.3,496.2 751.5,493.2 751.7,494.9 751.9,497.6 752.1,496.9 752.3,490.7 752.5,493.2 752.7,500.7 752.9,491.1 753.1,492.1 753.3,493.2 753.5,496.9 753.7,492.7 753.9,493.8 754.1,496.9 754.3,492.7 754.5,495.5 754.7,496.9 754.9,500.7 755.1,494.9 755.3,497.6 755.5,493.8 755.7,498.3 755.9,496.9 756.1,496.2 756.3,493.2 756.5,492.1 756.7,499.9 756.9,493.8 757.1,490.2 757.3,503.5 757.5,489.8 757.7,496.2 757.9,500.7 758.1,495.5 758.3,493.2 758.5,494.9 758.7,494.9 758.9,499.1 759.1,491.6 759.4,502.5 759.6,492.1 759.8,498.3 760.0,496.2 760.2,495.5 760.4,498.3 760.6,499.1 760.8,498.3 761.0,496.9 761.2,495.5 761.4,491.6 761.6,492.7 761.8,494.3 762.0,494.9 762.2,501.6 762.4,495.5 762.6,494.3 762.8,493.2 763.0,498.3 763.2,500.7 763.4,496.2 763.6,494.9 763.8,497.6 764.0,494.9 764.2,492.1 764.4,492.7 764.6,496.2 764.8,490.2 765.0,494.3 765.2,492.1 765.4,488.1 765.6,497.6 765.8,493.8 766.0,495.5 766.2,496.9 766.4,494.3 766.6,497.6 766.8,502.5 767.0,492.7 767.2,500.7 767.4,494.3 767.6,491.6 767.8,492.1 768.0,502.5 768.2,493.8 768.4,492.1 768.6,494.9 768.8,497.6 769.0,489.8 769.2,489.8 769.5,492.1 769.7,497.6 769.9,489.8 770.1,494.3 770.3,492.7 770.5,493.2 770.7,496.9 770.9,497.6 771.1,500.7 771.3,495.5 771.5,498.3 771.7,495.5 771.9,488.9 772.1,497.6 772.3,495.5 772.5,490.7 772.7,493.2 772.9,497.6 773.1,494.3 773.3,493.8 773.5,490.2 773.7,500.7 773.9,494.3 774.1,499.9 774.3,491.1 774.5,498.3 774.7,493.8 774.9,498.3 775.1,500.7 775.3,492.7 775.5,492.7 775.7,494.9 775.9,490.7 776.1,493.2 776.3,492.1 776.5,494.9 776.7,499.9 776.9,494.9 777.1,494.9 777.3,498.3 777.5,496.2 777.7,498.3 777.9,499.9 778.1,492.7 778.3,494.9 778.5,499.9 778.7,495.5 778.9,492.1 779.1,493.8 779.4,494.9 779.6,497.6 779.8,499.1 780.0,491.1 780.2,495.5 780.4,498.3 780.6,496.9 780.8,491.6 781.0,494.3 781.2,493.2 781.4,493.8 781.6,493.8 781.8,495.5 782.0,493.8 782.2,490.7 782.4,496.2 782.6,499.9 782.8,491.6 783.0,496.2 783.2,495.5 783.4,498.3 783.6,492.1 783.8,497.6 784.0,494.3 784.2,494.9 784.4,489.8 784.6,496.2 784.8,494.9 785.0,492.1 785.2,493.8 785.4,495.5 785.6,497.6 785.8,495.5 786.0,502.5 786.2,491.6 786.4,498.3 786.6,495.5 786.8,496.2 787.0,495.5 787.2,497.6 787.4,489.8 787.6,496.9 787.8,492.7 788.0,494.3 788.2,499.1 788.4,495.5 788.6,491.6 788.8,496.9 789.0,493.8 789.2,495.5 789.5,491.1 789.7,497.6 789.9,497.6 790.1,493.2 790.3,496.2 790.5,496.9 790.7,493.8 790.9,489.8 791.1,492.1 791.3,501.6 791.5,499.9 791.7,499.1 791.9,497.6 792.1,490.7 792.3,499.1 792.5,493.2 792.7,496.2 792.9,496.9 793.1,500.7 793.3,492.1 793.5,493.2 793.7,499.9 793.9,497.6 794.1,499.9 794.3,497.6 794.5,494.3 794.7,494.3 794.9,500.7 795.1,494.3 795.3,496.9 795.5,495.5 795.7,496.2 795.9,496.9 796.1,491.6 796.3,499.1 796.5,499.1 796.7,494.3 796.9,499.1 797.1,491.6 797.3,497.6 797.5,498.3 797.7,494.3 797.9,496.9 798.1,501.6 798.3,494.3 798.5,501.6 798.7,497.6 798.9,499.1 799.1,499.1 799.3,490.7 799.6,494.3 799.8,494.3 800.0,492.1 800.2,493.8 800.4,490.2 800.6,493.2 800.8,494.9 801.0,493.8 801.2,500.7 801.4,504.6 801.6,498.3 801.8,499.9 802.0,492.7 802.2,494.9 802.4,495.5 802.6,493.2 802.8,500.7 803.0,496.2 803.2,495.5 803.4,495.5 803.6,495.5 803.8,500.7 804.0,496.2 804.2,494.9 804.4,501.6 804.6,501.6 804.8,492.1 805.0,488.9 805.2,491.1 805.4,497.6 805.6,494.3 805.8,501.6 806.0,495.5 806.2,492.7 806.4,497.6 806.6,498.3 806.8,495.5 807.0,488.5 807.2,497.6 807.4,498.3 807.6,495.5 807.8,493.2 808.0,499.1 808.2,493.8 808.4,497.6 808.6,496.2 808.8,496.9 809.0,494.3 809.2,489.8 809.4,499.1 809.7,501.6 809.9,499.9 810.1,496.9 810.3,493.2 810.5,494.9 810.7,494.9 810.9,491.6 811.1,492.1 811.3,490.7 811.5,496.9 811.7,499.1 811.9,495.5 812.1,496.9 812.3,494.3 812.5,493.2 812.7,498.3 812.9,492.1 813.1,491.6 813.3,492.7 813.5,494.3 813.7,501.6 813.9,494.3 814.1,496.2 814.3,494.3 814.5,498.3 814.7,498.3 814.9,498.3 815.1,500.7 815.3,494.9 815.5,497.6 815.7,493.8 815.9,490.7 816.1,500.7 816.3,500.7 816.5,496.9 816.7,497.6 816.9,488.9 817.1,491.1 817.3,489.8 817.5,491.6 817.7,485.8 817.9,490.2 818.1,492.7 818.3,495.5 818.5,494.3 818.7,491.6 818.9,496.9 819.1,489.8 819.3,490.2 819.6,491.6 819.8,493.8 820.0,490.2 820.2,490.7 820.4,494.3 820.6,494.9 820.8,491.1 821.0,498.3 821.2,489.3 821.4,494.3 821.6,494.9 821.8,490.7 822.0,492.7 822.2,492.7 822.4,490.7 822.6,492.1 822.8,495.5 823.0,489.8 823.2,493.2 823.4,490.7 823.6,491.6 823.8,485.8 824.0,486.9 824.2,491.1 824.4,489.8 824.6,493.2 824.8,486.2 825.0,490.2 825.2,490.7 825.4,486.9 825.6,487.3 825.8,486.2 826.0,486.2 826.2,482.4 826.4,478.0 826.6,476.9 826.8,473.4 827.0,473.4 827.2,471.9 827.4,468.2 827.6,465.8 827.8,466.2 828.0,461.9 828.2,460.1 828.4,457.7 828.6,457.0 828.8,452.9 829.0,451.2 829.2,448.9 829.4,446.9 829.7,445.6 829.9,445.1 830.1,443.3 830.3,442.3 830.5,439.4 830.7,434.8 830.9,424.1 831.1,409.3 831.3,394.7 831.5,381.2 831.7,370.0 831.9,361.3 832.1,355.0 832.3,351.2 832.5,350.0 832.7,351.2 832.9,355.0 833.1,361.3 833.3,370.1 833.5,381.3 833.7,395.2 833.9,410.5 834.1,427.8 834.3,444.1 834.5,454.4 834.7,461.8 834.9,466.7 835.1,466.5 835.3,472.3 835.5,472.8 835.7,474.5 835.9,474.8 836.1,474.3 836.3,478.2 836.5,478.6 836.7,482.1 836.9,482.4 837.1,482.7 837.3,481.0 837.5,483.0 837.7,487.3 837.9,479.3 838.1,484.8 838.3,483.6 838.5,483.0 838.7,491.6 838.9,488.5 839.1,488.1 839.3,487.3 839.5,490.7 839.8,491.6 840.0,491.1 840.2,488.5 840.4,490.2 840.6,490.7 840.8,494.3 841.0,488.9 841.2,496.9 841.4,493.8 841.6,492.1 841.8,491.6 842.0,490.7 842.2,492.1 842.4,492.7 842.6,496.9 842.8,492.1 843.0,486.9 843.2,500.7 843.4,491.6 843.6,488.9 843.8,491.1 844.0,493.2 844.2,492.1 844.4,493.8 844.6,490.2 844.8,494.9 845.0,496.9 845.2,488.5 845.4,494.3 845.6,494.3 845.8,490.7 846.0,494.9 846.2,492.1 846.4,491.6 846.6,490.7 846.8,501.6 847.0,500.7 847.2,494.9 847.4,499.1 847.6,492.7 847.8,495.5 848.0,489.8 848.2,490.2 848.4,490.2 848.6,496.9 848.8,497.6 849.0,502.5 849.2,489.3 849.4,499.9 849.6,495.5 849.9,496.2 850.1,501.6 850.3,498.3 850.5,496.9 850.7,496.2 850.9,498.3 851.1,494.9 851.3,496.2 851.5,496.9 851.7,496.2 851.9,497.6 852.1,494.9 852.3,492.7 852.5,494.3 852.7,494.9 852.9,497.6 853.1,499.1 853.3,496.2 853.5,498.3 853.7,501.6 853.9,499.1 854.1,494.3 854.3,500.7 854.5,498.3 854.7,496.2 854.9,492.1 855.1,498.3 855.3,495.5 855.5,497.6 855.7,494.9 855.9,499.9 856.1,496.2 856.3,490.7 856.5,494.3 856.7,505.7 856.9,494.9 857.1,497.6 857.3,496.2 857.5,491.1 857.7,495.5 857.9,497.6 858.1,500.7 858.3,496.2 858.5,499.1 858.7,494.9 858.9,499.9 859.1,493.8 859.3,497.6 859.5,492.7 859.7,497.6 860.0,494.9 860.2,499.9 860.4,496.2 860.6,501.6 860.8,501.6 861.0,499.9 861.2,496.9 861.4,491.1 861.6,494.9 861.8,493.8 862.0,500.7 862.2,496.9 862.4,494.9 862.6,493.2 862.8,508.2 863.0,496.9 863.2,495.5 863.4,506.9 863.6,501.6 863.8,496.9 864.0,492.7 864.2,497.6 864.4,494.9 864.6,494.9 864.8,498.3 865.0,495.5 865.2,495.5 865.4,494.3 865.6,498.3 865.8,497.6 866.0,494.9 866.2,499.9 866.4,505.7 866.6,493.8 866.8,496.2 867.0,493.2 867.2,502.5 867.4,494.9 867.6,500.7 867.8,499.1 868.0,499.1 868.2,504.6 868.4,503.5 868.6,498.3 868.8,496.9 869.0,494.9 869.2,495.5 869.4,499.9 869.6,493.8 869.9,492.7 870.1,492.1 870.3,508.2 870.5,496.2 870.7,495.5 870.9,499.9 871.1,498.3 871.3,499.1 871.5,499.1 871.7,493.2 871.9,495.5 872.1,493.2 872.3,496.2 872.5,494.3 872.7,499.9 872.9,499.9 873.1,497.6 873.3,503.5 873.5,499.9 873.7,492.7 873.9,496.2 874.1,502.5 874.3,504.6 874.5,492.1 874.7,499.9 874.9,499.1 875.1,495.5 875.3,499.9 875.5,493.8 875.7,501.6 875.9,493.2 876.1,501.6 876.3,499.9 876.5,491.6 876.7,492.7 876.9,501.6 877.1,501.6 877.3,496.2 877.5,493.8 877.7,496.9 877.9,496.2 878.1,497.6 878.3,500.7 878.5,506.9 878.7,496.9 878.9,494.3 879.1,498.3 879.3,500.7 879.5,497.6 879.7,496.9 880.0,497.6 880.2,499.9 880.4,492.7 880.6,496.9 880.8,497.6 881.0,492.7 881.2,502.5 881.4,495.5 881.6,499.1 881.8,494.9 882.0,499.1 882.2,491.1 882.4,496.2 882.6,499.1 882.8,508.2 883.0,500.7 883.2,497.6 883.4,508.2 883.6,500.7 883.8,492.7 884.0,493.2 884.2,496.9 884.4,499.1 884.6,492.7 884.8,498.3 885.0,498.3 885.2,496.9 885.4,496.2 885.6,497.6 885.8,500.7 886.0,494.9 886.2,496.9 886.4,499.1 886.6,497.6 886.8,504.6 887.0,502.5 887.2,495.5 887.4,500.7 887.6,492.1 887.8,497.6 888.0,495.5 888.2,492.7 888.4,496.9 888.6,506.9 888.8,498.3 889.0,497.6 889.2,494.9 889.4,504.6 889.6,497.6 889.8,494.3 890.1,503.5 890.3,497.6 890.5,505.7 890.7,503.5 890.9,492.1 891.1,509.7 891.3,494.3 891.5,500.7 891.7,496.9 891.9,505.7 892.1,493.2 892.3,503.5 892.5,493.2 892.7,497.6 892.9,493.8 893.1,496.9 893.3,499.9 893.5,491.6 893.7,500.7 893.9,496.2 894.1,503.5 894.3,493.8 894.5,497.6 894.7,495.5 894.9,495.5 895.1,503.5 895.3,496.2 895.5,497.6 895.7,502.5 895.9,502.5 896.1,495.5 896.3,500.7 896.5,498.3 896.7,505.7 896.9,500.7 897.1,502.5 897.3,497.6 897.5,494.9 897.7,493.2 897.9,496.2 898.1,496.9 898.3,500.7 898.5,498.3 898.7,501.6 898.9,495.5 899.1,499.9 899.3,497.6 899.5,499.1 899.7,506.9 899.9,498.3 900.2,498.3 900.4,495.5 900.6,494.9 900.8,502.5 901.0,503.5 901.2,500.7 901.4,498.3 901.6,499.9 901.8,497.6 902.0,496.2 902.2,501.6 902.4,494.9 902.6,498.3 902.8,496.2 903.0,498.3 903.2,497.6 903.4,498.3 903.6,494.3 903.8,496.9 904.0,496.2 904.2,498.3 904.4,499.9 904.6,500.7 904.8,498.3 905.0,499.1 905.2,499.9 905.4,495.5 905.6,499.1 905.8,499.1 906.0,504.6 906.2,492.7 906.4,499.9 906.6,496.2 906.8,503.5 907.0,496.9 907.2,498.3 907.4,500.7 907.6,501.6 907.8,496.2 908.0,500.7 908.2,499.1 908.4,505.7 908.6,499.1 908.8,501.6 909.0,508.2 909.2,499.1 909.4,497.6 909.6,503.5 909.8,499.9 910.1,498.3 910.3,499.1 910.5,496.9 910.7,499.9 910.9,496.2 911.1,499.9 911.3,496.2 911.5,501.6 911.7,495.5 911.9,496.9 912.1,495.5 912.3,502.5 912.5,500.7 912.7,491.1 912.9,499.1 913.1,490.7 913.3,499.9 913.5,500.7 913.7,498.3 913.9,497.6 914.1,501.6 914.3,499.1 914.5,506.9 914.7,498.3 914.9,496.2 915.1,494.9 915.3,499.1 915.5,496.9 915.7,499.1 915.9,501.6 916.1,501.6 916.3,494.9 916.5,498.3 916.7,499.1 916.9,501.6 917.1,500.7 917.3,494.3 917.5,500.7 917.7,503.5 917.9,496.9 918.1,504.6 918.3,502.5 918.5,506.9 918.7,496.2 918.9,499.1 919.1,506.9 919.3,502.5 919.5,501.6 919.7,496.9 919.9,498.3 920.2,508.2 920.4,499.9 920.6,492.7 920.8,499.9 921.0,496.2 921.2,496.2 921.4,494.3 921.6,503.5 921.8,496.9 922.0,499.1 922.2,498.3 922.4,505.7 922.6,499.9 922.8,505.7 923.0,499.9 923.2,501.6 923.4,504.6 923.6,506.9 923.8,499.9 924.0,494.9 924.2,497.6 924.4,495.5 924.6,494.9 924.8,500.7 925.0,499.9 925.2,501.6 925.4,494.9 925.6,497.6 925.8,499.9 926.0,500.7 926.2,499.9 926.4,501.6 926.6,508.2 926.8,499.1 927.0,499.9 927.2,498.3 927.4,499.9 927.6,517.1 927.8,500.7 928.0,503.5 928.2,500.7 928.4,506.9 928.6,496.9 928.8,495.5 929.0,499.1 929.2,497.6 929.4,503.5 929.6,499.1 929.8,499.9 930.0,501.6 930.3,499.1 930.5,499.9 930.7,497.6 930.9,506.9 931.1,501.6 931.3,496.2 931.5,501.6 931.7,497.6 931.9,499.9 932.1,500.7 932.3,499.9 932.5,498.3 932.7,498.3 932.9,496.2 933.1,499.9 933.3,494.3 933.5,504.6 933.7,496.9 933.9,496.9 934.1,500.7 934.3,495.5 934.5,501.6 934.7,499.9 934.9,503.5 935.1,498.3 935.3,502.5 935.5,496.9 935.7,498.3 935.9,501.6 936.1,499.1 936.3,496.9 936.5,497.6 936.7,496.2 936.9,496.9 937.1,501.6 937.3,502.5 937.5,505.7 937.7,497.6 937.9,493.8 938.1,498.3 938.3,496.9 938.5,496.9 938.7,498.3 938.9,499.9 939.1,500.7 939.3,500.7 939.5,504.6 939.7,496.9 939.9,503.5 940.1,498.3 940.4,496.9 940.6,498.3 940.8,501.6 941.0,504.6 941.2,508.2 941.4,506.9 941.6,497.6 941.8,503.5 942.0,495.5 942.2,503.5 942.4,499.1 942.6,494.3 942.8,499.1 943.0,494.9 943.2,506.9 943.4,501.6 943.6,509.7 943.8,496.9 944.0,503.5 944.2,499.1 944.4,499.1 944.6,499.9 944.8,497.6 945.0,505.7 945.2,501.6 945.4,503.5 945.6,494.3 945.8,496.2 946.0,496.2 946.2,495.5 946.4,505.7 946.6,498.3 946.8,498.3 947.0,496.9 947.2,494.3 947.4,508.2 947.6,498.3 947.8,499.1 948.0,494.9 948.2,500.7 948.4,495.5 948.6,492.7 948.8,502.5 949.0,497.6 949.2,498.3 949.4,494.9 949.6,499.1 949.8,500.7 950.0,498.3 950.3,506.9 950.5,499.1 950.7,498.3 950.9,499.1 951.1,498.3 951.3,499.1 951.5,508.2 951.7,500.7 951.9,508.2 952.1,503.5 952.3,496.9 952.5,500.7 952.7,505.7 952.9,497.6 953.1,505.7 953.3,499.1 953.5,499.1 953.7,496.9 953.9,498.3 954.1,496.9 954.3,499.1 954.5,495.5 954.7,499.1 954.9,503.5 955.1,501.6 955.3,504.6 955.5,499.9 955.7,502.5 955.9,499.9 956.1,494.3 956.3,503.5 956.5,499.1 956.7,499.1 956.9,494.9 957.1,503.5 957.3,497.6 957.5,493.8 957.7,504.6 957.9,499.1 958.1,499.9 958.3,492.7 958.5,498.3 958.7,499.9 958.9,502.5 959.1,499.1 959.3,494.3 959.5,497.6 959.7,494.9 959.9,503.5 960.1,505.7 960.4,492.7 960.6,499.1 960.8,503.5 961.0,499.9 961.2,498.3 961.4,500.7 961.6,502.5 961.8,494.9 962.0,496.9 962.2,501.6 962.4,499.1 962.6,496.2 962.8,496.9 963.0,494.9 963.2,499.1 963.4,497.6 963.6,494.9 963.8,506.9 964.0,499.1 964.2,504.6 964.4,505.7 964.6,503.5 964.8,493.2 965.0,508.2 965.2,506.9 965.4,504.6 965.6,499.1 965.8,497.6 966.0,501.6 966.2,509.7 966.4,499.9 966.6,496.2 966.8,499.1 967.0,508.2 967.2,505.7 967.4,506.9 967.6,494.9 967.8,496.9 968.0,500.7 968.2,497.6 968.4,496.9 968.6,500.7 968.8,505.7 969.0,500.7 969.2,499.9 969.4,493.8 969.6,502.5 969.8,497.6 970.0,501.6 970.2,499.1 970.5,493.8 970.7,504.6 970.9,496.2 971.1,501.6 971.3,504.6 971.5,499.9 971.7,497.6 971.9,502.5 972.1,499.1 972.3,496.9 972.5,497.6 972.7,506.9 972.9,497.6 973.1,501.6 973.3,498.3 973.5,499.9 973.7,506.9 973.9,497.6 974.1,493.8 974.3,501.6 974.5,500.7 974.7,491.1 974.9,499.9 975.1,499.9 975.3,501.6 975.5,503.5 975.7,501.6 975.9,499.1 976.1,497.6 976.3,494.9 976.5,500.7 976.7,496.9 976.9,497.6 977.1,500.7 977.3,498.3 977.5,504.6 977.7,494.9 977.9,493.8 978.1,503.5 978.3,499.9 978.5,505.7 978.7,496.2 978.9,496.9 979.1,498.3 979.3,499.9 979.5,503.5 979.7,503.5 979.9,500.7 980.1,496.2 980.3,498.3 980.6,500.7 980.8,496.2 981.0,498.3 981.2,499.9 981.4,502.5 981.6,490.2 981.8,498.3 982.0,496.9 982.2,502.5 982.4,493.2 982.6,501.6 982.8,496.9 983.0,494.3 983.2,493.2 983.4,492.1 983.6,490.2 983.8,488.1 984.0,483.3 984.2,479.3 984.4,478.6 984.6,475.4 984.8,473.0 985.0,471.2 985.2,467.8 985.4,463.6 985.6,462.5 985.8,460.7 986.0,461.5 986.2,459.6 986.4,457.8 986.6,458.7 986.8,458.9 987.0,459.1 987.2,459.5 987.4,461.7 987.6,464.7 987.8,465.0 988.0,469.4 988.2,469.9 988.4,475.7 988.6,476.3 988.8,480.5 989.0,485.8 989.2,488.5 989.4,485.8 989.6,494.3 989.8,487.3 990.0,496.2 990.2,494.3 990.4,494.9 990.7,495.5 990.9,499.9 991.1,499.1 991.3,498.3 991.5,497.6 991.7,501.6 991.9,497.6 992.1,498.3 992.3,498.3 992.5,494.9 992.7,497.6 992.9,499.1 993.1,498.3 993.3,502.5 993.5,500.7 993.7,497.6 993.9,495.5 994.1,499.9 994.3,493.8 994.5,498.3 994.7,495.5 994.9,502.5 995.1,500.7 995.3,498.3 995.5,495.5 995.7,501.6 995.9,500.7 996.1,495.5 996.3,500.7 996.5,499.1 996.7,501.6 996.9,503.5 997.1,503.5 997.3,499.9 997.5,494.9 997.7,502.5 997.9,493.2 998.1,494.3 998.3,505.7 998.5,503.5 998.7,500.7 998.9,499.1 999.1,496.9 999.3,508.2 999.5,499.1 999.7,498.3 999.9,494.3 1000.1,496.9 1000.3,500.7 1000.6,496.9 1000.8,494.3 1001.0,500.7 1001.2,496.9 1001.4,499.9 1001.6,496.2 1001.8,498.3 1002.0,504.6 1002.2,501.6 1002.4,502.5 1002.6,505.7 1002.8,502.5 1003.0,495.5 1003.2,499.9 1003.4,495.5 1003.6,503.5 1003.8,499.1 1004.0,495.5 1004.2,503.5 1004.4,495.5 1004.6,500.7 1004.8,503.5 1005.0,498.3 1005.2,503.5 1005.4,508.2 1005.6,501.6 1005.8,499.1 1006.0,504.6 1006.2,503.5 1006.4,496.9 1006.6,500.7 1006.8,496.9 1007.0,497.6 1007.2,499.1 1007.4,500.7 1007.6,499.9 1007.8,499.1 1008.0,494.9 1008.2,495.5 1008.4,501.6 1008.6,500.7 1008.8,496.2 1009.0,505.7 1009.2,500.7 1009.4,500.7 1009.6,505.7 1009.8,505.7 1010.0,491.1 1010.2,496.2 1010.4,496.2 1010.7,503.5 1010.9,499.1 1011.1,502.5 1011.3,502.5 1011.5,500.7 1011.7,497.6 1011.9,498.3 1012.1,503.5 1012.3,497.6 1012.5,494.3 1012.7,496.2 1012.9,496.2 1013.1,503.5 1013.3,498.3 1013.5,497.6 1013.7,493.2 1013.9,496.9 1014.1,499.9 1014.3,496.9 1014.5,499.9 1014.7,494.3 1014.9,496.9 1015.1,499.1 1015.3,496.2 1015.5,498.3 1015.7,506.9 1015.9,495.5 1016.1,498.3 1016.3,497.6 1016.5,500.7 1016.7,496.9 1016.9,501.6 1017.1,508.2 1017.3,501.6 1017.5,501.6 1017.7,497.6 1017.9,501.6 1018.1,497.6 1018.3,493.2 1018.5,501.6 1018.7,500.7 1018.9,502.5 1019.1,508.2 1019.3,501.6 1019.5,501.6 1019.7,497.6 1019.9,506.9 1020.1,501.6 1020.3,497.6 1020.5,506.9 1020.8,496.9 1021.0,497.6 1021.2,500.7 1021.4,498.3 1021.6,498.3 1021.8,501.6 1022.0,495.5 1022.2,494.9 1022.4,504.6 1022.6,495.5 1022.8,498.3 1023.0,499.9 1023.2,501.6 1023.4,493.2 1023.6,501.6 1023.8,499.9 1024.0,502.5 1024.2,505.7 1024.4,495.5 1024.6,494.9 1024.8,499.9 1025.0,496.2 1025.2,503.5 1025.4,505.7 1025.6,492.1 1025.8,498.3 1026.0,498.3 1026.2,499.9 1026.4,502.5 1026.6,496.2 1026.8,494.9 1027.0,501.6 1027.2,504.6 1027.4,496.9 1027.6,497.6 1027.8,501.6 1028.0,499.1 1028.2,501.6 1028.4,501.6 1028.6,502.5 1028.8,500.7 1029.0,496.2 1029.2,493.2 1029.4,496.2 1029.6,503.5 1029.8,496.9 1030.0,503.5 1030.2,505.7 1030.4,500.7 1030.6,499.1 1030.9,496.9 1031.1,496.9 1031.3,499.1 1031.5,500.7 1031.7,497.6 1031.9,493.2 1032.1,501.6 1032.3,499.1 1032.5,494.3 1032.7,499.1 1032.9,503.5 1033.1,493.2 1033.3,502.5 1033.5,494.3 1033.7,496.2 1033.9,502.5 1034.1,494.9 1034.3,500.7 1034.5,498.3 1034.7,506.9 1034.9,509.7 1035.1,506.9 1035.3,499.1 1035.5,497.6 1035.7,497.6 1035.9,503.5 1036.1,509.7 1036.3,496.2 1036.5,501.6 1036.7,500.7 1036.9,498.3 1037.1,499.9 1037.3,496.9 1037.5,498.3 1037.7,499.9 1037.9,499.1 1038.1,496.2 1038.3,501.6 1038.5,504.6 1038.7,497.6 1038.9,498.3 1039.1,505.7 1039.3,495.5 1039.5,500.7 1039.7,495.5 1039.9,501.6 1040.1,511.2 1040.3,497.6 1040.5,502.5 1040.8,495.5 1041.0,495.5 1041.2,503.5 1041.4,502.5 1041.6,497.6 1041.8,498.3 1042.0,502.5 1042.2,501.6 1042.4,502.5 1042.6,499.1 1042.8,494.9 1043.0,496.2 1043.2,501.6 1043.4,498.3 1043.6,504.6 1043.8,496.9 1044.0,501.6 1044.2,495.5 1044.4,504.6 1044.6,502.5 1044.8,494.3 1045.0,498.3 1045.2,494.3 1045.4,496.9 1045.6,500.7 1045.8,497.6 1046.0,499.9 1046.2,498.3 1046.4,499.9 1046.6,498.3 1046.8,501.6 1047.0,499.9 1047.2,497.6 1047.4,499.9 1047.6,500.7 1047.8,496.2 1048.0,498.3 1048.2,502.5 1048.4,499.9 1048.6,499.1 1048.8,501.6 1049.0,499.1 1049.2,502.5 1049.4,499.9 1049.6,496.9 1049.8,495.5 1050.0,500.7 1050.2,496.9 1050.4,494.9 1050.6,496.9 1050.9,496.2 1051.1,502.5 1051.3,500.7 1051.5,505.7 1051.7,500.7 1051.9,497.6 1052.1,497.6 1052.3,502.5 1052.5,497.6 1052.7,503.5 1052.9,503.5 1053.1,506.9 1053.3,492.7 1053.5,494.3 1053.7,497.6 1053.9,495.5 1054.1,493.2 1054.3,499.9 1054.5,495.5 1054.7,504.6 1054.9,494.9 1055.1,503.5 1055.3,499.1 1055.5,497.6 1055.7,496.9 1055.9,500.7 1056.1,494.9 1056.3,499.9 1056.5,501.6 1056.7,499.1 1056.9,496.9 1057.1,499.1 1057.3,500.7 1057.5,497.6 1057.7,497.6 1057.9,492.7 1058.1,493.8 1058.3,499.9 1058.5,500.7 1058.7,495.5 1058.9,495.5 1059.1,496.2 1059.3,503.5 1059.5,492.1 1059.7,503.5 1059.9,499.1 1060.1,503.5 1060.3,497.6 1060.5,498.3 1060.7,497.6 1061.0,495.5 1061.2,502.5 1061.4,508.2 1061.6,500.7 1061.8,499.1 1062.0,499.9 1062.2,495.5 1062.4,496.9 1062.6,499.1 1062.8,502.5 1063.0,499.1 1063.2,499.9 1063.4,499.1 1063.6,492.7 1063.8,497.6 1064.0,499.1 1064.2,496.2 1064.4,496.9 1064.6,503.5 1064.8,502.5 1065.0,499.9 1065.2,496.2 1065.4,493.2 1065.6,497.6 1065.8,499.1 1066.0,501.6 1066.2,499.9 1066.4,492.7 1066.6,492.7 1066.8,503.5 1067.0,497.6 1067.2,497.6 1067.4,493.2 1067.6,496.9 1067.8,503.5 1068.0,499.9 1068.2,499.9 1068.4,497.6 1068.6,494.9 1068.8,499.9 1069.0,502.5 1069.2,504.6 1069.4,496.2 1069.6,494.9 1069.8,502.5 1070.0,494.9 1070.2,503.5 1070.4,501.6 1070.6,495.5 1070.8,498.3 1071.1,500.7 1071.3,502.5 1071.5,501.6 1071.7,499.1 1071.9,496.9 1072.1,496.9 1072.3,498.3 1072.5,496.9 1072.7,499.1 1072.9,492.7 1073.1,496.9 1073.3,494.3 1073.5,496.2 1073.7,502.5 1073.9,496.9 1074.1,499.9 1074.3,496.9 1074.5,501.6 1074.7,493.8 1074.9,506.9 1075.1,499.1 1075.3,497.6 1075.5,489.3 1075.7,495.5 1075.9,503.5 1076.1,498.3 1076.3,504.6 1076.5,499.9 1076.7,500.7 1076.9,497.6 1077.1,499.9 1077.3,491.6 1077.5,496.2 1077.7,496.9 1077.9,501.6 1078.1,494.9 1078.3,495.5 1078.5,493.8 1078.7,501.6 1078.9,492.7 1079.1,502.5 1079.3,496.9 1079.5,499.9 1079.7,498.3 1079.9,497.6 1080.1,496.2 1080.3,501.6 1080.5,494.9 1080.7,498.3 1080.9,511.2 1081.2,505.7 1081.4,496.2 1081.6,500.7 1081.8,499.1 1082.0,497.6 1082.2,497.6 1082.4,499.1 1082.6,504.6 1082.8,508.2 1083.0,503.5 1083.2,501.6 1083.4,503.5 1083.6,499.1 1083.8,498.3 1084.0,498.3 1084.2,497.6 1084.4,497.6 1084.6,495.5 1084.8,497.6 1085.0,503.5 1085.2,502.5 1085.4,494.3 1085.6,498.3 1085.8,499.9 1086.0,500.7 1086.2,493.2 1086.4,499.1 1086.6,497.6 1086.8,501.6 1087.0,490.7 1087.2,500.7 1087.4,497.6 1087.6,500.7 1087.8,497.6 1088.0,498.3 1088.2,513.0 1088.4,496.9 1088.6,506.9 1088.8,499.9 1089.0,497.6 1089.2,496.2 1089.4,495.5 1089.6,500.7 1089.8,497.6 1090.0,503.5 1090.2,499.9 1090.4,501.6 1090.6,499.1 1090.8,496.2 1091.1,496.9 1091.3,500.7 1091.5,496.9 1091.7,501.6 1091.9,495.5 1092.1,505.7 1092.3,492.7 1092.5,499.9 1092.7,496.2 1092.9,499.9 1093.1,499.9 1093.3,495.5 1093.5,493.8 1093.7,493.8 1093.9,502.5 1094.1,498.3 1094.3,496.9 1094.5,501.6 1094.7,495.5 1094.9,498.3 1095.1,496.2 1095.3,495.5 1095.5,499.1 1095.7,494.9 1095.9,498.3 1096.1,496.2 1096.3,494.9 1096.5,501.6 1096.7,495.5 1096.9,498.3 1097.1,497.6 1097.3,493.2 1097.5,498.3 1097.7,492.7 1097.9,496.2 1098.1,496.9 1098.3,499.9 1098.5,502.5 1098.7,496.2 1098.9,493.2 1099.1,495.5 1099.3,499.1 1099.5,494.3 1099.7,501.6 1099.9,496.9 1100.1,496.9 1100.3,496.2 1100.5,495.5 1100.7,497.6 1100.9,496.2 1101.2,494.9 1101.4,499.1 1101.6,496.9 1101.8,494.3 1102.0,496.2 1102.2,499.1 1102.4,495.5 1102.6,496.2 1102.8,499.9 1103.0,500.7 1103.2,497.6 1103.4,496.2 1103.6,496.2 1103.8,492.1 1104.0,499.1 1104.2,496.9 1104.4,502.5 1104.6,497.6 1104.8,493.8 1105.0,496.9 1105.2,488.9 1105.4,499.1 1105.6,489.8 1105.8,501.6 1106.0,496.9 1106.2,498.3 1106.4,493.8 1106.6,492.1 1106.8,495.5 1107.0,501.6 1107.2,498.3 1107.4,492.7 1107.6,501.6 1107.8,497.6 1108.0,499.1 1108.2,493.2 1108.4,496.9 1108.6,497.6 1108.8,496.9 1109.0,491.6 1109.2,494.9 1109.4,499.1 1109.6,496.9 1109.8,497.6 1110.0,494.3 1110.2,491.6 1110.4,493.8 1110.6,499.1 1110.8,497.6 1111.0,493.8 1111.3,489.8 1111.5,493.8 1111.7,495.5 1111.9,494.9 1112.1,494.9 1112.3,490.2 1112.5,496.2 1112.7,491.1 1112.9,493.8 1113.1,494.3 1113.3,492.7 1113.5,492.7 1113.7,497.6 1113.9,490.2 1114.1,495.5 1114.3,498.3 1114.5,496.9 1114.7,494.3 1114.9,496.2 1115.1,494.9 1115.3,488.1 1115.5,493.2 1115.7,495.5 1115.9,496.9 1116.1,499.9 1116.3,493.2 1116.5,491.6 1116.7,491.6 1116.9,494.9 1117.1,492.1 1117.3,491.1 1117.5,492.7 1117.7,496.2 1117.9,497.6 1118.1,488.5 1118.3,489.8 1118.5,490.7 1118.7,496.2 1118.9,487.3 1119.1,488.5 1119.3,494.9 1119.5,491.6 1119.7,493.2 1119.9,493.8 1120.1,494.9 1120.3,490.7 1120.5,491.6 1120.7,491.6 1120.9,498.3 1121.1,496.9 1121.4,492.7 1121.6,491.1 1121.8,494.9 1122.0,490.7 1122.2,485.2 1122.4,491.6 1122.6,492.1 1122.8,494.9 1123.0,488.1 1123.2,493.2 1123.4,496.2 1123.6,486.5 1123.8,484.2 1124.0,495.5 1124.2,493.8 1124.4,493.2 1124.6,493.2 1124.8,492.7 1125.0,484.8 1125.2,493.2 1125.4,488.9 1125.6,493.2 1125.8,491.6 1126.0,489.3 1126.2,488.9 1126.4,486.9 1126.6,491.6 1126.8,490.2 1127.0,490.7 1127.2,491.1 1127.4,491.1 1127.6,490.2 1127.8,484.2 1128.0,488.1 1128.2,489.8 1128.4,486.9 1128.6,487.7 1128.8,494.3 1129.0,484.8 1129.2,486.2 1129.4,494.3 1129.6,484.2 1129.8,484.5 1130.0,483.0 1130.2,481.8 1130.4,487.3 1130.6,483.3 1130.8,489.3 1131.0,487.7 1131.3,485.8 1131.5,486.2 1131.7,486.5 1131.9,484.5 1132.1,484.5 1132.3,487.7 1132.5,487.7 1132.7,484.5 1132.9,485.5 1133.1,483.6 1133.3,481.3 1133.5,478.8 1133.7,481.3 1133.9,482.7 1134.1,483.9 1134.3,482.1 1134.5,483.6 1134.7,480.8 1134.9,479.1 1135.1,476.9 1135.3,481.6 1135.5,480.0 1135.7,480.3 1135.9,477.1 1136.1,480.3 1136.3,476.9 1136.5,478.8 1136.7,474.6 1136.9,476.5 1137.1,476.5 1137.3,477.5 1137.5,476.9 1137.7,474.5 1137.9,475.4 1138.1,473.1 1138.3,473.1 1138.5,471.3 1138.7,471.6 1138.9,472.2 1139.1,468.9 1139.3,472.2 1139.5,469.8 1139.7,467.1 1139.9,468.3 1140.1,467.9 1140.3,468.2 1140.5,466.9 1140.7,467.6 1140.9,465.7 1141.1,464.8 1141.4,464.0 1141.6,462.9 1141.8,460.9 1142.0,463.3 1142.2,457.0 1142.4,456.7 1142.6,455.4 1142.8,451.7 1143.0,450.0 1143.2,445.6 1143.4,438.1 1143.6,433.8 1143.8,428.8 1144.0,424.3 1144.2,418.8 1144.4,414.3 1144.6,410.4 1144.8,406.8 1145.0,404.0 1145.2,401.3 1145.4,399.8 1145.6,398.7 1145.8,397.8 1146.0,398.0 1146.2,398.7 1146.4,400.1 1146.6,401.8 1146.8,404.4 1147.0,406.9 1147.2,410.3 1147.4,414.4 1147.6,417.5 1147.8,422.2 1148.0,425.7 1148.2,428.5 1148.4,430.3 1148.6,432.5 1148.8,432.6 1149.0,431.6 1149.2,428.7 1149.4,421.2 1149.6,408.3 1149.8,391.9 1150.0,375.9 1150.2,360.8 1150.4,347.7 1150.6,336.5 1150.8,327.3 1151.0,320.2 1151.2,315.1 1151.5,312.0 1151.7,311.0 1151.9,312.0 1152.1,315.1 1152.3,320.2 1152.5,327.3 1152.7,336.5 1152.9,347.7 1153.1,360.8 1153.3,375.6 1153.5,392.1 1153.7,408.0 1153.9,421.7 1154.1,430.6 1154.3,435.7 1154.5,438.1 1154.7,439.4 1154.9,441.7 1155.1,442.9 1155.3,444.6 1155.5,445.0 1155.7,447.6 1155.9,447.9 1156.1,450.7 1156.3,451.2 1156.5,451.4 1156.7,453.9 1156.9,454.9 1157.1,457.0 1157.3,455.9 1157.5,458.0 1157.7,457.7 1157.9,458.8 1158.1,458.7 1158.3,460.5 1158.5,463.8 1158.7,462.3 1158.9,463.7 1159.1,464.2 1159.3,465.5 1159.5,465.8 1159.7,466.5 1159.9,466.6 1160.1,469.1 1160.3,467.4 1160.5,468.4 1160.7,467.4 1160.9,472.8 1161.1,470.2 1161.3,468.3 1161.6,471.2 1161.8,472.5 1162.0,471.6 1162.2,474.1 1162.4,472.5 1162.6,474.6 1162.8,476.5 1163.0,475.7 1163.2,475.5 1163.4,476.3 1163.6,478.0 1163.8,476.7 1164.0,479.5 1164.2,481.3 1164.4,478.4 1164.6,478.8 1164.8,479.1 1165.0,480.3 1165.2,477.3 1165.4,484.5 1165.6,482.4 1165.8,480.3 1166.0,480.3 1166.2,486.9 1166.4,480.3 1166.6,483.6 1166.8,479.5 1167.0,483.3 1167.2,482.7 1167.4,482.4 1167.6,486.2 1167.8,484.8 1168.0,482.7 1168.2,480.5 1168.4,483.6 1168.6,483.9 1168.8,489.3 1169.0,486.5 1169.2,481.8 1169.4,487.7 1169.6,485.8 1169.8,481.8 1170.0,492.7 1170.2,486.2 1170.4,488.9 1170.6,492.1 1170.8,489.8 1171.0,487.7 1171.2,485.5 1171.5,486.9 1171.7,483.3 1171.9,484.8 1172.1,486.9 1172.3,486.9 1172.5,493.2 1172.7,489.3 1172.9,488.9 1173.1,482.1 1173.3,489.3 1173.5,489.3 1173.7,485.8 1173.9,488.9 1174.1,493.2 1174.3,493.8 1174.5,487.3 1174.7,486.2 1174.9,490.2 1175.1,483.9 1175.3,493.2 1175.5,489.3 1175.7,492.1 1175.9,487.7 1176.1,490.7 1176.3,491.6 1176.5,494.9 1176.7,491.6 1176.9,488.9 1177.1,488.1 1177.3,489.8 1177.5,491.1 1177.7,493.2 1177.9,492.1 1178.1,499.9 1178.3,487.3 1178.5,492.7 1178.7,488.9 1178.9,501.6 1179.1,494.3 1179.3,493.2 1179.5,493.2 1179.7,495.5 1179.9,493.8 1180.1,497.6 1180.3,500.7 1180.5,492.1 1180.7,491.1 1180.9,499.9 1181.1,493.2 1181.3,491.6 1181.6,500.7 1181.8,496.9 1182.0,497.6 1182.2,497.6 1182.4,489.8 1182.6,489.3 1182.8,493.8 1183.0,498.3 1183.2,487.7 1183.4,494.9 1183.6,496.9 1183.8,502.5 1184.0,496.2 1184.2,491.1 1184.4,499.1 1184.6,499.1 1184.8,495.5 1185.0,496.2 1185.2,494.9 1185.4,500.7 1185.6,495.5 1185.8,499.9 1186.0,493.2 1186.2,494.9 1186.4,501.6 1186.6,499.9 1186.8,496.2 1187.0,499.9 1187.2,496.9 1187.4,493.2 1187.6,496.2 1187.8,496.9 1188.0,499.9 1188.2,496.9 1188.4,492.7 1188.6,505.7 1188.8,502.5 1189.0,496.2 1189.2,499.1 1189.4,493.8 1189.6,499.9 1189.8,497.6 1190.0,493.2 1190.2,489.8 1190.4,497.6 1190.6,494.3 1190.8,495.5 1191.0,495.5 1191.2,499.9 1191.4,499.1 1191.7,496.2 1191.9,494.3 1192.1,496.9 1192.3,499.1 1192.5,495.5 1192.7,498.3 1192.9,498.3 1193.1,497.6 1193.3,500.7 1193.5,504.6 1193.7,504.6 1193.9,498.3 1194.1,497.6 1194.3,496.2 1194.5,499.9 1194.7,504.6 1194.9,502.5 1195.1,498.3 1195.3,496.9 1195.5,492.7 1195.7,495.5 1195.9,496.2 1196.1,494.9 1196.3,496.9 1196.5,497.6 1196.7,497.6 1196.9,500.7 1197.1,497.6 1197.3,495.5 1197.5,499.9 1197.7,495.5 1197.9,505.7 1198.1,503.5 1198.3,501.6 1198.5,494.9 1198.7,496.9 1198.9,498.3 1199.1,508.2 1199.3,504.6 1199.5,494.3 1199.7,506.9 1199.9,503.5 1200.1,503.5 1200.3,503.5 1200.5,502.5 1200.7,502.5 1200.9,497.6 1201.1,495.5 1201.3,500.7 1201.5,502.5 1201.8,498.3 1202.0,503.5 1202.2,509.7 1202.4,496.9 1202.6,494.3 1202.8,499.1 1203.0,505.7 1203.2,496.9 1203.4,500.7 1203.6,497.6 1203.8,494.3 1204.0,499.9 1204.2,501.6 1204.4,496.2 1204.6,499.9 1204.8,503.5 1205.0,494.3 1205.2,496.2 1205.4,499.1 1205.6,509.7 1205.8,504.6 1206.0,497.6 1206.2,496.9 1206.4,502.5 1206.6,500.7 1206.8,501.6 1207.0,504.6 1207.2,503.5 1207.4,493.8 1207.6,500.7 1207.8,499.9 1208.0,500.7 1208.2,500.7 1208.4,501.6 1208.6,499.9 1208.8,499.1 1209.0,500.7 1209.2,500.7 1209.4,504.6 1209.6,505.7 1209.8,495.5 1210.0,496.9 1210.2,498.3 1210.4,501.6 1210.6,502.5 1210.8,491.6 1211.0,496.9 1211.2,503.5 1211.4,499.9 1211.6,501.6 1211.9,498.3 1212.1,502.5 1212.3,501.6 1212.5,514.9 1212.7,502.5 1212.9,502.5 1213.1,494.3 1213.3,501.6 1213.5,503.5 1213.7,503.5 1213.9,498.3 1214.1,504.6 1214.3,498.3 1214.5,496.2 1214.7,499.1 1214.9,501.6 1215.1,499.1 1215.3,508.2 1215.5,505.7 1215.7,506.9 1215.9,502.5 1216.1,508.2 1216.3,505.7 1216.5,508.2 1216.7,501.6 1216.9,506.9 1217.1,501.6 1217.3,501.6 1217.5,501.6 1217.7,499.9 1217.9,501.6 1218.1,505.7 1218.3,500.7 1218.5,496.9 1218.7,501.6 1218.9,497.6 1219.1,500.7 1219.3,500.7 1219.5,497.6 1219.7,506.9 1219.9,501.6 1220.1,502.5 1220.3,498.3 1220.5,502.5 1220.7,497.6 1220.9,505.7 1221.1,502.5 1221.3,508.2 1221.5,502.5 1221.8,493.2 1222.0,500.7 1222.2,506.9 1222.4,499.1 1222.6,499.1 1222.8,502.5 1223.0,502.5 1223.2,494.9 1223.4,501.6 1223.6,502.5 1223.8,503.5 1224.0,498.3 1224.2,503.5 1224.4,504.6 1224.6,503.5 1224.8,497.6 1225.0,513.0 1225.2,508.2 1225.4,508.2 1225.6,508.2 1225.8,502.5 1226.0,500.7 1226.2,501.6 1226.4,499.1 1226.6,500.7 1226.8,509.7 1227.0,509.7 1227.2,506.9 1227.4,496.2 1227.6,499.9 1227.8,499.1 1228.0,501.6 1228.2,499.1 1228.4,505.7 1228.6,502.5 1228.8,514.9 1229.0,498.3 1229.2,500.7 1229.4,504.6 1229.6,500.7 1229.8,501.6 1230.0,504.6 1230.2,499.1 1230.4,504.6 1230.6,506.9 1230.8,513.0 1231.0,498.3 1231.2,511.2 1231.4,501.6 1231.6,511.2 1231.9,499.9 1232.1,504.6 1232.3,508.2 1232.5,503.5 1232.7,511.2 1232.9,503.5 1233.1,496.9 1233.3,501.6 1233.5,502.5 1233.7,500.7 1233.9,503.5 1234.1,505.7 1234.3,499.9 1234.5,506.9 1234.7,499.9 1234.9,505.7 1235.1,500.7 1235.3,505.7 1235.5,503.5 1235.7,508.2 1235.9,505.7 1236.1,503.5 1236.3,503.5 1236.5,503.5 1236.7,506.9 1236.9,498.3 1237.1,501.6 1237.3,501.6 1237.5,504.6 1237.7,505.7 1237.9,502.5 1238.1,497.6 1238.3,500.7 1238.5,496.9 1238.7,499.9 1238.9,503.5 1239.1,511.2 1239.3,499.9 1239.5,497.6 1239.7,504.6 1239.9,506.9 1240.1,504.6 1240.3,502.5 1240.5,503.5 1240.7,501.6 1240.9,500.7 1241.1,503.5 1241.3,498.3 1241.5,502.5 1241.7,502.5 1242.0,509.7 1242.2,499.1 1242.4,499.1 1242.6,509.7 1242.8,499.9 1243.0,505.7 1243.2,503.5 1243.4,497.6 1243.6,498.3 1243.8,501.6 1244.0,514.9 1244.2,504.6 1244.4,504.6 1244.6,509.7 1244.8,500.7 1245.0,499.1 1245.2,508.2 1245.4,500.7 1245.6,506.9 1245.8,504.6 1246.0,506.9 1246.2,508.2 1246.4,511.2 1246.6,509.7 1246.8,497.6 1247.0,503.5 1247.2,503.5 1247.4,502.5 1247.6,493.2 1247.8,509.7 1248.0,504.6 1248.2,499.1 1248.4,505.7 1248.6,501.6 1248.8,509.7 1249.0,503.5 1249.2,505.7 1249.4,497.6 1249.6,501.6 1249.8,500.7 1250.0,501.6 1250.2,496.2 1250.4,502.5 1250.6,501.6 1250.8,500.7 1251.0,511.2 1251.2,505.7 1251.4,496.2 1251.6,498.3 1251.8,499.1 1252.1,506.9 1252.3,493.2 1252.5,501.6 1252.7,503.5 1252.9,502.5 1253.1,508.2 1253.3,503.5 1253.5,499.1 1253.7,502.5 1253.9,502.5 1254.1,498.3 1254.3,505.7 1254.5,499.1 1254.7,508.2 1254.9,511.2 1255.1,504.6 1255.3,504.6 1255.5,496.2 1255.7,502.5 1255.9,499.9 1256.1,501.6 1256.3,508.2 1256.5,503.5 1256.7,501.6 1256.9,504.6 1257.1,497.6 1257.3,503.5 1257.5,500.7 1257.7,517.1 1257.9,499.9 1258.1,502.5 1258.3,504.6 1258.5,501.6 1258.7,496.2 1258.9,509.7 1259.1,503.5 1259.3,503.5 1259.5,503.5 1259.7,504.6 1259.9,499.9 1260.1,504.6 1260.3,499.1 1260.5,506.9 1260.7,499.9 1260.9,506.9 1261.1,504.6 1261.3,502.5 1261.5,503.5 1261.7,504.6 1262.0,509.7 1262.2,509.7 1262.4,499.9 1262.6,511.2 1262.8,503.5 1263.0,500.7 1263.2,508.2 1263.4,500.7 1263.6,505.7 1263.8,503.5 1264.0,509.7 1264.2,503.5 1264.4,503.5 1264.6,501.6 1264.8,502.5 1265.0,519.6 1265.2,502.5 1265.4,509.7 1265.6,504.6 1265.8,506.9 1266.0,504.6 1266.2,499.1 1266.4,509.7 1266.6,505.7 1266.8,503.5 1267.0,503.5 1267.2,504.6 1267.4,511.2 1267.6,502.5 1267.8,509.7 1268.0,501.6 1268.2,501.6 1268.4,511.2 1268.6,500.7 1268.8,505.7 1269.0,502.5 1269.2,505.7 1269.4,504.6 1269.6,498.3 1269.8,513.0 1270.0,503.5 1270.2,503.5 1270.4,501.6 1270.6,506.9 1270.8,514.9 1271.0,502.5 1271.2,506.9 1271.4,501.6 1271.6,500.7 1271.8,504.6 1272.1,499.9 1272.3,504.6 1272.5,505.7 1272.7,505.7 1272.9,506.9 1273.1,513.0 1273.3,499.1 1273.5,503.5 1273.7,497.6 1273.9,514.9 1274.1,503.5 1274.3,499.9 1274.5,503.5 1274.7,504.6 1274.9,499.1 1275.1,503.5 1275.3,500.7 1275.5,502.5 1275.7,506.9 1275.9,511.2 1276.1,509.7 1276.3,509.7 1276.5,499.1 1276.7,517.1 1276.9,505.7 1277.1,505.7 1277.3,505.7 1277.5,504.6 1277.7,503.5 1277.9,511.2 1278.1,500.7 1278.3,499.1 1278.5,500.7 1278.7,500.7 1278.9,508.2 1279.1,503.5 1279.3,499.9 1279.5,503.5 1279.7,504.6 1279.9,514.9 1280.1,506.9 1280.3,509.7 1280.5,504.6 1280.7,499.9 1280.9,513.0 1281.1,496.9 1281.3,498.3 1281.5,501.6 1281.7,499.1 1281.9,503.5 1282.2,504.6 1282.4,514.9 1282.6,501.6 1282.8,506.9 1283.0,499.1 1283.2,502.5 1283.4,508.2 1283.6,505.7 1283.8,501.6 1284.0,509.7 1284.2,499.9 1284.4,509.7 1284.6,502.5 1284.8,502.5 1285.0,501.6 1285.2,502.5 1285.4,514.9 1285.6,511.2 1285.8,503.5 1286.0,503.5 1286.2,506.9 1286.4,508.2 1286.6,504.6 1286.8,508.2 1287.0,511.2 1287.2,506.9 1287.4,506.9 1287.6,503.5 1287.8,505.7 1288.0,503.5 1288.2,505.7 1288.4,506.9 1288.6,501.6 1288.8,506.9 1289.0,504.6 1289.2,500.7 1289.4,508.2 1289.6,505.7 1289.8,503.5 1290.0,506.9 1290.2,506.9 1290.4,502.5 1290.6,517.1 1290.8,509.7 1291.0,509.7 1291.2,506.9 1291.4,508.2 1291.6,502.5 1291.8,511.2 1292.0,506.9 1292.3,499.9 1292.5,505.7 1292.7,509.7 1292.9,502.5 1293.1,501.6 1293.3,508.2 1293.5,505.7 1293.7,500.7 1293.9,502.5 1294.1,509.7 1294.3,508.2 1294.5,502.5 1294.7,501.6 1294.9,504.6 1295.1,499.9 1295.3,511.2 1295.5,509.7 1295.7,502.5 1295.9,509.7 1296.1,506.9 1296.3,503.5 1296.5,505.7 1296.7,503.5 1296.9,505.7 1297.1,502.5 1297.3,505.7 1297.5,505.7 1297.7,509.7 1297.9,502.5 1298.1,509.7 1298.3,503.5 1298.5,505.7 1298.7,503.5 1298.9,499.1 1299.1,506.9 1299.3,506.9 1299.5,502.5 1299.7,513.0 1299.9,508.2 1300.1,505.7 1300.3,503.5 1300.5,511.2 1300.7,503.5 1300.9,502.5 1301.1,499.1 1301.3,503.5 1301.5,506.9 1301.7,497.6 1301.9,505.7 1302.1,509.7 1302.4,504.6 1302.6,506.9 1302.8,513.0 1303.0,498.3 1303.2,509.7 1303.4,497.6 1303.6,509.7 1303.8,497.6 1304.0,513.0 1304.2,500.7 1304.4,505.7 1304.6,505.7 1304.8,504.6 1305.0,497.6 1305.2,501.6 1305.4,509.7 1305.6,496.9 1305.8,513.0 1306.0,494.9 1306.2,508.2 1306.4,503.5 1306.6,506.9 1306.8,505.7 1307.0,502.5 1307.2,503.5 1307.4,506.9 1307.6,505.7 1307.8,499.1 1308.0,504.6 1308.2,505.7 1308.4,499.9 1308.6,496.2 1308.8,506.9 1309.0,498.3 1309.2,502.5 1309.4,496.9 1309.6,494.9 1309.8,496.2 1310.0,495.5 1310.2,494.9 1310.4,490.7 1310.6,490.2 1310.8,488.1 1311.0,477.1 1311.2,483.3 1311.4,477.5 1311.6,473.8 1311.8,471.0 1312.0,468.6 1312.3,466.8 1312.5,468.2 1312.7,461.5 1312.9,460.3 1313.1,462.0 1313.3,460.0 1313.5,459.6 1313.7,458.7 1313.9,460.2 1314.1,459.4 1314.3,459.7 1314.5,459.6 1314.7,462.1 1314.9,465.4 1315.1,467.8 1315.3,470.1 1315.5,468.4 1315.7,473.0 1315.9,476.5 1316.1,479.5 1316.3,480.5 1316.5,489.3 1316.7,489.3 1316.9,488.9 1317.1,497.6 1317.3,492.7 1317.5,504.6 1317.7,502.5 1317.9,502.5 1318.1,498.3 1318.3,502.5 1318.5,499.9 1318.7,499.9 1318.9,502.5 1319.1,504.6 1319.3,494.3 1319.5,509.7 1319.7,500.7 1319.9,503.5 1320.1,502.5 1320.3,503.5 1320.5,500.7 1320.7,505.7 1320.9,498.3 1321.1,509.7 1321.3,503.5 1321.5,501.6 1321.7,511.2 1321.9,505.7 1322.1,501.6 1322.4,504.6 1322.6,499.1 1322.8,505.7 1323.0,499.1 1323.2,503.5 1323.4,502.5 1323.6,506.9 1323.8,502.5 1324.0,502.5 1324.2,509.7 1324.4,502.5 1324.6,509.7 1324.8,504.6 1325.0,513.0 1325.2,501.6 1325.4,502.5 1325.6,500.7 1325.8,502.5 1326.0,506.9 1326.2,502.5 1326.4,501.6 1326.6,500.7 1326.8,504.6 1327.0,504.6 1327.2,503.5 1327.4,499.1 1327.6,511.2 1327.8,501.6 1328.0,514.9 1328.2,501.6 1328.4,509.7 1328.6,502.5 1328.8,505.7 1329.0,506.9 1329.2,511.2 1329.4,504.6 1329.6,508.2 1329.8,506.9 1330.0,514.9 1330.2,504.6 1330.4,502.5 1330.6,500.7 1330.8,511.2 1331.0,509.7 1331.2,502.5 1331.4,504.6 1331.6,509.7 1331.8,502.5 1332.0,506.9 1332.2,526.3 1332.5,501.6 1332.7,503.5 1332.9,514.9 1333.1,508.2 1333.3,505.7 1333.5,503.5 1333.7,503.5 1333.9,506.9" fill="none" stroke="#000000" stroke-width="2.2" stroke-linejoin="round"/>
</g>
<rect x="593.3" y="1.0" width="740.7" height="529.0" fill="none" stroke="#000" stroke-width="2.2"/>
<path d="M593.3 518.63h6.5 M593.3 511.98h6.5 M593.3 507.26h6.5 M593.3 503.60h6.5 M593.3 500.61h6.5 M593.3 498.08h6.5 M593.3 495.89h6.5 M593.3 493.95h6.5 M593.3 492.23h12.6 M593.3 480.85h6.5 M593.3 474.20h6.5 M593.3 469.48h6.5 M593.3 465.82h6.5 M593.3 462.83h6.5 M593.3 460.30h6.5 M593.3 458.11h6.5 M593.3 456.18h6.5 M593.3 454.45h12.6 M593.3 443.08h6.5 M593.3 436.43h6.5 M593.3 431.71h6.5 M593.3 428.05h6.5 M593.3 425.06h6.5 M593.3 422.53h6.5 M593.3 420.34h6.5 M593.3 418.40h6.5 M593.3 416.68h12.6 M593.3 405.30h6.5 M593.3 398.65h6.5 M593.3 393.93h6.5 M593.3 390.27h6.5 M593.3 387.28h6.5 M593.3 384.75h6.5 M593.3 382.56h6.5 M593.3 380.63h6.5 M593.3 378.90h12.6 M593.3 367.53h6.5 M593.3 360.88h6.5 M593.3 356.16h6.5 M593.3 352.50h6.5 M593.3 349.51h6.5 M593.3 346.98h6.5 M593.3 344.79h6.5 M593.3 342.85h6.5 M593.3 341.12h12.6 M593.3 329.75h6.5 M593.3 323.10h6.5 M593.3 318.38h6.5 M593.3 314.72h6.5 M593.3 311.73h6.5 M593.3 309.20h6.5 M593.3 307.01h6.5 M593.3 305.08h6.5 M593.3 303.35h12.6 M593.3 291.98h6.5 M593.3 285.33h6.5 M593.3 280.61h6.5 M593.3 276.95h6.5 M593.3 273.96h6.5 M593.3 271.43h6.5 M593.3 269.24h6.5 M593.3 267.30h6.5 M593.3 265.57h12.6 M593.3 254.20h6.5 M593.3 247.55h6.5 M593.3 242.83h6.5 M593.3 239.17h6.5 M593.3 236.18h6.5 M593.3 233.65h6.5 M593.3 231.46h6.5 M593.3 229.53h6.5 M593.3 227.80h12.6 M593.3 216.43h6.5 M593.3 209.78h6.5 M593.3 205.06h6.5 M593.3 201.40h6.5 M593.3 198.41h6.5 M593.3 195.88h6.5 M593.3 193.69h6.5 M593.3 191.75h6.5 M593.3 190.03h12.6 M593.3 178.65h6.5 M593.3 172.00h6.5 M593.3 167.28h6.5 M593.3 163.62h6.5 M593.3 160.63h6.5 M593.3 158.10h6.5 M593.3 155.91h6.5 M593.3 153.98h6.5 M593.3 152.25h12.6 M593.3 140.88h6.5 M593.3 134.23h6.5 M593.3 129.51h6.5 M593.3 125.85h6.5 M593.3 122.86h6.5 M593.3 120.33h6.5 M593.3 118.14h6.5 M593.3 116.20h6.5 M593.3 114.48h12.6 M593.3 103.10h6.5 M593.3 96.45h6.5 M593.3 91.73h6.5 M593.3 88.07h6.5 M593.3 85.08h6.5 M593.3 82.55h6.5 M593.3 80.36h6.5 M593.3 78.43h6.5 M593.3 76.70h12.6 M593.3 65.33h6.5 M593.3 58.68h6.5 M593.3 53.96h6.5 M593.3 50.30h6.5 M593.3 47.31h6.5 M593.3 44.78h6.5 M593.3 42.59h6.5 M593.3 40.65h6.5 M593.3 38.93h12.6 M593.3 27.55h6.5 M593.3 20.90h6.5 M593.3 16.18h6.5 M593.3 12.52h6.5 M593.3 9.53h6.5 M593.3 7.00h6.5 M593.3 4.81h6.5 M593.3 2.88h6.5 M593.30 530.0v-6 M660.64 530.0v-12 M727.97 530.0v-6 M795.31 530.0v-12 M862.65 530.0v-6 M929.98 530.0v-12 M997.32 530.0v-6 M1064.65 530.0v-12 M1131.99 530.0v-6 M1199.33 530.0v-12 M1266.66 530.0v-6 M1334.00 530.0v-12" stroke="#000" stroke-width="2" fill="none"/>
<text transform="translate(644.50,571.50) scale(0.770,1)" font-size="36.8" font-family="Liberation Sans" fill="#000">10</text>
<text transform="translate(779.60,571.50) scale(0.770,1)" font-size="36.8" font-family="Liberation Sans" fill="#000">20</text>
<text transform="translate(914.41,571.50) scale(0.770,1)" font-size="36.8" font-family="Liberation Sans" fill="#000">30</text>
<text transform="translate(1049.37,571.50) scale(0.770,1)" font-size="36.8" font-family="Liberation Sans" fill="#000">40</text>
<text transform="translate(1183.76,571.50) scale(0.770,1)" font-size="36.8" font-family="Liberation Sans" fill="#000">50</text>
<text transform="translate(1318.29,571.50) scale(0.770,1)" font-size="36.8" font-family="Liberation Sans" fill="#000">60</text>
<text transform="translate(558.53,76.20) scale(0.800,1)" font-size="24.5" font-family="Liberation Sans" fill="#000">12</text>
<text transform="translate(527.32,90.20) scale(0.780,1)" font-size="36.3" font-family="Liberation Sans" fill="#000">10</text>
<text transform="translate(569.50,227.30) scale(0.800,1)" font-size="24.5" font-family="Liberation Sans" fill="#000">8</text>
<text transform="translate(537.51,241.30) scale(0.780,1)" font-size="36.3" font-family="Liberation Sans" fill="#000">10</text>
<text transform="translate(569.11,378.40) scale(0.800,1)" font-size="24.5" font-family="Liberation Sans" fill="#000">4</text>
<text transform="translate(536.72,392.40) scale(0.780,1)" font-size="36.3" font-family="Liberation Sans" fill="#000">10</text>
<text transform="translate(608.37,42.00) scale(0.800,1)" font-size="33.3" font-family="Liberation Sans" fill="#000">*: (001) STO sub.</text>
<text transform="translate(608.30,78.00) scale(0.800,1)" font-size="33.3" font-family="Liberation Sans" fill="#000">Annealing temp.= 400</text>
<text transform="translate(867.80,64.50) scale(0.800,1)" font-size="22" font-family="Liberation Sans" fill="#000">o</text>
<text transform="translate(877.77,78.00) scale(0.800,1)" font-size="33.3" font-family="Liberation Sans" fill="#000">C</text>
<text transform="translate(828.52,119.50) scale(0.800,1)" font-size="30" font-family="Liberation Sans" fill="#000">*</text>
<text transform="translate(1147.52,81.50) scale(0.800,1)" font-size="30" font-family="Liberation Sans" fill="#000">*</text>
<text transform="translate(846.77,246.10) scale(0.800,1)" font-size="33.3" font-family="Liberation Sans" fill="#000">H</text>
<text transform="translate(864.14,254.90) scale(0.800,1)" font-size="22" font-family="Liberation Sans" fill="#000">2</text>
<text transform="translate(881.82,246.10) scale(0.800,1)" font-size="33.3" font-family="Liberation Sans" fill="#000">(3%), 100h anneal</text>
<text transform="translate(846.77,327.70) scale(0.800,1)" font-size="33.3" font-family="Liberation Sans" fill="#000">H</text>
<text transform="translate(864.14,336.50) scale(0.800,1)" font-size="22" font-family="Liberation Sans" fill="#000">2</text>
<text transform="translate(881.82,327.70) scale(0.800,1)" font-size="33.3" font-family="Liberation Sans" fill="#000">(3%), 5h anneal</text>
<text transform="translate(846.77,401.10) scale(0.800,1)" font-size="33.3" font-family="Liberation Sans" fill="#000">H</text>
<text transform="translate(864.14,409.90) scale(0.800,1)" font-size="22" font-family="Liberation Sans" fill="#000">2</text>
<text transform="translate(881.82,401.10) scale(0.800,1)" font-size="33.3" font-family="Liberation Sans" fill="#000">(3%), 1h anneal</text>
<text transform="translate(846.97,488.90) scale(0.800,1)" font-size="33.3" font-family="Liberation Sans" fill="#000">BM-SFCO</text>
<text transform="translate(489.00,379.90) rotate(-90) scale(0.790,1)" font-size="36.6" font-family="Liberation Sans" fill="#000">Intensity (arb. units)</text>
<text transform="translate(926.39,628.70) scale(0.800,1)" font-size="35.3" font-family="Liberation Sans" fill="#000">2</text>
<text transform="translate(945.24,628.70) scale(1.000,1)" font-size="35.3" font-style="italic" font-family="Liberation Serif" fill="#000">θ</text>
<text transform="translate(970.01,628.70) scale(0.800,1)" font-size="35.3" font-family="Liberation Sans" fill="#000">(</text>
<text transform="translate(979.90,613.40) scale(0.800,1)" font-size="22" font-family="Liberation Sans" fill="#000">o</text>
<text transform="translate(990.72,628.70) scale(0.800,1)" font-size="35.3" font-family="Liberation Sans" fill="#000">)</text>
<text transform="translate(455.46,51.40) scale(0.850,1)" font-size="52.7" font-weight="bold" font-family="Liberation Sans" fill="#000">b</text>
<rect x="593.3" y="686.8" width="309.7" height="320.6" fill="url(#cbg)"/>
<circle cx="618.8" cy="888.7" r="7.6" fill="#555555"/>
<circle cx="616.7" cy="886.6" r="4.2" fill="url(#hl)"/>
<circle cx="721.0" cy="880.7" r="7.6" fill="#555555"/>
<circle cx="718.9" cy="878.6" r="4.2" fill="url(#hl)"/>
<circle cx="772.0" cy="805.0" r="7.6" fill="#555555"/>
<circle cx="769.9" cy="802.9" r="4.2" fill="url(#hl)"/>
<circle cx="823.1" cy="809.0" r="7.6" fill="#555555"/>
<circle cx="821.0" cy="806.9" r="4.2" fill="url(#hl)"/>
<circle cx="874.2" cy="790.1" r="7.6" fill="#555555"/>
<circle cx="872.1" cy="788.0" r="4.2" fill="url(#hl)"/>
<path d="M593.3 815.50h11.0 M593.3 942.50h11.0 M593.3 752.00h5.5 M593.3 879.00h5.5 M618.83 1005.7v-12.0 M669.90 1005.7v-6.0 M720.97 1005.7v-12.0 M772.03 1005.7v-6.0 M823.10 1005.7v-12.0 M874.17 1005.7v-6.0" stroke="#000" stroke-width="2" fill="none"/>
<rect x="593.3" y="688.3" width="306.4" height="317.4" fill="none" stroke="#000" stroke-width="2.2"/>
<rect x="1027" y="686.8" width="309.8" height="320.8" fill="#ffc000"/>
<circle cx="1055.1" cy="809.3" r="7.6" fill="#008000"/>
<circle cx="1053.0" cy="807.2" r="4.2" fill="url(#hl)"/>
<circle cx="1065.4" cy="790.5" r="7.6" fill="#008000"/>
<circle cx="1063.3" cy="788.4" r="4.2" fill="url(#hl)"/>
<circle cx="1078.2" cy="790.5" r="7.6" fill="#008000"/>
<circle cx="1076.1" cy="788.4" r="4.2" fill="url(#hl)"/>
<circle cx="1129.3" cy="794.7" r="7.6" fill="#008000"/>
<circle cx="1127.2" cy="792.6" r="4.2" fill="url(#hl)"/>
<circle cx="1206.0" cy="798.9" r="7.6" fill="#008000"/>
<circle cx="1203.9" cy="796.8" r="4.2" fill="url(#hl)"/>
<circle cx="1308.3" cy="798.9" r="7.6" fill="#008000"/>
<circle cx="1306.2" cy="796.8" r="4.2" fill="url(#hl)"/>
<path d="M1027.0 815.50h11.0 M1027.0 942.50h11.0 M1027.0 752.00h5.5 M1027.0 879.00h5.5 M1052.58 1005.7v-11.5 M1078.15 1005.7v-5.5 M1103.73 1005.7v-5.5 M1129.30 1005.7v-5.5 M1154.88 1005.7v-11.5 M1180.45 1005.7v-5.5 M1206.03 1005.7v-5.5 M1231.60 1005.7v-5.5 M1257.18 1005.7v-11.5 M1282.75 1005.7v-5.5 M1308.33 1005.7v-5.5" stroke="#000" stroke-width="2" fill="none"/>
<rect x="1027.0" y="688.3" width="306.9" height="317.4" fill="none" stroke="#000" stroke-width="2.2"/>
<text transform="translate(538.85,698.90) scale(0.770,1)" font-size="36.3" font-family="Liberation Sans" fill="#000">4.1</text>
<text transform="translate(541.57,827.00) scale(0.770,1)" font-size="36.3" font-family="Liberation Sans" fill="#000">4.0</text>
<text transform="translate(541.85,954.00) scale(0.770,1)" font-size="36.3" font-family="Liberation Sans" fill="#000">3.9</text>
<text transform="translate(971.75,698.90) scale(0.770,1)" font-size="36.3" font-family="Liberation Sans" fill="#000">4.1</text>
<text transform="translate(974.47,827.00) scale(0.770,1)" font-size="36.3" font-family="Liberation Sans" fill="#000">4.0</text>
<text transform="translate(974.75,954.00) scale(0.770,1)" font-size="36.3" font-family="Liberation Sans" fill="#000">3.9</text>
<text transform="translate(611.01,1046.80) scale(0.770,1)" font-size="36.3" font-family="Liberation Sans" fill="#000">0</text>
<text transform="translate(697.49,1046.80) scale(0.770,1)" font-size="36.3" font-family="Liberation Sans" fill="#000">200</text>
<text transform="translate(800.04,1046.80) scale(0.770,1)" font-size="36.3" font-family="Liberation Sans" fill="#000">400</text>
<text transform="translate(1044.75,1046.80) scale(0.770,1)" font-size="36.3" font-family="Liberation Sans" fill="#000">0</text>
<text transform="translate(1139.50,1046.80) scale(0.770,1)" font-size="36.3" font-family="Liberation Sans" fill="#000">40</text>
<text transform="translate(1241.52,1046.80) scale(0.770,1)" font-size="36.3" font-family="Liberation Sans" fill="#000">80</text>
<text transform="translate(600.50,724.70) scale(0.815,1)" font-size="32.5" font-family="Liberation Sans" fill="#000">Annealing time=1h</text>
<text transform="translate(1033.20,729.20) scale(0.815,1)" font-size="32.5" font-family="Liberation Sans" fill="#000">Annealing temp.=400</text>
<text transform="translate(1284.07,716.00) scale(0.800,1)" font-size="21" font-family="Liberation Sans" fill="#000">o</text>
<text transform="translate(1294.42,729.20) scale(0.815,1)" font-size="32.5" font-family="Liberation Sans" fill="#000">C</text>
<text transform="translate(634.62,1105.00) scale(0.785,1)" font-size="37" font-family="Liberation Sans" fill="#000">Temperature (</text>
<text transform="translate(815.78,1089.70) scale(0.800,1)" font-size="22" font-family="Liberation Sans" fill="#000">o</text>
<text transform="translate(827.54,1105.00) scale(0.785,1)" font-size="37" font-family="Liberation Sans" fill="#000">C)</text>
<text transform="translate(1064.20,1105.00) scale(0.785,1)" font-size="37" font-family="Liberation Sans" fill="#000">Annealing time (h)</text>
<text transform="translate(490.40,884.32) rotate(-90) scale(0.850,1)" font-size="36" font-style="italic" font-family="Liberation Sans" fill="#000">d</text>
<text transform="translate(499.40,868.12) rotate(-90) scale(0.850,1)" font-size="24" font-family="Liberation Sans" fill="#000">c</text>
<text transform="translate(490.40,849.74) rotate(-90) scale(0.850,1)" font-size="36" font-family="Liberation Sans" fill="#000">(Å)</text>
<text transform="translate(938.60,884.32) rotate(-90) scale(0.850,1)" font-size="36" font-style="italic" font-family="Liberation Sans" fill="#000">d</text>
<text transform="translate(947.60,868.12) rotate(-90) scale(0.850,1)" font-size="24" font-family="Liberation Sans" fill="#000">c</text>
<text transform="translate(938.60,849.74) rotate(-90) scale(0.850,1)" font-size="36" font-family="Liberation Sans" fill="#000">(Å)</text>
<text transform="translate(455.67,738.20) scale(0.820,1)" font-size="52.7" font-weight="bold" font-family="Liberation Sans" fill="#000">c</text>
<text transform="translate(906.57,738.10) scale(0.820,1)" font-size="52.7" font-weight="bold" font-family="Liberation Sans" fill="#000">d</text>
<g>
<polygon points="57.1,866.8 28.5,909.8 57.1,952.8 85.7,909.8" fill="#6ebee2"/>
<polygon points="117.4,866.8 88.7,909.8 117.4,952.8 145.1,909.8" fill="#6ebee2"/>
<polygon points="176.1,866.8 148.1,909.8 176.1,952.8 204.7,909.8" fill="#6ebee2"/>
<polygon points="236.4,866.8 207.7,909.8 236.4,952.8 264.4,909.8" fill="#6ebee2"/>
<polygon points="295.8,866.8 267.4,909.8 295.8,952.8 324.3,909.8" fill="#6ebee2"/>
<polygon points="355.3,866.8 327.3,909.8 355.3,952.8 384.0,909.8" fill="#6ebee2"/>
<polygon points="57.1,951.8 28.5,994.8 57.1,1037.8 85.7,994.8" fill="#6ebee2"/>
<polygon points="117.4,951.8 88.7,994.8 117.4,1037.8 145.1,994.8" fill="#6ebee2"/>
<polygon points="176.1,951.8 148.1,994.8 176.1,1037.8 204.7,994.8" fill="#6ebee2"/>
<polygon points="236.4,951.8 207.7,994.8 236.4,1037.8 264.4,994.8" fill="#6ebee2"/>
<polygon points="295.8,951.8 267.4,994.8 295.8,1037.8 324.3,994.8" fill="#6ebee2"/>
<polygon points="355.3,951.8 327.3,994.8 355.3,1037.8 384.0,994.8" fill="#6ebee2"/>
<circle cx="57.1" cy="951.9" r="15.2" fill="url(#gG)"/>
<circle cx="116.8" cy="951.9" r="15.2" fill="url(#gG)"/>
<circle cx="176.1" cy="951.9" r="15.2" fill="url(#gG)"/>
<circle cx="236.4" cy="951.9" r="15.2" fill="url(#gG)"/>
<circle cx="295.0" cy="951.9" r="15.2" fill="url(#gG)"/>
<circle cx="355.3" cy="951.9" r="15.2" fill="url(#gG)"/>
<circle cx="57.1" cy="1036.6" r="15.2" fill="url(#gG)"/>
<circle cx="116.8" cy="1036.6" r="15.2" fill="url(#gG)"/>
<circle cx="176.1" cy="1036.6" r="15.2" fill="url(#gG)"/>
<circle cx="236.4" cy="1036.6" r="15.2" fill="url(#gG)"/>
<circle cx="295.0" cy="1036.6" r="15.2" fill="url(#gG)"/>
<circle cx="355.3" cy="1036.6" r="15.2" fill="url(#gG)"/>
<g clip-path="url(#tealclip)">
<polygon points="117.4,866.8 88.7,909.8 117.4,952.8 145.1,909.8" fill="#00c8aa" fill-opacity="0.85"/>
<polygon points="236.4,866.8 207.7,909.8 236.4,952.8 264.4,909.8" fill="#00c8aa" fill-opacity="0.85"/>
<polygon points="355.3,866.8 327.3,909.8 355.3,952.8 384.0,909.8" fill="#00c8aa" fill-opacity="0.85"/>
<polygon points="117.4,951.8 88.7,994.8 117.4,1037.8 145.1,994.8" fill="#00c8aa" fill-opacity="0.85"/>
<polygon points="236.4,951.8 207.7,994.8 236.4,1037.8 264.4,994.8" fill="#00c8aa" fill-opacity="0.85"/>
<polygon points="355.3,951.8 327.3,994.8 355.3,1037.8 384.0,994.8" fill="#00c8aa" fill-opacity="0.85"/>
</g>
<circle cx="57.1" cy="909.8" r="9.8" fill="url(#gB)"/>
<circle cx="117.4" cy="909.8" r="9.8" fill="url(#gB)"/>
<circle cx="176.1" cy="909.8" r="9.8" fill="url(#gB)"/>
<circle cx="236.4" cy="909.8" r="9.8" fill="url(#gB)"/>
<circle cx="295.8" cy="909.8" r="9.8" fill="url(#gB)"/>
<circle cx="355.3" cy="909.8" r="9.8" fill="url(#gB)"/>
<circle cx="57.1" cy="994.8" r="9.8" fill="url(#gB)"/>
<circle cx="117.4" cy="994.8" r="9.8" fill="url(#gB)"/>
<circle cx="176.1" cy="994.8" r="9.8" fill="url(#gB)"/>
<circle cx="236.4" cy="994.8" r="9.8" fill="url(#gB)"/>
<circle cx="295.8" cy="994.8" r="9.8" fill="url(#gB)"/>
<circle cx="355.3" cy="994.8" r="9.8" fill="url(#gB)"/>
<polygon points="60.0,270.7 8.0,302.5 60.0,334.3" fill="#e2a066"/>
<polygon points="110.0,270.7 162.0,302.5 110.0,334.3" fill="#e2a066"/>
<polygon points="180.0,270.7 128.0,302.5 180.0,334.3" fill="#e2a066"/>
<polygon points="230.8,270.7 282.8,302.5 230.8,334.3" fill="#e2a066"/>
<polygon points="300.6,270.7 248.6,302.5 300.6,334.3" fill="#e2a066"/>
<polygon points="351.0,270.7 403.0,302.5 351.0,334.3" fill="#e2a066"/>
<polygon points="50.0,440.8 102.0,472.6 50.0,504.4" fill="#e2a066"/>
<polygon points="120.0,440.8 68.0,472.6 120.0,504.4" fill="#e2a066"/>
<polygon points="170.0,440.8 222.0,472.6 170.0,504.4" fill="#e2a066"/>
<polygon points="240.8,440.8 188.8,472.6 240.8,504.4" fill="#e2a066"/>
<polygon points="290.6,440.8 342.6,472.6 290.6,504.4" fill="#e2a066"/>
<polygon points="361.0,440.8 309.0,472.6 361.0,504.4" fill="#e2a066"/>
<polygon points="60.0,611.5 8.0,643.3 60.0,675.1" fill="#e2a066"/>
<polygon points="110.0,611.5 162.0,643.3 110.0,675.1" fill="#e2a066"/>
<polygon points="180.0,611.5 128.0,643.3 180.0,675.1" fill="#e2a066"/>
<polygon points="230.8,611.5 282.8,643.3 230.8,675.1" fill="#e2a066"/>
<polygon points="300.6,611.5 248.6,643.3 300.6,675.1" fill="#e2a066"/>
<polygon points="351.0,611.5 403.0,643.3 351.0,675.1" fill="#e2a066"/>
<polygon points="50.0,781.6 102.0,813.4 50.0,845.2" fill="#e2a066"/>
<polygon points="120.0,781.6 68.0,813.4 120.0,845.2" fill="#e2a066"/>
<polygon points="170.0,781.6 222.0,813.4 170.0,845.2" fill="#e2a066"/>
<polygon points="240.8,781.6 188.8,813.4 240.8,845.2" fill="#e2a066"/>
<polygon points="290.6,781.6 342.6,813.4 290.6,845.2" fill="#e2a066"/>
<polygon points="361.0,781.6 309.0,813.4 361.0,845.2" fill="#e2a066"/>
<circle cx="42.0" cy="302.5" r="8.5" fill="#b89878" fill-opacity="0.5"/>
<circle cx="162.0" cy="302.5" r="8.5" fill="#b89878" fill-opacity="0.5"/>
<circle cx="282.6" cy="302.5" r="8.5" fill="#b89878" fill-opacity="0.5"/>
<circle cx="369.0" cy="302.5" r="8.5" fill="#b89878" fill-opacity="0.5"/>
<circle cx="68.0" cy="472.6" r="8.5" fill="#b89878" fill-opacity="0.5"/>
<circle cx="188.0" cy="472.6" r="8.5" fill="#b89878" fill-opacity="0.5"/>
<circle cx="308.6" cy="472.6" r="8.5" fill="#b89878" fill-opacity="0.5"/>
<circle cx="42.0" cy="643.3" r="8.5" fill="#b89878" fill-opacity="0.5"/>
<circle cx="162.0" cy="643.3" r="8.5" fill="#b89878" fill-opacity="0.5"/>
<circle cx="282.6" cy="643.3" r="8.5" fill="#b89878" fill-opacity="0.5"/>
<circle cx="369.0" cy="643.3" r="8.5" fill="#b89878" fill-opacity="0.5"/>
<circle cx="68.0" cy="813.4" r="8.5" fill="#b89878" fill-opacity="0.5"/>
<circle cx="188.0" cy="813.4" r="8.5" fill="#b89878" fill-opacity="0.5"/>
<circle cx="308.6" cy="813.4" r="8.5" fill="#b89878" fill-opacity="0.5"/>
<polygon points="118.0,166.8 86.9,216.0 112.0,268.3 142.7,219.2" fill="#e0e430"/>
<polygon points="238.8,166.8 207.3,216.0 232.8,268.3 263.1,219.2" fill="#e0e430"/>
<polygon points="359.0,166.8 328.4,216.0 353.0,268.3 384.8,219.2" fill="#e0e430"/>
<polygon points="112.0,336.7 86.9,389.3 118.0,438.2 142.7,386.1" fill="#e0e430"/>
<polygon points="232.8,336.7 207.3,389.3 238.8,438.2 263.1,386.1" fill="#e0e430"/>
<polygon points="353.0,336.7 328.4,389.3 359.0,438.2 384.8,386.1" fill="#e0e430"/>
<polygon points="118.0,506.3 86.9,555.9 112.0,609.4 142.7,559.1" fill="#e0e430"/>
<polygon points="238.8,506.3 207.3,555.9 232.8,609.4 263.1,559.1" fill="#e0e430"/>
<polygon points="359.0,506.3 328.4,555.9 353.0,609.4 384.8,559.1" fill="#e0e430"/>
<polygon points="112.0,676.1 86.9,730.1 118.0,779.2 142.7,726.9" fill="#e0e430"/>
<polygon points="232.8,676.1 207.3,730.1 238.8,779.2 263.1,726.9" fill="#e0e430"/>
<polygon points="353.0,676.1 328.4,730.1 359.0,779.2 384.8,726.9" fill="#e0e430"/>
<polygon points="50.0,168.8 26.5,219.2 60.0,266.3 82.9,216.0" fill="#e0e430"/>
<polygon points="170.0,168.8 146.7,219.2 180.0,266.3 203.3,216.0" fill="#e0e430"/>
<polygon points="290.6,168.8 267.1,219.2 300.6,266.3 324.4,216.0" fill="#e0e430"/>
<polygon points="60.0,338.7 26.5,386.1 50.0,436.2 82.9,389.3" fill="#e0e430"/>
<polygon points="180.0,338.7 146.7,386.1 170.0,436.2 203.3,389.3" fill="#e0e430"/>
<polygon points="300.6,338.7 267.1,386.1 290.6,436.2 324.4,389.3" fill="#e0e430"/>
<polygon points="50.0,508.3 26.5,559.1 60.0,607.4 82.9,555.9" fill="#e0e430"/>
<polygon points="170.0,508.3 146.7,559.1 180.0,607.4 203.3,555.9" fill="#e0e430"/>
<polygon points="290.6,508.3 267.1,559.1 300.6,607.4 324.4,555.9" fill="#e0e430"/>
<polygon points="60.0,678.1 26.5,726.9 50.0,777.2 82.9,730.1" fill="#e0e430"/>
<polygon points="180.0,678.1 146.7,726.9 170.0,777.2 203.3,730.1" fill="#e0e430"/>
<polygon points="300.6,678.1 267.1,726.9 290.6,777.2 324.4,730.1" fill="#e0e430"/>
<circle cx="53.5" cy="179.8" r="15.2" fill="url(#gG)"/>
<circle cx="116.4" cy="179.8" r="15.2" fill="url(#gG)"/>
<circle cx="174.5" cy="179.8" r="15.2" fill="url(#gG)"/>
<circle cx="237.4" cy="179.8" r="15.2" fill="url(#gG)"/>
<circle cx="295.6" cy="179.8" r="15.2" fill="url(#gG)"/>
<circle cx="357.0" cy="179.8" r="15.2" fill="url(#gG)"/>
<circle cx="56.6" cy="255.3" r="15.2" fill="url(#gG)"/>
<circle cx="114.8" cy="255.3" r="15.2" fill="url(#gG)"/>
<circle cx="176.1" cy="255.3" r="15.2" fill="url(#gG)"/>
<circle cx="235.8" cy="255.3" r="15.2" fill="url(#gG)"/>
<circle cx="297.2" cy="255.3" r="15.2" fill="url(#gG)"/>
<circle cx="355.3" cy="255.3" r="15.2" fill="url(#gG)"/>
<circle cx="56.6" cy="349.7" r="15.2" fill="url(#gG)"/>
<circle cx="114.8" cy="349.7" r="15.2" fill="url(#gG)"/>
<circle cx="176.1" cy="349.7" r="15.2" fill="url(#gG)"/>
<circle cx="235.8" cy="349.7" r="15.2" fill="url(#gG)"/>
<circle cx="297.2" cy="349.7" r="15.2" fill="url(#gG)"/>
<circle cx="355.3" cy="349.7" r="15.2" fill="url(#gG)"/>
<circle cx="53.5" cy="425.2" r="15.2" fill="url(#gG)"/>
<circle cx="116.4" cy="425.2" r="15.2" fill="url(#gG)"/>
<circle cx="174.5" cy="425.2" r="15.2" fill="url(#gG)"/>
<circle cx="237.4" cy="425.2" r="15.2" fill="url(#gG)"/>
<circle cx="295.6" cy="425.2" r="15.2" fill="url(#gG)"/>
<circle cx="357.0" cy="425.2" r="15.2" fill="url(#gG)"/>
<circle cx="53.5" cy="519.3" r="15.2" fill="url(#gG)"/>
<circle cx="116.4" cy="519.3" r="15.2" fill="url(#gG)"/>
<circle cx="174.5" cy="519.3" r="15.2" fill="url(#gG)"/>
<circle cx="237.4" cy="519.3" r="15.2" fill="url(#gG)"/>
<circle cx="295.6" cy="519.3" r="15.2" fill="url(#gG)"/>
<circle cx="357.0" cy="519.3" r="15.2" fill="url(#gG)"/>
<circle cx="56.6" cy="596.4" r="15.2" fill="url(#gG)"/>
<circle cx="114.8" cy="596.4" r="15.2" fill="url(#gG)"/>
<circle cx="176.1" cy="596.4" r="15.2" fill="url(#gG)"/>
<circle cx="235.8" cy="596.4" r="15.2" fill="url(#gG)"/>
<circle cx="297.2" cy="596.4" r="15.2" fill="url(#gG)"/>
<circle cx="355.3" cy="596.4" r="15.2" fill="url(#gG)"/>
<circle cx="56.6" cy="689.1" r="15.2" fill="url(#gG)"/>
<circle cx="114.8" cy="689.1" r="15.2" fill="url(#gG)"/>
<circle cx="176.1" cy="689.1" r="15.2" fill="url(#gG)"/>
<circle cx="235.8" cy="689.1" r="15.2" fill="url(#gG)"/>
<circle cx="297.2" cy="689.1" r="15.2" fill="url(#gG)"/>
<circle cx="355.3" cy="689.1" r="15.2" fill="url(#gG)"/>
<circle cx="53.5" cy="766.2" r="15.2" fill="url(#gG)"/>
<circle cx="116.4" cy="766.2" r="15.2" fill="url(#gG)"/>
<circle cx="174.5" cy="766.2" r="15.2" fill="url(#gG)"/>
<circle cx="237.4" cy="766.2" r="15.2" fill="url(#gG)"/>
<circle cx="295.6" cy="766.2" r="15.2" fill="url(#gG)"/>
<circle cx="357.0" cy="766.2" r="15.2" fill="url(#gG)"/>
<circle cx="53.5" cy="860.9" r="15.2" fill="url(#gG)"/>
<circle cx="116.4" cy="860.9" r="15.2" fill="url(#gG)"/>
<circle cx="174.5" cy="860.9" r="15.2" fill="url(#gG)"/>
<circle cx="237.4" cy="860.9" r="15.2" fill="url(#gG)"/>
<circle cx="295.6" cy="860.9" r="15.2" fill="url(#gG)"/>
<circle cx="357.0" cy="860.9" r="15.2" fill="url(#gG)"/>
<polygon points="50.0,168.8 26.5,219.2 60.0,266.3 82.9,216.0" fill="#e0e430" fill-opacity="0.50"/>
<polygon points="170.0,168.8 146.7,219.2 180.0,266.3 203.3,216.0" fill="#e0e430" fill-opacity="0.50"/>
<polygon points="290.6,168.8 267.1,219.2 300.6,266.3 324.4,216.0" fill="#e0e430" fill-opacity="0.50"/>
<polygon points="60.0,338.7 26.5,386.1 50.0,436.2 82.9,389.3" fill="#e0e430" fill-opacity="0.50"/>
<polygon points="180.0,338.7 146.7,386.1 170.0,436.2 203.3,389.3" fill="#e0e430" fill-opacity="0.50"/>
<polygon points="300.6,338.7 267.1,386.1 290.6,436.2 324.4,389.3" fill="#e0e430" fill-opacity="0.50"/>
<polygon points="50.0,508.3 26.5,559.1 60.0,607.4 82.9,555.9" fill="#e0e430" fill-opacity="0.50"/>
<polygon points="170.0,508.3 146.7,559.1 180.0,607.4 203.3,555.9" fill="#e0e430" fill-opacity="0.50"/>
<polygon points="290.6,508.3 267.1,559.1 300.6,607.4 324.4,555.9" fill="#e0e430" fill-opacity="0.50"/>
<polygon points="60.0,678.1 26.5,726.9 50.0,777.2 82.9,730.1" fill="#e0e430" fill-opacity="0.50"/>
<polygon points="180.0,678.1 146.7,726.9 170.0,777.2 203.3,730.1" fill="#e0e430" fill-opacity="0.50"/>
<polygon points="300.6,678.1 267.1,726.9 290.6,777.2 324.4,730.1" fill="#e0e430" fill-opacity="0.50"/>
<circle cx="55.0" cy="217.6" r="10.4" fill="url(#gO)"/>
<circle cx="115.0" cy="217.6" r="10.4" fill="url(#gO)"/>
<circle cx="175.0" cy="217.6" r="10.4" fill="url(#gO)"/>
<circle cx="235.8" cy="217.6" r="10.4" fill="url(#gO)"/>
<circle cx="295.6" cy="217.6" r="10.4" fill="url(#gO)"/>
<circle cx="356.0" cy="217.6" r="10.4" fill="url(#gO)"/>
<circle cx="55.0" cy="387.7" r="10.4" fill="url(#gO)"/>
<circle cx="115.0" cy="387.7" r="10.4" fill="url(#gO)"/>
<circle cx="175.0" cy="387.7" r="10.4" fill="url(#gO)"/>
<circle cx="235.8" cy="387.7" r="10.4" fill="url(#gO)"/>
<circle cx="295.6" cy="387.7" r="10.4" fill="url(#gO)"/>
<circle cx="356.0" cy="387.7" r="10.4" fill="url(#gO)"/>
<circle cx="55.0" cy="557.5" r="10.4" fill="url(#gO)"/>
<circle cx="115.0" cy="557.5" r="10.4" fill="url(#gO)"/>
<circle cx="175.0" cy="557.5" r="10.4" fill="url(#gO)"/>
<circle cx="235.8" cy="557.5" r="10.4" fill="url(#gO)"/>
<circle cx="295.6" cy="557.5" r="10.4" fill="url(#gO)"/>
<circle cx="356.0" cy="557.5" r="10.4" fill="url(#gO)"/>
<circle cx="55.0" cy="728.5" r="10.4" fill="url(#gO)"/>
<circle cx="115.0" cy="728.5" r="10.4" fill="url(#gO)"/>
<circle cx="175.0" cy="728.5" r="10.4" fill="url(#gO)"/>
<circle cx="235.8" cy="728.5" r="10.4" fill="url(#gO)"/>
<circle cx="295.6" cy="728.5" r="10.4" fill="url(#gO)"/>
<circle cx="356.0" cy="728.5" r="10.4" fill="url(#gO)"/>
<circle cx="47.5" cy="302.5" r="9.8" fill="url(#gR)"/>
<circle cx="122.5" cy="302.5" r="9.8" fill="url(#gR)"/>
<circle cx="167.5" cy="302.5" r="9.8" fill="url(#gR)"/>
<circle cx="243.3" cy="302.5" r="9.8" fill="url(#gR)"/>
<circle cx="288.1" cy="302.5" r="9.8" fill="url(#gR)"/>
<circle cx="363.5" cy="302.5" r="9.8" fill="url(#gR)"/>
<circle cx="62.5" cy="472.6" r="9.8" fill="url(#gR)"/>
<circle cx="107.5" cy="472.6" r="9.8" fill="url(#gR)"/>
<circle cx="182.5" cy="472.6" r="9.8" fill="url(#gR)"/>
<circle cx="228.3" cy="472.6" r="9.8" fill="url(#gR)"/>
<circle cx="303.1" cy="472.6" r="9.8" fill="url(#gR)"/>
<circle cx="348.5" cy="472.6" r="9.8" fill="url(#gR)"/>
<circle cx="47.5" cy="643.3" r="9.8" fill="url(#gR)"/>
<circle cx="122.5" cy="643.3" r="9.8" fill="url(#gR)"/>
<circle cx="167.5" cy="643.3" r="9.8" fill="url(#gR)"/>
<circle cx="243.3" cy="643.3" r="9.8" fill="url(#gR)"/>
<circle cx="288.1" cy="643.3" r="9.8" fill="url(#gR)"/>
<circle cx="363.5" cy="643.3" r="9.8" fill="url(#gR)"/>
<circle cx="62.5" cy="813.4" r="9.8" fill="url(#gR)"/>
<circle cx="107.5" cy="813.4" r="9.8" fill="url(#gR)"/>
<circle cx="182.5" cy="813.4" r="9.8" fill="url(#gR)"/>
<circle cx="228.3" cy="813.4" r="9.8" fill="url(#gR)"/>
<circle cx="303.1" cy="813.4" r="9.8" fill="url(#gR)"/>
<circle cx="348.5" cy="813.4" r="9.8" fill="url(#gR)"/>
<circle cx="27.0" cy="909.8" r="5.9" fill="url(#gW)"/>
<circle cx="87.2" cy="909.8" r="5.9" fill="url(#gW)"/>
<circle cx="146.6" cy="909.8" r="5.9" fill="url(#gW)"/>
<circle cx="206.2" cy="909.8" r="5.9" fill="url(#gW)"/>
<circle cx="265.9" cy="909.8" r="5.9" fill="url(#gW)"/>
<circle cx="325.8" cy="909.8" r="5.9" fill="url(#gW)"/>
<circle cx="385.5" cy="909.8" r="5.9" fill="url(#gW)"/>
<circle cx="27.0" cy="994.8" r="5.9" fill="url(#gW)"/>
<circle cx="87.2" cy="994.8" r="5.9" fill="url(#gW)"/>
<circle cx="146.6" cy="994.8" r="5.9" fill="url(#gW)"/>
<circle cx="206.2" cy="994.8" r="5.9" fill="url(#gW)"/>
<circle cx="265.9" cy="994.8" r="5.9" fill="url(#gW)"/>
<circle cx="325.8" cy="994.8" r="5.9" fill="url(#gW)"/>
<circle cx="385.5" cy="994.8" r="5.9" fill="url(#gW)"/>
<circle cx="116.8" cy="951.9" r="5.9" fill="url(#gW)"/>
<circle cx="236.4" cy="951.9" r="5.9" fill="url(#gW)"/>
<circle cx="355.3" cy="951.9" r="5.9" fill="url(#gW)"/>
<circle cx="116.8" cy="1036.6" r="5.9" fill="url(#gW)"/>
<circle cx="236.4" cy="1036.6" r="5.9" fill="url(#gW)"/>
<circle cx="355.3" cy="1036.6" r="5.9" fill="url(#gW)"/>
<circle cx="50.0" cy="168.8" r="5.9" fill="url(#gW)"/>
<circle cx="60.0" cy="266.3" r="5.9" fill="url(#gW)"/>
<circle cx="170.0" cy="168.8" r="5.9" fill="url(#gW)"/>
<circle cx="180.0" cy="266.3" r="5.9" fill="url(#gW)"/>
<circle cx="290.6" cy="168.8" r="5.9" fill="url(#gW)"/>
<circle cx="300.6" cy="266.3" r="5.9" fill="url(#gW)"/>
<circle cx="24.5" cy="219.2" r="5.9" fill="url(#gW)"/>
<circle cx="84.9" cy="216.0" r="5.9" fill="url(#gW)"/>
<circle cx="144.7" cy="219.2" r="5.9" fill="url(#gW)"/>
<circle cx="205.3" cy="216.0" r="5.9" fill="url(#gW)"/>
<circle cx="265.1" cy="219.2" r="5.9" fill="url(#gW)"/>
<circle cx="326.4" cy="216.0" r="5.9" fill="url(#gW)"/>
<circle cx="386.8" cy="219.2" r="5.9" fill="url(#gW)"/>
<circle cx="60.0" cy="338.7" r="5.9" fill="url(#gW)"/>
<circle cx="50.0" cy="436.2" r="5.9" fill="url(#gW)"/>
<circle cx="180.0" cy="338.7" r="5.9" fill="url(#gW)"/>
<circle cx="170.0" cy="436.2" r="5.9" fill="url(#gW)"/>
<circle cx="300.6" cy="338.7" r="5.9" fill="url(#gW)"/>
<circle cx="290.6" cy="436.2" r="5.9" fill="url(#gW)"/>
<circle cx="24.5" cy="386.1" r="5.9" fill="url(#gW)"/>
<circle cx="84.9" cy="389.3" r="5.9" fill="url(#gW)"/>
<circle cx="144.7" cy="386.1" r="5.9" fill="url(#gW)"/>
<circle cx="205.3" cy="389.3" r="5.9" fill="url(#gW)"/>
<circle cx="265.1" cy="386.1" r="5.9" fill="url(#gW)"/>
<circle cx="326.4" cy="389.3" r="5.9" fill="url(#gW)"/>
<circle cx="386.8" cy="386.1" r="5.9" fill="url(#gW)"/>
<circle cx="50.0" cy="508.3" r="5.9" fill="url(#gW)"/>
<circle cx="60.0" cy="607.4" r="5.9" fill="url(#gW)"/>
<circle cx="170.0" cy="508.3" r="5.9" fill="url(#gW)"/>
<circle cx="180.0" cy="607.4" r="5.9" fill="url(#gW)"/>
<circle cx="290.6" cy="508.3" r="5.9" fill="url(#gW)"/>
<circle cx="300.6" cy="607.4" r="5.9" fill="url(#gW)"/>
<circle cx="24.5" cy="559.1" r="5.9" fill="url(#gW)"/>
<circle cx="84.9" cy="555.9" r="5.9" fill="url(#gW)"/>
<circle cx="144.7" cy="559.1" r="5.9" fill="url(#gW)"/>
<circle cx="205.3" cy="555.9" r="5.9" fill="url(#gW)"/>
<circle cx="265.1" cy="559.1" r="5.9" fill="url(#gW)"/>
<circle cx="326.4" cy="555.9" r="5.9" fill="url(#gW)"/>
<circle cx="386.8" cy="559.1" r="5.9" fill="url(#gW)"/>
<circle cx="60.0" cy="678.1" r="5.9" fill="url(#gW)"/>
<circle cx="50.0" cy="777.2" r="5.9" fill="url(#gW)"/>
<circle cx="180.0" cy="678.1" r="5.9" fill="url(#gW)"/>
<circle cx="170.0" cy="777.2" r="5.9" fill="url(#gW)"/>
<circle cx="300.6" cy="678.1" r="5.9" fill="url(#gW)"/>
<circle cx="290.6" cy="777.2" r="5.9" fill="url(#gW)"/>
<circle cx="24.5" cy="726.9" r="5.9" fill="url(#gW)"/>
<circle cx="84.9" cy="730.1" r="5.9" fill="url(#gW)"/>
<circle cx="144.7" cy="726.9" r="5.9" fill="url(#gW)"/>
<circle cx="205.3" cy="730.1" r="5.9" fill="url(#gW)"/>
<circle cx="265.1" cy="726.9" r="5.9" fill="url(#gW)"/>
<circle cx="326.4" cy="730.1" r="5.9" fill="url(#gW)"/>
<circle cx="386.8" cy="726.9" r="5.9" fill="url(#gW)"/>
<circle cx="10.0" cy="302.5" r="5.9" fill="url(#gW)"/>
<circle cx="131.1" cy="302.5" r="5.9" fill="url(#gW)"/>
<circle cx="251.9" cy="302.5" r="5.9" fill="url(#gW)"/>
<circle cx="401.0" cy="302.5" r="5.9" fill="url(#gW)"/>
<circle cx="98.9" cy="472.6" r="5.9" fill="url(#gW)"/>
<circle cx="219.7" cy="472.6" r="5.9" fill="url(#gW)"/>
<circle cx="339.9" cy="472.6" r="5.9" fill="url(#gW)"/>
<circle cx="10.0" cy="643.3" r="5.9" fill="url(#gW)"/>
<circle cx="131.1" cy="643.3" r="5.9" fill="url(#gW)"/>
<circle cx="251.9" cy="643.3" r="5.9" fill="url(#gW)"/>
<circle cx="401.0" cy="643.3" r="5.9" fill="url(#gW)"/>
<circle cx="50.0" cy="850.9" r="5.9" fill="url(#gW)"/>
<circle cx="98.9" cy="813.4" r="5.9" fill="url(#gW)"/>
<circle cx="170.0" cy="850.9" r="5.9" fill="url(#gW)"/>
<circle cx="219.7" cy="813.4" r="5.9" fill="url(#gW)"/>
<circle cx="290.6" cy="850.9" r="5.9" fill="url(#gW)"/>
<circle cx="339.9" cy="813.4" r="5.9" fill="url(#gW)"/>
</g>
<path d="M103.3,73 C103.3,118 150,149.5 205.6,149.5 C258,149.5 300,122 306.2,93.5" fill="none" stroke="#9a9a9a" stroke-width="2" stroke-opacity="0.6"/>
<path d="M103.3,72.1 C103.3,115 150,148.1 205.6,148.1 C258,148.1 300,120 306.2,92 L315,92 L301.7,72.5 L283,92 L289.3,92 C280,118 245,140 205.6,146.3 C160,143 121,110 119.9,72.1 Z" fill="url(#arr)"/>
<path d="M283,92 L301.7,72.5 L315,92 L306.2,92 C305.5,97 304.5,101 303,105 L288,103 C288.8,99 289.2,96 289.3,92 Z" fill="url(#arrh)"/>
<text transform="translate(94.63,59.20) scale(0.800,1)" font-size="37" font-family="Liberation Sans" fill="#000">H</text>
<text transform="translate(115.19,69.00) scale(0.800,1)" font-size="24.6" font-family="Liberation Sans" fill="#000">2</text>
<text transform="translate(275.23,58.60) scale(0.800,1)" font-size="37" font-family="Liberation Sans" fill="#000">H</text>
<text transform="translate(295.99,68.50) scale(0.800,1)" font-size="24.6" font-family="Liberation Sans" fill="#000">2</text>
<text transform="translate(306.85,58.60) scale(0.840,1)" font-size="37" font-family="Liberation Sans" fill="#000">O</text>
<text transform="translate(0.87,51.60) scale(0.785,1)" font-size="52.4" font-weight="bold" font-family="Liberation Sans" fill="#000">a</text>
</svg>
</body></html>
